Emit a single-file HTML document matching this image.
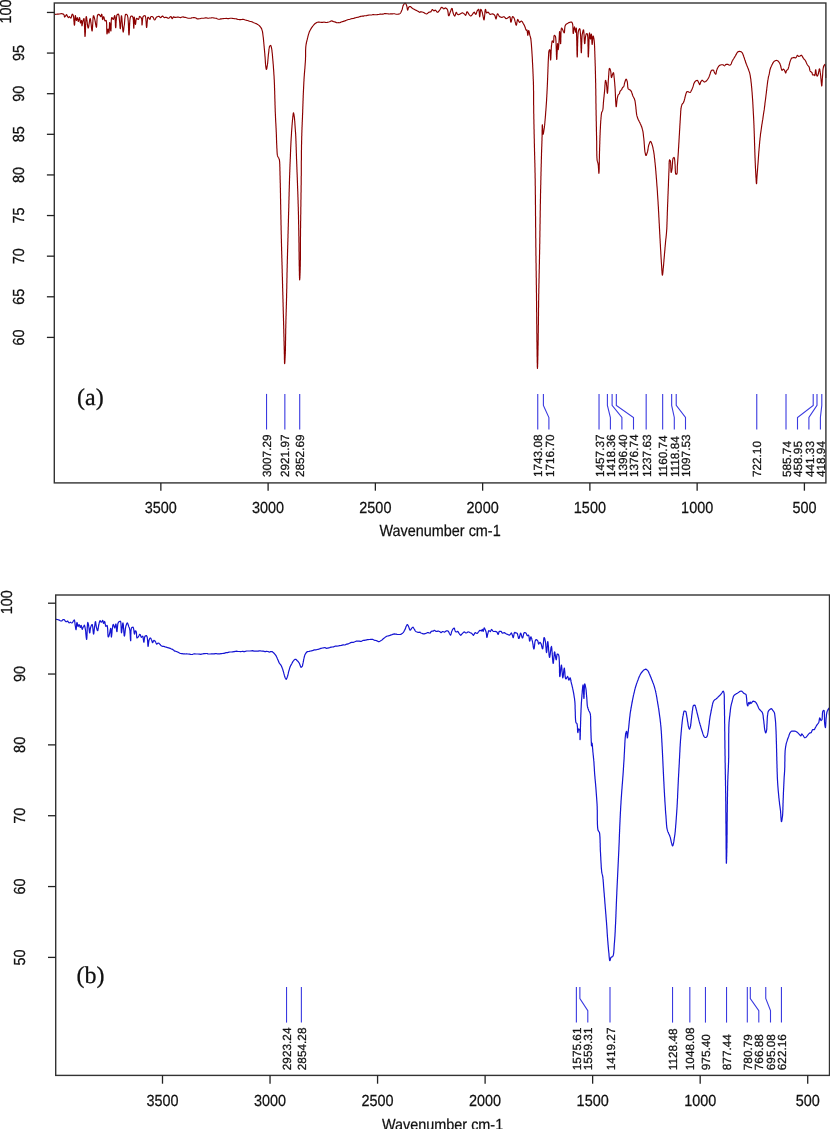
<!DOCTYPE html><html><head><meta charset="utf-8"><style>
html,body{margin:0;padding:0;background:#fff;}
svg{display:block;text-rendering:geometricPrecision;}
text{filter:grayscale(1);stroke:#111;stroke-width:0.25px;}
.ax{font-family:"Liberation Sans", sans-serif;font-size:16px;fill:#111;}
.tt{font-family:"Liberation Sans", sans-serif;font-size:16px;fill:#111;}
.an{font-family:"Liberation Sans", sans-serif;font-size:11.8px;fill:#111;}
.pl{font-family:"Liberation Serif", serif;font-size:24px;fill:#111;}
</style></head><body>
<svg width="830" height="1129" viewBox="0 0 830 1129">
<rect width="830" height="1129" fill="#fff"/>
<path d="M54.0,14.2 54.8,14.3 55.6,14.3 56.4,14.2 57.3,14.1 58.2,14.1 59.0,14.0 59.9,13.9 60.7,13.7 61.4,13.6 62.1,13.7 62.7,13.9 63.2,14.1 63.6,14.3 64.1,15.0 64.3,15.9 64.4,16.7 64.6,17.1 65.0,16.7 65.6,15.9 66.1,15.0 66.5,14.5 66.9,15.0 67.2,15.8 67.5,16.6 68.5,17.6 69.4,16.6 70.1,17.4 70.9,18.2 71.2,17.6 71.5,16.6 71.8,15.5 72.0,14.6 72.3,14.2 72.8,14.6 73.3,15.6 73.4,16.1 73.5,16.8 73.7,17.6 73.8,18.6 73.8,19.6 73.9,20.6 74.0,21.6 74.1,22.5 74.1,23.4 74.2,24.2 74.3,24.7 74.4,25.1 74.4,25.2 74.5,25.1 74.6,24.6 74.7,23.9 74.7,23.1 74.8,22.1 74.9,21.0 74.9,19.9 75.0,18.8 75.1,17.8 75.1,16.9 75.2,16.2 75.3,15.8 75.4,15.6 75.5,15.9 75.6,16.5 75.8,17.5 75.9,18.5 76.1,19.5 76.2,20.1 76.4,20.5 76.6,20.0 76.8,19.0 77.1,18.0 77.3,17.7 77.5,17.9 77.7,18.9 77.9,20.0 78.1,21.0 78.3,21.5 78.5,21.0 78.8,20.0 79.1,18.9 79.3,17.9 79.5,17.6 79.7,17.8 79.8,18.6 80.0,19.6 80.1,20.7 80.2,21.8 80.3,22.5 80.5,22.9 80.8,22.2 81.2,21.0 81.5,20.4 81.6,20.7 81.7,21.5 81.7,22.5 81.8,23.6 81.8,24.7 81.9,25.4 82.0,25.8 82.1,25.5 82.2,24.9 82.4,24.0 82.6,23.1 82.7,22.2 82.9,21.4 83.2,20.5 83.4,19.5 83.7,18.8 83.9,18.5 84.0,18.6 84.0,18.8 84.1,19.2 84.2,19.7 84.2,20.4 84.3,21.1 84.3,21.9 84.4,22.8 84.4,23.8 84.5,24.8 84.5,25.8 84.5,26.9 84.6,28.0 84.6,29.0 84.7,30.1 84.7,31.1 84.7,32.0 84.8,32.9 84.8,33.7 84.8,34.5 84.9,35.1 84.9,35.6 84.9,36.0 85.0,36.2 85.0,36.4 85.1,36.3 85.1,36.0 85.2,35.7 85.2,35.2 85.2,34.7 85.3,34.0 85.3,33.2 85.4,32.4 85.4,31.5 85.4,30.6 85.5,29.6 85.5,28.6 85.5,27.5 85.6,26.5 85.6,25.4 85.7,24.4 85.7,23.3 85.7,22.3 85.8,21.4 85.8,20.5 85.9,19.7 85.9,18.9 86.0,18.2 86.0,17.7 86.1,17.2 86.2,16.9 86.2,16.6 86.3,16.6 86.4,16.7 86.5,17.1 86.6,17.6 86.7,18.4 86.8,19.2 86.9,20.2 87.1,21.3 87.2,22.3 87.3,23.4 87.4,24.5 87.6,25.4 87.7,26.3 87.8,27.1 88.0,27.6 88.1,28.0 88.2,28.0 88.4,28.0 88.5,27.6 88.6,27.0 88.8,26.2 88.9,25.3 89.0,24.3 89.2,23.3 89.3,22.3 89.5,21.3 89.6,20.4 89.7,19.6 89.9,19.0 90.0,18.6 90.1,18.6 90.3,18.6 90.4,18.9 90.5,19.4 90.6,20.1 90.7,20.9 90.8,21.8 90.9,22.7 91.1,23.7 91.2,24.8 91.3,25.8 91.4,26.8 91.5,27.8 91.6,28.7 91.7,29.5 91.8,30.1 91.9,30.6 92.0,30.9 92.1,31.0 92.2,30.9 92.2,30.7 92.3,30.2 92.4,29.7 92.4,29.0 92.5,28.2 92.5,27.3 92.6,26.4 92.6,25.4 92.7,24.4 92.8,23.3 92.8,22.3 92.9,21.3 92.9,20.3 93.0,19.3 93.0,18.4 93.1,17.7 93.2,17.0 93.3,16.4 93.3,16.0 93.4,15.7 93.5,15.7 93.7,15.8 93.9,16.2 94.1,16.9 94.3,17.8 94.6,18.7 94.8,19.6 95.0,20.4 95.1,21.2 95.3,22.1 95.5,23.1 95.6,24.1 95.8,25.0 96.0,25.9 96.1,26.6 96.3,27.0 96.4,27.3 96.5,27.1 96.6,26.8 96.6,26.3 96.7,25.7 96.7,25.0 96.8,24.1 96.8,23.2 96.9,22.3 96.9,21.3 97.0,20.3 97.0,19.3 97.1,18.4 97.2,17.5 97.3,16.6 97.4,15.9 97.5,15.3 97.7,14.9 97.9,14.7 98.6,14.4 99.3,14.6 99.8,15.3 100.3,16.2 100.7,16.6 101.1,15.9 101.4,14.8 101.7,14.2 101.9,14.5 102.0,15.2 102.1,16.3 102.3,17.4 102.4,18.4 102.5,19.2 102.7,19.6 102.9,19.0 103.1,18.0 103.4,17.0 103.6,16.7 103.9,16.9 104.1,17.6 104.3,18.6 104.5,19.7 104.8,20.5 105.1,20.9 106.0,20.3 106.2,20.5 106.3,21.0 106.4,21.5 106.5,22.2 106.6,23.0 106.6,23.8 106.7,24.8 106.7,25.8 106.7,26.8 106.7,27.9 106.7,28.9 106.8,29.9 106.8,30.8 106.8,31.7 106.8,32.4 106.9,33.0 106.9,33.5 106.9,33.8 107.0,33.9 107.1,33.7 107.3,33.0 107.4,32.0 107.5,31.0 107.7,30.1 107.8,29.4 108.0,29.0 108.2,29.5 108.4,30.5 108.6,31.6 108.8,32.6 108.9,33.0 109.0,32.8 109.1,32.4 109.1,31.8 109.2,31.1 109.3,30.2 109.3,29.2 109.3,28.2 109.4,27.1 109.4,26.1 109.5,25.1 109.5,24.2 109.5,23.5 109.6,22.9 109.6,22.5 109.7,22.5 109.8,22.5 109.9,23.0 110.0,23.7 110.1,24.6 110.2,25.6 110.3,26.7 110.4,27.8 110.5,28.8 110.6,29.7 110.7,30.4 110.8,30.9 110.9,31.0 110.9,30.9 111.0,30.6 111.0,30.1 111.0,29.5 111.1,28.7 111.1,27.9 111.1,26.9 111.1,25.9 111.2,24.9 111.2,23.8 111.2,22.8 111.2,21.8 111.3,20.8 111.3,20.0 111.4,19.2 111.5,18.5 111.6,18.0 111.7,17.7 111.8,17.5 112.3,18.0 112.8,19.0 113.3,19.5 113.6,19.0 113.9,18.1 114.2,16.9 114.5,16.0 114.7,15.6 114.8,15.7 114.9,16.1 115.0,16.6 115.1,17.3 115.1,18.2 115.2,19.1 115.2,20.1 115.3,21.1 115.3,22.2 115.4,23.2 115.4,24.2 115.4,25.2 115.5,26.0 115.5,26.7 115.6,27.2 115.6,27.5 115.7,27.7 115.8,27.5 115.8,27.3 115.9,26.8 115.9,26.2 116.0,25.4 116.0,24.6 116.0,23.7 116.1,22.7 116.1,21.7 116.2,20.7 116.3,19.6 116.4,18.6 116.4,17.7 116.6,16.9 116.7,16.1 116.8,15.5 117.0,15.0 117.1,14.6 118.4,14.1 118.6,14.3 118.7,14.7 118.9,15.3 119.0,15.9 119.1,16.7 119.2,17.6 119.3,18.6 119.4,19.6 119.5,20.6 119.6,21.7 119.7,22.7 119.8,23.7 119.8,24.7 119.9,25.6 120.0,26.5 120.0,27.2 120.1,27.8 120.2,28.2 120.2,28.5 120.3,28.7 120.4,28.5 120.5,28.2 120.5,27.6 120.6,27.0 120.7,26.2 120.7,25.2 120.8,24.2 120.9,23.2 120.9,22.1 121.0,21.0 121.0,20.0 121.1,19.0 121.1,18.1 121.2,17.2 121.3,16.6 121.3,16.0 121.4,15.7 121.5,15.7 121.5,15.7 121.6,16.0 121.7,16.4 121.7,16.9 121.8,17.6 121.9,18.4 122.0,19.2 122.0,20.2 122.1,21.2 122.2,22.2 122.3,23.3 122.4,24.3 122.4,25.4 122.5,26.4 122.6,27.4 122.7,28.4 122.7,29.2 122.8,30.0 122.9,30.7 123.0,31.2 123.1,31.6 123.1,31.9 123.2,32.1 123.3,31.9 123.4,31.5 123.5,31.0 123.6,30.4 123.7,29.6 123.8,28.7 123.9,27.8 124.0,26.9 124.1,26.0 124.3,25.1 124.4,24.3 124.5,23.6 124.5,22.7 124.6,21.9 124.7,21.0 124.7,20.0 124.8,19.1 124.9,18.2 125.0,17.3 125.1,16.5 125.2,15.8 125.3,15.2 125.4,14.7 125.6,14.4 125.8,14.3 126.5,14.4 127.3,15.1 127.4,15.4 127.5,15.8 127.6,16.4 127.8,17.0 127.9,17.6 128.0,18.4 128.0,19.2 128.1,20.1 128.2,21.0 128.3,21.9 128.3,22.9 128.4,23.9 128.4,24.9 128.5,25.9 128.5,26.9 128.5,27.8 128.6,28.8 128.6,29.7 128.6,30.6 128.7,31.4 128.7,32.1 128.7,32.8 128.8,33.4 128.8,33.9 128.8,34.3 128.9,34.6 128.9,34.8 129.0,35.0 129.0,34.8 129.1,34.6 129.1,34.2 129.2,33.8 129.2,33.2 129.3,32.6 129.3,31.8 129.3,31.0 129.4,30.2 129.4,29.2 129.5,28.3 129.5,27.3 129.5,26.3 129.6,25.4 129.6,24.4 129.7,23.4 129.7,22.5 129.8,21.7 129.8,20.9 129.9,20.1 130.0,19.5 130.1,18.9 130.1,18.5 130.4,17.4 130.7,16.5 131.1,16.0 131.8,16.1 132.6,16.6 132.7,16.9 132.9,17.5 133.1,18.1 133.2,18.9 133.3,19.8 133.4,20.8 133.4,21.8 133.5,22.9 133.5,23.9 133.6,24.8 133.6,25.7 133.6,26.5 133.7,27.2 133.7,27.7 133.8,28.0 133.8,28.2 133.9,28.0 133.9,27.6 133.9,27.0 133.9,26.2 134.0,25.3 134.0,24.2 134.0,23.1 134.0,22.0 134.0,21.0 134.0,19.9 134.0,19.0 134.1,18.2 134.1,17.6 134.2,17.2 134.2,17.1 134.3,17.2 134.4,17.8 134.5,18.6 134.6,19.6 134.8,20.7 134.9,21.7 135.0,22.7 135.2,23.5 135.3,24.1 135.4,24.4 135.6,24.0 135.7,23.4 135.8,22.5 135.9,21.4 136.0,20.3 136.2,19.3 136.4,18.6 136.6,18.3 137.2,18.6 137.9,19.3 138.4,19.5 138.8,18.9 139.1,17.9 139.3,16.9 139.6,16.4 140.2,16.7 140.9,17.4 141.4,18.3 141.6,18.9 141.8,19.7 141.8,20.6 141.9,21.6 141.9,22.6 141.9,23.5 141.9,24.2 142.0,24.7 142.0,24.9 142.1,24.7 142.2,24.3 142.2,23.7 142.3,23.0 142.3,22.1 142.4,21.1 142.5,20.1 142.6,19.2 142.7,18.3 142.8,17.5 143.0,16.9 143.3,16.4 144.1,15.7 145.1,15.6 145.3,16.1 145.5,16.6 145.6,17.2 145.7,17.9 145.9,18.8 145.9,19.8 146.0,20.8 146.1,21.8 146.2,22.9 146.2,23.9 146.3,24.8 146.3,25.6 146.4,26.3 146.5,26.8 146.5,27.2 146.6,27.5 146.7,27.1 146.8,26.7 146.9,26.1 147.0,25.3 147.0,24.4 147.1,23.3 147.2,22.3 147.3,21.2 147.4,20.1 147.5,19.2 147.6,18.3 147.7,17.7 147.9,17.2 148.1,17.2 148.5,17.4 149.0,18.2 149.5,19.1 149.9,19.4 150.2,19.0 150.4,18.0 150.7,17.0 151.1,16.5 152.0,16.5 152.9,17.0 153.3,17.6 153.7,18.4 154.0,19.2 154.3,19.8 154.7,19.9 155.0,19.8 155.4,19.2 155.7,18.4 156.1,17.6 156.5,17.1 157.3,16.8 158.1,16.5 158.9,16.3 159.6,16.7 160.1,17.4 160.7,17.6 161.3,17.2 161.9,16.4 162.5,16.0 163.1,16.5 163.7,17.2 164.3,17.6 165.2,17.4 166.1,17.3 166.9,17.6 167.7,18.1 168.6,18.3 169.2,18.0 169.8,17.3 170.4,16.8 171.0,16.5 171.4,17.1 171.8,18.2 172.2,18.7 172.5,18.4 172.9,17.6 173.4,16.9 174.1,17.1 174.9,17.4 175.8,17.4 176.6,17.3 177.4,17.1 178.2,17.0 179.0,17.2 179.8,17.5 180.6,17.6 181.4,17.3 182.2,17.0 183.0,16.9 183.7,17.1 184.4,17.3 185.1,17.3 185.9,17.5 186.6,17.8 187.4,18.0 188.1,18.2 188.8,18.2 189.6,18.2 190.2,18.2 191.1,18.1 191.9,17.8 192.7,17.7 193.5,17.6 194.3,17.6 195.1,17.7 195.9,18.1 196.7,18.6 197.5,18.9 198.2,18.9 199.0,18.8 199.9,18.7 200.6,18.5 201.4,18.3 202.2,18.2 203.0,18.2 203.9,18.2 204.7,18.0 205.5,17.8 206.3,17.8 207.1,18.0 207.9,18.3 208.7,18.2 209.5,18.0 210.3,18.0 211.1,17.9 211.9,17.7 212.7,17.7 213.5,17.9 214.3,18.0 215.0,18.2 215.7,18.2 216.4,18.3 217.1,18.7 217.8,19.0 218.5,19.2 219.2,19.3 220.0,19.1 220.7,18.9 221.5,18.9 222.3,18.8 223.1,18.6 224.0,18.5 224.7,18.5 225.4,18.5 226.2,18.3 227.0,18.5 227.8,18.6 228.5,18.6 229.3,18.5 230.0,18.3 230.9,18.2 231.7,18.2 232.6,18.4 233.4,18.5 234.1,18.6 234.8,18.7 235.7,18.7 236.4,18.9 237.2,19.2 237.9,19.4 238.7,19.5 239.4,19.6 240.2,19.6 240.8,19.6 241.7,19.5 242.4,19.4 243.3,19.4 243.9,19.5 244.6,19.7 245.4,20.0 246.1,20.2 246.9,20.4 247.5,20.5 248.2,20.7 248.9,21.0 249.6,21.3 250.3,21.5 251.0,21.5 251.7,21.7 252.5,22.1 253.2,22.5 253.9,22.8 254.6,23.0 255.3,23.3 256.1,23.6 256.9,24.0 257.6,24.4 258.3,24.9 259.0,25.4 259.6,26.0 260.2,26.6 260.7,27.3 261.1,27.9 261.5,28.6 261.8,29.3 262.0,30.1 262.3,30.9 262.5,31.6 262.6,32.3 262.7,33.1 262.8,33.9 262.9,34.7 263.0,35.5 263.1,36.3 263.2,37.0 263.3,37.6 263.4,38.3 263.4,39.0 263.5,39.7 263.6,40.4 263.6,41.1 263.7,41.8 263.8,42.5 263.8,43.3 263.9,44.0 264.0,44.8 264.0,45.4 264.1,46.1 264.2,46.8 264.2,47.6 264.3,48.3 264.4,49.0 264.4,49.7 264.5,50.5 264.6,51.2 264.6,51.9 264.7,52.7 264.8,53.4 264.8,54.1 264.9,54.9 264.9,55.6 265.0,56.3 265.1,57.1 265.1,57.9 265.2,58.7 265.2,59.5 265.3,60.3 265.3,61.1 265.4,61.8 265.4,62.6 265.5,63.3 265.5,64.0 265.6,64.7 265.7,65.3 265.7,65.9 265.8,66.4 265.9,67.5 266.1,68.4 266.2,69.2 266.4,69.4 266.5,69.3 266.7,68.8 266.9,68.0 267.0,67.1 267.2,66.2 267.3,65.2 267.4,64.7 267.5,64.1 267.6,63.4 267.7,62.8 267.7,62.1 267.8,61.3 267.9,60.6 267.9,59.8 268.0,59.0 268.1,58.2 268.1,57.5 268.2,56.7 268.3,55.9 268.3,55.2 268.4,54.5 268.5,53.8 268.6,53.2 268.7,52.4 268.8,51.5 268.9,50.6 268.9,49.8 269.0,48.9 269.2,48.2 269.3,47.5 269.4,46.9 269.6,46.3 269.8,46.0 270.6,45.4 270.9,45.7 271.1,46.4 271.4,47.4 271.6,48.4 271.7,48.9 271.8,49.5 271.9,50.1 272.0,50.8 272.0,51.5 272.1,52.2 272.2,53.0 272.3,53.8 272.4,54.6 272.4,55.3 272.5,56.1 272.6,56.9 272.6,57.7 272.7,58.5 272.8,59.2 272.8,59.9 272.9,60.7 273.0,61.4 273.0,62.1 273.1,62.8 273.1,63.5 273.2,64.2 273.3,65.0 273.3,65.7 273.4,66.4 273.4,67.1 273.5,67.9 273.5,68.6 273.6,69.3 273.6,70.1 273.7,70.7 273.7,71.4 273.8,72.1 273.8,72.7 273.8,73.4 273.9,74.0 273.9,74.7 274.0,75.4 274.0,76.0 274.1,76.7 274.1,77.4 274.1,78.1 274.2,78.9 274.2,79.6 274.3,80.4 274.3,81.3 274.3,82.1 274.4,82.7 274.4,83.2 274.4,83.8 274.4,84.4 274.5,85.0 274.5,85.7 274.5,86.3 274.5,87.0 274.5,87.7 274.6,88.4 274.6,89.1 274.6,89.8 274.6,90.5 274.7,91.2 274.7,92.0 274.7,92.7 274.7,93.5 274.7,94.2 274.8,95.0 274.8,95.7 274.8,96.5 274.8,97.3 274.8,98.1 274.9,98.8 274.9,99.6 274.9,100.4 274.9,101.2 275.0,101.9 275.0,102.7 275.0,103.4 275.0,104.2 275.0,104.9 275.1,105.7 275.1,106.4 275.1,107.2 275.1,107.9 275.2,108.6 275.2,109.3 275.2,110.0 275.2,110.6 275.2,111.3 275.3,111.9 275.3,112.6 275.3,113.2 275.4,114.0 275.4,114.8 275.4,115.5 275.5,116.3 275.5,117.1 275.5,117.8 275.6,118.5 275.6,119.2 275.6,119.9 275.7,120.6 275.7,121.3 275.7,122.0 275.8,122.7 275.8,123.4 275.9,124.1 275.9,124.7 275.9,125.4 276.0,126.1 276.0,126.8 276.0,127.5 276.1,128.1 276.1,128.8 276.1,129.5 276.2,130.2 276.2,130.9 276.2,131.6 276.3,132.4 276.3,133.1 276.3,133.8 276.4,134.6 276.4,135.4 276.4,136.1 276.4,136.9 276.5,137.6 276.5,138.4 276.5,139.2 276.5,139.9 276.6,140.7 276.6,141.4 276.6,142.1 276.6,142.9 276.7,143.6 276.7,144.3 276.7,145.0 276.8,145.6 276.8,146.3 276.8,146.9 276.8,147.5 276.9,148.1 276.9,148.7 277.0,149.5 277.0,150.3 277.0,151.1 277.1,151.9 277.1,152.6 277.2,153.3 277.2,154.0 277.3,154.6 277.4,155.2 277.5,155.7 277.8,156.5 278.2,157.2 278.6,157.8 278.9,158.4 279.1,159.0 279.4,159.8 279.4,160.1 279.5,160.5 279.5,160.9 279.6,161.4 279.6,161.9 279.7,162.5 279.7,163.1 279.7,163.7 279.8,164.4 279.8,165.1 279.8,165.9 279.8,166.6 279.9,167.4 279.9,168.2 279.9,169.1 279.9,169.9 279.9,170.8 280.0,171.6 280.0,172.5 280.0,173.4 280.0,174.2 280.0,175.1 280.1,176.0 280.1,176.8 280.1,177.6 280.1,178.5 280.1,179.3 280.2,179.9 280.2,180.6 280.2,181.2 280.2,181.9 280.2,182.6 280.3,183.2 280.3,183.9 280.3,184.6 280.3,185.3 280.3,186.0 280.3,186.7 280.3,187.4 280.4,188.1 280.4,188.8 280.4,189.5 280.4,190.3 280.4,191.0 280.4,191.7 280.4,192.4 280.5,193.2 280.5,193.9 280.5,194.6 280.5,195.4 280.5,196.1 280.5,196.8 280.5,197.6 280.5,198.3 280.6,199.1 280.6,199.8 280.6,200.5 280.6,201.3 280.6,202.0 280.6,202.7 280.6,203.5 280.6,204.2 280.7,204.9 280.7,205.7 280.7,206.4 280.7,207.1 280.7,207.8 280.7,208.5 280.7,209.3 280.8,210.0 280.8,210.7 280.8,211.4 280.8,212.1 280.8,212.8 280.8,213.5 280.8,214.2 280.9,215.0 280.9,215.7 280.9,216.4 280.9,217.1 280.9,217.8 280.9,218.5 280.9,219.2 281.0,220.0 281.0,220.7 281.0,221.4 281.0,222.1 281.0,222.8 281.0,223.5 281.0,224.2 281.0,225.0 281.1,225.7 281.1,226.4 281.1,227.1 281.1,227.8 281.1,228.5 281.1,229.2 281.1,230.0 281.2,230.7 281.2,231.4 281.2,232.1 281.2,232.8 281.2,233.5 281.2,234.2 281.3,234.9 281.3,235.7 281.3,236.4 281.3,237.1 281.3,237.8 281.3,238.5 281.4,239.2 281.4,239.9 281.4,240.7 281.4,241.4 281.4,242.1 281.4,242.8 281.5,243.5 281.5,244.2 281.5,244.9 281.5,245.7 281.5,246.4 281.6,247.1 281.6,247.8 281.6,248.5 281.6,249.2 281.6,249.9 281.6,250.7 281.7,251.4 281.7,252.1 281.7,252.8 281.7,253.5 281.7,254.2 281.8,254.9 281.8,255.7 281.8,256.4 281.8,257.1 281.8,257.8 281.9,258.5 281.9,259.2 281.9,259.9 281.9,260.6 281.9,261.4 282.0,262.1 282.0,262.8 282.0,263.5 282.0,264.2 282.0,264.9 282.1,265.6 282.1,266.4 282.1,267.1 282.1,267.8 282.1,268.5 282.2,269.2 282.2,269.9 282.2,270.6 282.2,271.4 282.2,272.1 282.2,272.8 282.3,273.5 282.3,274.2 282.3,274.9 282.3,275.6 282.3,276.4 282.4,277.1 282.4,277.8 282.4,278.5 282.4,279.2 282.4,279.9 282.5,280.6 282.5,281.4 282.5,282.1 282.5,282.8 282.5,283.5 282.6,284.2 282.6,284.9 282.6,285.6 282.6,286.3 282.6,287.1 282.6,287.8 282.7,288.5 282.7,289.2 282.7,289.9 282.7,290.6 282.7,291.3 282.8,292.1 282.8,292.8 282.8,293.5 282.8,294.2 282.8,294.9 282.9,295.6 282.9,296.3 282.9,297.1 282.9,297.8 282.9,298.5 283.0,299.2 283.0,299.9 283.0,300.7 283.0,301.4 283.0,302.1 283.1,302.8 283.1,303.6 283.1,304.3 283.1,305.0 283.1,305.7 283.1,306.5 283.2,307.2 283.2,307.9 283.2,308.6 283.2,309.4 283.2,310.1 283.3,310.8 283.3,311.5 283.3,312.3 283.3,313.0 283.3,313.7 283.4,314.4 283.4,315.1 283.4,315.9 283.4,316.6 283.4,317.3 283.5,318.0 283.5,318.7 283.5,319.4 283.5,320.1 283.5,320.8 283.6,321.5 283.6,322.2 283.6,322.9 283.6,323.6 283.6,324.3 283.6,324.9 283.7,325.6 283.7,326.4 283.7,327.1 283.7,327.9 283.7,328.6 283.8,329.4 283.8,330.1 283.8,330.8 283.8,331.6 283.8,332.3 283.8,333.1 283.9,333.8 283.9,334.5 283.9,335.3 283.9,336.0 283.9,336.7 284.0,337.5 284.0,338.2 284.0,338.9 284.0,339.6 284.0,340.3 284.0,341.0 284.1,341.7 284.1,342.4 284.1,343.1 284.1,343.8 284.1,344.5 284.1,345.1 284.2,345.8 284.2,346.5 284.2,347.1 284.2,347.8 284.2,348.4 284.2,349.0 284.3,349.9 284.3,350.8 284.3,351.7 284.3,352.6 284.3,353.6 284.4,354.6 284.4,355.6 284.4,356.5 284.4,357.5 284.4,358.4 284.4,359.3 284.5,360.1 284.5,360.8 284.5,361.5 284.5,362.1 284.5,362.7 284.6,363.1 284.6,363.4 284.6,363.6 284.6,363.6 284.7,363.6 284.7,363.3 284.8,362.8 284.8,362.2 284.9,361.5 284.9,360.7 285.0,359.8 285.0,358.8 285.1,357.8 285.1,356.8 285.2,355.8 285.2,354.9 285.2,354.4 285.3,353.8 285.3,353.3 285.3,352.7 285.3,352.1 285.3,351.5 285.4,350.9 285.4,350.2 285.4,349.6 285.4,348.9 285.4,348.3 285.4,347.6 285.4,346.9 285.5,346.2 285.5,345.4 285.5,344.7 285.5,344.0 285.5,343.2 285.5,342.5 285.5,341.7 285.5,340.9 285.6,340.2 285.6,339.4 285.6,338.6 285.6,337.8 285.6,337.0 285.6,336.3 285.6,335.5 285.6,334.7 285.7,333.9 285.7,333.1 285.7,332.4 285.7,331.6 285.7,330.8 285.7,330.0 285.7,329.3 285.7,328.5 285.8,327.8 285.8,327.1 285.8,326.3 285.8,325.6 285.8,324.9 285.8,324.2 285.9,323.5 285.9,322.8 285.9,322.0 285.9,321.3 285.9,320.6 285.9,319.9 286.0,319.2 286.0,318.5 286.0,317.8 286.0,317.0 286.0,316.3 286.1,315.6 286.1,314.9 286.1,314.2 286.1,313.5 286.1,312.8 286.2,312.0 286.2,311.3 286.2,310.6 286.2,309.9 286.2,309.2 286.3,308.5 286.3,307.8 286.3,307.0 286.3,306.3 286.3,305.6 286.4,304.9 286.4,304.2 286.4,303.5 286.4,302.8 286.4,302.1 286.5,301.3 286.5,300.6 286.5,299.9 286.5,299.2 286.5,298.5 286.6,297.8 286.6,297.1 286.6,296.3 286.6,295.6 286.6,294.9 286.6,294.2 286.6,293.5 286.7,292.8 286.7,292.1 286.7,291.3 286.7,290.6 286.7,289.9 286.7,289.2 286.8,288.5 286.8,287.8 286.8,287.1 286.8,286.3 286.8,285.6 286.8,284.9 286.8,284.2 286.8,283.5 286.9,282.8 286.9,282.1 286.9,281.4 286.9,280.6 286.9,279.9 286.9,279.2 286.9,278.5 287.0,277.8 287.0,277.1 287.0,276.4 287.0,275.6 287.0,274.9 287.0,274.2 287.0,273.5 287.0,272.8 287.1,272.1 287.1,271.4 287.1,270.6 287.1,269.9 287.1,269.2 287.1,268.5 287.2,267.8 287.2,267.1 287.2,266.4 287.2,265.6 287.2,264.9 287.2,264.2 287.3,263.5 287.3,262.8 287.3,262.1 287.3,261.4 287.3,260.6 287.3,259.9 287.4,259.2 287.4,258.5 287.4,257.8 287.4,257.1 287.4,256.4 287.5,255.7 287.5,254.9 287.5,254.2 287.5,253.5 287.5,252.8 287.6,252.1 287.6,251.4 287.6,250.7 287.6,249.9 287.6,249.2 287.7,248.5 287.7,247.8 287.7,247.1 287.7,246.4 287.7,245.7 287.8,244.9 287.8,244.2 287.8,243.5 287.8,242.8 287.8,242.1 287.9,241.4 287.9,240.7 287.9,239.9 287.9,239.2 287.9,238.5 288.0,237.8 288.0,237.1 288.0,236.4 288.0,235.7 288.0,234.9 288.0,234.2 288.1,233.5 288.1,232.8 288.1,232.1 288.1,231.4 288.1,230.7 288.2,230.0 288.2,229.2 288.2,228.5 288.2,227.8 288.2,227.1 288.3,226.4 288.3,225.7 288.3,225.0 288.3,224.2 288.3,223.5 288.4,222.8 288.4,222.1 288.4,221.4 288.4,220.7 288.4,220.0 288.4,219.2 288.5,218.5 288.5,217.8 288.5,217.1 288.5,216.4 288.5,215.7 288.6,215.0 288.6,214.2 288.6,213.5 288.6,212.8 288.6,212.1 288.7,211.4 288.7,210.7 288.7,210.0 288.7,209.3 288.7,208.5 288.8,207.8 288.8,207.1 288.8,206.4 288.8,205.7 288.8,204.9 288.8,204.2 288.9,203.5 288.9,202.7 288.9,202.0 288.9,201.3 288.9,200.5 289.0,199.8 289.0,199.0 289.0,198.3 289.0,197.6 289.0,196.8 289.1,196.1 289.1,195.4 289.1,194.6 289.1,193.9 289.1,193.2 289.1,192.4 289.2,191.7 289.2,191.0 289.2,190.2 289.2,189.5 289.2,188.8 289.3,188.1 289.3,187.4 289.3,186.7 289.3,186.0 289.3,185.3 289.4,184.6 289.4,183.9 289.4,183.2 289.4,182.5 289.4,181.9 289.5,181.2 289.5,180.6 289.5,179.9 289.5,179.3 289.5,178.5 289.6,177.7 289.6,177.0 289.6,176.2 289.6,175.5 289.7,174.7 289.7,174.0 289.7,173.3 289.7,172.6 289.8,171.9 289.8,171.2 289.8,170.5 289.8,169.8 289.9,169.1 289.9,168.4 289.9,167.7 289.9,167.1 290.0,166.4 290.0,165.7 290.0,165.0 290.0,164.3 290.1,163.6 290.1,162.9 290.1,162.2 290.2,161.5 290.2,160.8 290.2,160.1 290.2,159.4 290.3,158.7 290.3,158.0 290.3,157.3 290.4,156.6 290.4,155.9 290.4,155.1 290.4,154.4 290.5,153.7 290.5,153.0 290.5,152.2 290.6,151.5 290.6,150.8 290.6,150.1 290.6,149.3 290.7,148.6 290.7,147.9 290.7,147.2 290.8,146.5 290.8,145.8 290.8,145.1 290.9,144.4 290.9,143.7 290.9,143.0 291.0,142.4 291.0,141.7 291.0,141.1 291.1,140.4 291.1,139.8 291.1,139.0 291.2,138.3 291.2,137.5 291.3,136.8 291.3,136.0 291.4,135.3 291.4,134.6 291.5,133.9 291.5,133.2 291.5,132.5 291.6,131.8 291.6,131.1 291.7,130.4 291.7,129.8 291.8,129.1 291.8,128.4 291.9,127.8 291.9,127.1 292.0,126.5 292.0,125.7 292.1,124.9 292.2,124.0 292.2,123.2 292.3,122.4 292.4,121.6 292.4,120.9 292.5,120.1 292.6,119.4 292.7,118.7 292.7,118.0 292.8,117.3 292.9,116.7 293.0,115.7 293.1,114.6 293.2,113.7 293.4,113.0 293.5,112.8 293.6,112.9 293.7,113.4 293.9,114.0 294.0,114.9 294.1,115.8 294.3,116.7 294.4,117.6 294.5,118.2 294.5,118.9 294.6,119.5 294.6,120.2 294.7,121.0 294.8,121.7 294.8,122.5 294.9,123.3 294.9,124.1 295.0,124.9 295.0,125.6 295.1,126.4 295.1,127.1 295.2,127.8 295.2,128.5 295.3,129.1 295.3,130.0 295.4,130.7 295.4,131.4 295.5,132.1 295.6,132.8 295.6,133.6 295.7,134.4 295.7,135.4 295.7,135.8 295.8,136.4 295.8,136.9 295.8,137.5 295.8,138.1 295.9,138.7 295.9,139.3 295.9,140.0 295.9,140.6 296.0,141.3 296.0,142.0 296.0,142.7 296.0,143.5 296.1,144.2 296.1,145.0 296.1,145.7 296.1,146.5 296.2,147.3 296.2,148.1 296.2,148.8 296.2,149.6 296.3,150.4 296.3,151.2 296.3,152.0 296.3,152.8 296.4,153.5 296.4,154.3 296.4,155.1 296.4,155.8 296.5,156.6 296.5,157.3 296.5,158.0 296.5,158.7 296.6,159.4 296.6,160.1 296.6,160.8 296.7,161.6 296.7,162.3 296.7,163.0 296.7,163.7 296.8,164.4 296.8,165.1 296.8,165.8 296.8,166.5 296.9,167.2 296.9,167.9 296.9,168.6 296.9,169.2 297.0,169.9 297.0,170.6 297.0,171.3 297.0,172.0 297.1,172.7 297.1,173.4 297.1,174.1 297.2,174.8 297.2,175.5 297.2,176.2 297.2,177.0 297.3,177.7 297.3,178.5 297.3,179.3 297.3,179.9 297.4,180.6 297.4,181.2 297.4,181.9 297.4,182.5 297.5,183.2 297.5,183.9 297.5,184.6 297.5,185.3 297.6,186.0 297.6,186.7 297.6,187.4 297.6,188.1 297.7,188.8 297.7,189.5 297.7,190.2 297.7,191.0 297.8,191.7 297.8,192.4 297.8,193.2 297.8,193.9 297.9,194.6 297.9,195.4 297.9,196.1 297.9,196.8 298.0,197.6 298.0,198.3 298.0,199.0 298.0,199.8 298.1,200.5 298.1,201.3 298.1,202.0 298.1,202.7 298.1,203.5 298.2,204.2 298.2,204.9 298.2,205.7 298.2,206.4 298.3,207.1 298.3,207.8 298.3,208.5 298.3,209.3 298.3,210.0 298.3,210.7 298.4,211.4 298.4,212.1 298.4,212.8 298.4,213.5 298.4,214.2 298.5,215.0 298.5,215.7 298.5,216.4 298.5,217.1 298.5,217.8 298.5,218.5 298.5,219.2 298.6,220.0 298.6,220.7 298.6,221.4 298.6,222.1 298.6,222.8 298.6,223.5 298.6,224.2 298.7,225.0 298.7,225.7 298.7,226.4 298.7,227.1 298.7,227.8 298.7,228.5 298.7,229.2 298.7,230.0 298.8,230.7 298.8,231.4 298.8,232.1 298.8,232.8 298.8,233.5 298.8,234.2 298.8,234.9 298.8,235.7 298.9,236.4 298.9,237.1 298.9,237.8 298.9,238.5 298.9,239.2 298.9,240.0 298.9,240.7 298.9,241.5 298.9,242.2 299.0,242.9 299.0,243.7 299.0,244.5 299.0,245.2 299.0,246.0 299.0,246.7 299.0,247.5 299.0,248.3 299.0,249.0 299.0,249.8 299.0,250.5 299.0,251.3 299.1,252.1 299.1,252.8 299.1,253.6 299.1,254.3 299.1,255.1 299.1,255.8 299.1,256.5 299.1,257.3 299.1,258.0 299.1,258.7 299.1,259.4 299.2,260.1 299.2,260.8 299.2,261.5 299.2,262.1 299.2,262.8 299.2,263.4 299.2,264.1 299.2,264.7 299.2,265.3 299.2,265.9 299.3,266.5 299.3,267.1 299.3,267.9 299.3,268.9 299.3,269.8 299.3,270.7 299.4,271.7 299.4,272.6 299.4,273.6 299.4,274.5 299.4,275.3 299.5,276.1 299.5,276.9 299.5,277.6 299.5,278.2 299.6,278.7 299.6,279.2 299.6,279.5 299.6,279.7 299.7,279.8 299.7,279.7 299.7,279.5 299.7,279.2 299.8,278.7 299.8,278.2 299.9,277.6 299.9,276.9 299.9,276.1 300.0,275.3 300.0,274.5 300.0,273.6 300.1,272.6 300.1,271.7 300.1,270.7 300.2,269.8 300.2,268.9 300.2,267.9 300.2,267.1 300.3,266.5 300.3,265.9 300.3,265.3 300.3,264.7 300.3,264.1 300.3,263.4 300.3,262.8 300.3,262.1 300.3,261.5 300.3,260.8 300.4,260.1 300.4,259.4 300.4,258.7 300.4,258.0 300.4,257.3 300.4,256.5 300.4,255.8 300.4,255.1 300.4,254.3 300.4,253.6 300.4,252.8 300.4,252.1 300.4,251.3 300.4,250.5 300.4,249.8 300.4,249.0 300.4,248.3 300.4,247.5 300.4,246.7 300.4,246.0 300.4,245.2 300.4,244.5 300.4,243.7 300.4,242.9 300.4,242.2 300.4,241.5 300.4,240.7 300.4,240.0 300.4,239.2 300.4,238.5 300.4,237.8 300.4,237.1 300.5,236.4 300.5,235.7 300.5,234.9 300.5,234.2 300.5,233.5 300.5,232.8 300.5,232.1 300.5,231.4 300.5,230.7 300.5,230.0 300.5,229.2 300.5,228.5 300.6,227.8 300.6,227.1 300.6,226.4 300.6,225.7 300.6,225.0 300.6,224.2 300.6,223.5 300.6,222.8 300.6,222.1 300.6,221.4 300.7,220.7 300.7,220.0 300.7,219.2 300.7,218.5 300.7,217.8 300.7,217.1 300.7,216.4 300.7,215.7 300.7,215.0 300.8,214.2 300.8,213.5 300.8,212.8 300.8,212.1 300.8,211.4 300.8,210.7 300.8,210.0 300.8,209.3 300.8,208.5 300.8,207.8 300.8,207.1 300.9,206.4 300.9,205.7 300.9,205.0 300.9,204.3 300.9,203.5 300.9,202.8 300.9,202.1 300.9,201.4 300.9,200.7 300.9,200.0 301.0,199.3 301.0,198.6 301.0,197.9 301.0,197.1 301.0,196.4 301.0,195.7 301.0,195.0 301.0,194.3 301.0,193.6 301.0,192.9 301.1,192.2 301.1,191.5 301.1,190.7 301.1,190.0 301.1,189.3 301.1,188.6 301.1,187.9 301.1,187.2 301.1,186.5 301.1,185.7 301.2,185.0 301.2,184.3 301.2,183.6 301.2,182.9 301.2,182.1 301.2,181.4 301.2,180.7 301.2,180.0 301.2,179.3 301.2,178.6 301.2,177.9 301.2,177.1 301.2,176.4 301.3,175.7 301.3,175.0 301.3,174.2 301.3,173.5 301.3,172.8 301.3,172.0 301.3,171.3 301.3,170.5 301.3,169.8 301.3,169.1 301.3,168.3 301.3,167.6 301.3,166.8 301.3,166.1 301.3,165.3 301.3,164.6 301.3,163.9 301.3,163.1 301.3,162.4 301.3,161.6 301.3,160.9 301.4,160.2 301.4,159.5 301.4,158.7 301.4,158.0 301.4,157.3 301.4,156.6 301.4,155.9 301.4,155.2 301.4,154.5 301.4,153.8 301.4,153.2 301.4,152.5 301.4,151.8 301.4,151.2 301.4,150.5 301.5,149.9 301.5,149.3 301.5,148.7 301.5,147.9 301.5,147.1 301.5,146.3 301.5,145.5 301.5,144.8 301.6,144.1 301.6,143.3 301.6,142.6 301.6,141.9 301.6,141.2 301.6,140.5 301.7,139.8 301.7,139.1 301.7,138.5 301.7,137.8 301.7,137.1 301.7,136.4 301.8,135.8 301.8,135.1 301.8,134.4 301.8,133.7 301.8,133.0 301.9,132.3 301.9,131.6 301.9,130.9 301.9,130.2 302.0,129.5 302.0,128.8 302.0,128.1 302.0,127.4 302.1,126.7 302.1,126.0 302.1,125.2 302.2,124.5 302.2,123.8 302.2,123.1 302.2,122.4 302.3,121.7 302.3,121.0 302.3,120.3 302.4,119.6 302.4,118.9 302.4,118.2 302.5,117.4 302.5,116.7 302.5,116.0 302.5,115.3 302.6,114.6 302.6,113.9 302.6,113.2 302.7,112.5 302.7,111.8 302.7,111.1 302.7,110.4 302.7,109.6 302.8,108.9 302.8,108.2 302.8,107.5 302.8,106.8 302.9,106.1 302.9,105.4 302.9,104.7 302.9,104.0 303.0,103.3 303.0,102.6 303.0,101.8 303.0,101.1 303.1,100.4 303.1,99.7 303.1,99.0 303.1,98.3 303.2,97.6 303.2,96.9 303.2,96.2 303.2,95.5 303.3,94.8 303.3,94.0 303.3,93.3 303.4,92.6 303.4,91.9 303.4,91.2 303.5,90.5 303.5,89.8 303.5,89.1 303.6,88.4 303.6,87.7 303.6,86.9 303.7,86.2 303.7,85.5 303.7,84.8 303.8,84.1 303.8,83.4 303.8,82.7 303.9,82.0 303.9,81.3 304.0,80.6 304.0,79.9 304.0,79.1 304.1,78.4 304.1,77.7 304.2,77.0 304.2,76.3 304.3,75.6 304.3,74.9 304.4,74.2 304.4,73.4 304.5,72.7 304.6,72.0 304.6,71.3 304.7,70.5 304.7,69.8 304.8,69.1 304.9,68.4 304.9,67.7 305.0,66.9 305.0,66.2 305.1,65.5 305.1,64.8 305.2,64.1 305.2,63.4 305.3,62.7 305.3,62.0 305.4,61.3 305.4,60.7 305.5,60.0 305.5,59.3 305.5,58.5 305.5,57.8 305.6,57.0 305.6,56.3 305.6,55.6 305.6,54.8 305.6,54.1 305.6,53.4 305.6,52.7 305.6,51.9 305.6,51.2 305.6,50.5 305.6,49.9 305.7,49.2 305.7,48.5 305.7,47.9 305.8,47.2 305.8,46.6 305.9,46.0 306.0,45.2 306.1,44.4 306.3,43.7 306.4,42.9 306.5,42.2 306.7,41.5 306.9,40.8 307.0,40.1 307.2,39.5 307.4,38.8 307.5,38.2 307.7,37.5 307.9,36.7 308.1,35.9 308.3,35.1 308.5,34.4 308.8,33.6 309.0,32.9 309.2,32.2 309.5,31.5 309.9,30.7 310.3,30.0 310.7,29.3 311.1,28.6 311.5,27.9 311.9,27.3 312.4,26.6 312.9,26.0 313.3,25.4 313.8,24.8 314.3,24.3 314.9,23.8 315.5,23.3 316.1,22.9 316.7,22.5 317.5,22.2 318.3,22.1 319.2,22.1 320.0,22.2 320.8,22.3 321.6,22.3 322.4,22.4 323.2,22.2 324.0,22.1 324.8,22.2 325.5,22.4 326.4,22.5 327.1,22.4 327.9,22.2 328.7,22.0 329.4,21.8 330.0,21.6 331.1,21.0 331.7,20.9 332.4,21.1 333.1,21.4 333.9,21.8 334.7,21.9 335.4,22.1 336.1,22.4 336.9,22.8 337.6,22.7 338.3,22.6 339.0,22.8 339.7,22.7 340.5,22.4 341.2,22.0 341.9,21.8 342.6,21.6 343.3,21.4 344.1,21.1 344.8,20.9 345.5,20.6 346.3,20.3 347.0,20.0 347.7,19.7 348.4,19.5 349.2,19.5 349.9,19.3 350.6,19.0 351.3,18.8 352.0,18.6 352.8,18.5 353.5,18.4 354.2,18.2 354.9,17.9 355.7,17.7 356.4,17.5 357.1,17.4 357.8,17.3 358.5,17.1 359.3,16.8 360.0,16.6 360.7,16.4 361.4,16.2 362.2,16.1 362.9,16.1 363.6,16.1 364.3,15.8 365.1,15.7 365.8,15.7 366.5,15.6 367.2,15.4 367.9,15.2 368.7,15.1 369.4,15.0 370.1,15.0 370.8,15.0 371.6,15.0 372.3,14.8 373.0,14.5 373.7,14.6 374.5,14.7 375.2,14.7 375.9,14.7 376.6,14.7 377.3,14.6 378.1,14.5 378.8,14.5 379.5,14.2 380.2,14.0 381.0,14.1 381.7,14.2 382.4,14.1 383.1,14.1 383.9,13.8 384.6,13.5 385.3,13.6 386.0,13.6 386.8,13.7 387.5,13.8 388.2,13.9 388.9,14.0 389.6,14.0 390.4,13.9 391.1,13.9 391.8,13.8 392.5,13.9 393.2,13.7 394.0,13.7 394.7,13.8 395.4,14.0 396.2,14.2 396.9,14.2 397.6,14.2 398.4,14.1 399.1,14.0 399.8,13.7 400.2,13.3 400.6,12.8 401.0,12.2 401.3,11.5 401.6,10.8 401.9,10.1 402.2,9.4 402.4,8.7 402.5,7.9 402.7,7.1 402.9,6.3 403.1,5.6 403.4,5.1 404.0,4.2 404.6,3.4 405.2,3.2 405.7,3.5 406.0,4.1 406.4,5.0 406.7,5.8 406.9,6.5 407.1,7.5 407.2,8.4 407.4,9.3 407.5,9.9 407.7,10.1 407.9,9.8 408.1,8.9 408.4,7.9 408.7,7.2 409.4,6.6 410.2,6.5 410.8,6.8 411.4,7.4 412.0,8.0 412.7,8.4 413.5,8.9 414.2,9.3 414.9,9.7 415.6,10.1 416.4,10.4 417.1,10.8 417.9,11.2 418.8,11.8 419.5,12.2 420.0,12.4 420.1,11.9 420.6,11.9 421.3,11.9 422.2,12.0 423.0,12.2 423.7,12.5 424.5,13.0 425.2,13.5 426.0,13.8 426.6,14.0 427.4,13.6 428.1,12.9 428.8,12.3 429.5,12.1 430.3,11.9 431.0,11.6 431.5,10.8 431.9,9.9 432.4,9.5 433.1,10.1 433.9,10.9 434.6,10.5 435.3,10.1 435.8,10.5 436.4,11.2 436.9,12.0 437.5,12.3 438.0,12.1 438.6,11.5 439.1,10.8 439.6,10.1 440.1,9.5 440.5,8.8 440.9,8.0 441.4,7.5 441.8,7.3 442.5,7.7 443.3,8.5 444.0,8.9 444.7,8.3 445.4,7.9 446.1,8.2 446.7,8.7 447.3,9.4 447.6,10.0 447.8,10.7 447.9,11.7 448.1,12.6 448.2,13.6 448.3,14.5 448.4,15.2 448.6,15.7 448.7,15.7 449.0,15.7 449.3,15.0 449.6,14.1 449.9,13.1 450.2,12.3 450.5,11.6 450.8,10.7 451.1,9.8 451.4,9.1 451.7,8.6 451.9,8.4 452.2,8.6 452.4,9.2 452.5,10.1 452.7,11.1 452.9,12.1 453.1,13.0 453.4,13.7 453.8,14.7 454.3,15.6 454.8,16.1 455.1,15.5 455.4,14.6 455.7,13.6 456.0,12.7 456.3,12.3 456.7,12.8 457.1,13.8 457.7,14.5 458.4,14.7 459.1,14.4 459.9,14.1 460.6,13.7 461.3,13.3 462.0,12.9 462.8,12.9 463.5,13.4 464.2,13.8 465.0,14.7 465.7,15.3 466.0,14.8 466.3,13.9 466.5,12.8 466.8,12.0 467.1,11.8 467.6,12.0 468.0,12.9 468.6,13.7 469.0,14.4 469.6,15.1 470.2,15.7 470.7,16.0 471.3,15.7 471.8,15.1 472.4,14.3 472.9,13.7 473.6,12.7 474.3,12.1 474.8,12.9 475.3,13.9 475.8,14.4 476.1,14.1 476.4,13.4 476.6,12.5 476.9,11.6 477.2,10.8 478.0,9.8 478.7,9.3 478.9,9.7 479.0,10.2 479.1,11.1 479.2,12.0 479.3,13.1 479.4,14.1 479.4,15.1 479.5,15.9 479.6,16.4 479.7,16.8 479.8,16.4 479.9,15.9 480.0,15.1 480.1,14.1 480.2,13.0 480.3,12.0 480.4,11.0 480.5,10.2 480.7,9.6 480.8,9.3 481.2,9.7 481.6,10.6 482.0,11.6 482.2,12.2 482.4,12.9 482.5,13.6 482.7,14.4 482.8,15.2 483.0,15.9 483.2,16.9 483.4,17.9 483.6,18.9 483.8,19.7 484.0,19.9 484.1,19.8 484.2,19.4 484.3,18.8 484.4,18.1 484.5,17.2 484.6,16.2 484.7,15.2 484.8,14.2 484.9,13.1 484.9,12.1 485.0,11.3 485.1,10.5 485.2,9.9 485.4,9.5 485.5,9.4 485.7,9.7 485.9,10.6 486.1,11.6 486.3,12.5 486.6,12.9 487.3,12.5 488.1,12.1 488.6,12.6 489.1,13.3 489.7,14.1 490.2,14.4 490.9,14.2 491.7,14.0 492.4,13.9 493.2,14.1 493.9,14.5 494.6,15.2 495.0,15.9 495.3,16.8 495.5,17.8 495.8,18.5 496.0,19.0 496.2,18.5 496.4,17.8 496.6,16.8 496.8,15.8 497.0,14.8 497.2,14.1 497.5,13.8 497.8,13.9 498.2,14.5 498.7,15.3 499.1,16.1 499.6,16.6 500.3,16.9 501.1,17.2 501.8,17.4 502.5,17.2 503.3,16.8 504.0,16.7 504.5,17.1 505.1,17.7 505.6,18.4 506.1,18.6 506.9,18.5 507.6,18.1 508.3,17.5 509.1,16.9 509.8,16.6 510.0,17.0 510.2,17.7 510.3,18.6 510.5,19.6 510.5,20.7 510.6,21.5 510.8,22.2 510.9,22.2 511.1,22.2 511.3,21.5 511.5,20.6 511.7,19.6 511.9,18.5 512.1,17.6 512.4,16.9 512.6,16.6 513.4,17.0 514.1,18.1 514.3,18.6 514.6,19.4 514.8,20.3 515.0,21.2 515.3,22.2 515.5,23.2 515.7,24.0 515.9,24.7 516.1,25.1 516.3,25.2 516.5,25.1 516.6,24.4 516.8,23.5 516.9,22.4 517.1,21.4 517.3,20.5 517.5,19.8 517.7,19.4 518.1,19.9 518.6,20.9 519.1,21.9 519.6,22.4 520.1,22.1 520.7,21.4 521.3,21.1 521.8,21.3 522.2,21.7 522.7,22.4 523.1,23.2 523.5,23.9 523.9,24.6 524.3,25.3 524.6,26.0 524.9,26.7 525.2,27.5 525.5,28.5 525.8,29.4 526.1,30.1 526.4,30.3 526.9,29.9 527.0,30.2 527.2,31.0 527.3,32.1 527.5,33.2 527.6,34.3 527.7,35.0 527.8,35.3 528.0,34.9 528.1,34.1 528.2,32.9 528.4,31.7 528.5,30.8 528.7,30.5 528.8,30.7 529.0,31.2 529.2,31.9 529.4,32.8 529.5,33.7 529.7,34.6 529.9,35.3 530.1,36.0 530.3,36.6 530.5,37.3 530.7,38.3 530.8,38.6 530.8,39.0 530.9,39.3 530.9,39.7 531.0,40.2 531.0,40.6 531.1,41.1 531.1,41.6 531.2,42.1 531.2,42.6 531.3,43.2 531.3,43.8 531.4,44.4 531.4,45.0 531.5,45.6 531.5,46.3 531.6,47.0 531.6,47.7 531.7,48.4 531.7,49.1 531.8,49.8 531.8,50.6 531.9,51.3 531.9,52.1 532.0,52.9 532.0,53.7 532.1,54.5 532.1,55.3 532.2,56.1 532.2,56.9 532.3,57.7 532.3,58.6 532.4,59.4 532.4,60.2 532.4,61.1 532.5,61.9 532.5,62.8 532.6,63.6 532.6,64.4 532.7,65.3 532.7,66.1 532.7,67.0 532.8,67.8 532.8,68.6 532.9,69.5 532.9,70.3 532.9,71.1 533.0,71.9 533.0,72.7 533.0,73.5 533.1,74.2 533.1,75.0 533.1,75.8 533.2,76.5 533.2,77.2 533.2,77.9 533.2,78.6 533.3,79.3 533.3,80.0 533.3,80.8 533.4,81.5 533.4,82.3 533.4,83.0 533.4,83.7 533.4,84.5 533.5,85.2 533.5,85.9 533.5,86.7 533.5,87.4 533.5,88.1 533.5,88.8 533.5,89.5 533.5,90.2 533.6,91.0 533.6,91.7 533.6,92.4 533.6,93.1 533.6,93.8 533.6,94.5 533.6,95.2 533.6,95.9 533.6,96.6 533.6,97.3 533.6,98.0 533.6,98.7 533.6,99.4 533.6,100.0 533.6,100.7 533.6,101.4 533.6,102.1 533.6,102.8 533.6,103.5 533.6,104.2 533.6,104.9 533.7,105.6 533.7,106.3 533.7,107.0 533.7,107.7 533.7,108.4 533.7,109.1 533.7,109.8 533.7,110.5 533.7,111.2 533.7,111.9 533.7,112.6 533.7,113.3 533.8,114.0 533.8,114.8 533.8,115.5 533.8,116.2 533.8,116.9 533.8,117.6 533.8,118.3 533.8,119.0 533.9,119.7 533.9,120.4 533.9,121.1 533.9,121.8 533.9,122.6 533.9,123.3 533.9,124.0 534.0,124.7 534.0,125.4 534.0,126.1 534.0,126.8 534.0,127.5 534.0,128.2 534.0,128.9 534.1,129.6 534.1,130.4 534.1,131.1 534.1,131.8 534.1,132.5 534.1,133.2 534.1,133.9 534.2,134.6 534.2,135.3 534.2,136.0 534.2,136.7 534.2,137.4 534.2,138.2 534.3,138.9 534.3,139.6 534.3,140.3 534.3,141.0 534.3,141.7 534.3,142.4 534.3,143.1 534.4,143.8 534.4,144.5 534.4,145.2 534.4,145.9 534.4,146.6 534.4,147.3 534.5,148.0 534.5,148.7 534.5,149.3 534.5,150.0 534.5,150.7 534.5,151.3 534.6,152.0 534.6,152.7 534.6,153.3 534.6,154.0 534.6,154.7 534.6,155.3 534.7,156.0 534.7,156.6 534.7,157.3 534.7,158.0 534.7,158.6 534.7,159.3 534.8,160.0 534.8,160.7 534.8,161.4 534.8,162.1 534.8,162.7 534.9,163.4 534.9,164.2 534.9,164.9 534.9,165.6 534.9,166.3 534.9,167.0 535.0,167.8 535.0,168.5 535.0,169.3 535.0,170.1 535.0,170.8 535.0,171.6 535.0,172.4 535.1,173.2 535.1,174.1 535.1,174.9 535.1,175.7 535.1,176.3 535.1,176.9 535.1,177.5 535.1,178.0 535.2,178.6 535.2,179.2 535.2,179.8 535.2,180.4 535.2,181.0 535.2,181.7 535.2,182.3 535.2,182.9 535.2,183.6 535.2,184.2 535.2,184.8 535.2,185.5 535.3,186.1 535.3,186.8 535.3,187.5 535.3,188.1 535.3,188.8 535.3,189.5 535.3,190.2 535.3,190.9 535.3,191.6 535.3,192.3 535.3,193.0 535.3,193.7 535.3,194.4 535.4,195.1 535.4,195.8 535.4,196.5 535.4,197.2 535.4,197.9 535.4,198.7 535.4,199.4 535.4,200.1 535.4,200.9 535.4,201.6 535.4,202.3 535.4,203.1 535.4,203.8 535.4,204.5 535.5,205.3 535.5,206.0 535.5,206.8 535.5,207.5 535.5,208.3 535.5,209.0 535.5,209.8 535.5,210.5 535.5,211.3 535.5,212.0 535.5,212.8 535.5,213.6 535.5,214.3 535.5,215.1 535.5,215.8 535.6,216.6 535.6,217.3 535.6,218.1 535.6,218.8 535.6,219.6 535.6,220.3 535.6,221.1 535.6,221.8 535.6,222.6 535.6,223.3 535.6,224.1 535.6,224.8 535.6,225.6 535.6,226.3 535.6,227.1 535.7,227.8 535.7,228.5 535.7,229.3 535.7,230.0 535.7,230.7 535.7,231.5 535.7,232.2 535.7,232.9 535.7,233.6 535.7,234.4 535.7,235.1 535.7,235.8 535.7,236.5 535.7,237.2 535.7,237.9 535.8,238.6 535.8,239.3 535.8,240.0 535.8,240.6 535.8,241.3 535.8,242.0 535.8,242.7 535.8,243.3 535.8,244.0 535.8,244.7 535.8,245.3 535.8,246.0 535.8,246.6 535.8,247.2 535.9,247.9 535.9,248.6 535.9,249.4 535.9,250.2 535.9,250.9 535.9,251.7 535.9,252.5 535.9,253.2 535.9,253.9 535.9,254.7 535.9,255.4 536.0,256.2 536.0,256.9 536.0,257.6 536.0,258.4 536.0,259.1 536.0,259.8 536.0,260.5 536.0,261.2 536.0,262.0 536.0,262.7 536.1,263.4 536.1,264.1 536.1,264.8 536.1,265.5 536.1,266.2 536.1,266.9 536.1,267.6 536.1,268.3 536.1,269.0 536.1,269.7 536.1,270.4 536.2,271.0 536.2,271.7 536.2,272.4 536.2,273.1 536.2,273.8 536.2,274.5 536.2,275.2 536.2,275.8 536.2,276.5 536.2,277.2 536.3,277.9 536.3,278.6 536.3,279.2 536.3,279.9 536.3,280.6 536.3,281.3 536.3,282.0 536.3,282.6 536.3,283.3 536.3,284.0 536.3,284.7 536.4,285.4 536.4,286.0 536.4,286.7 536.4,287.4 536.4,288.1 536.4,288.8 536.4,289.5 536.4,290.2 536.4,290.9 536.4,291.6 536.4,292.2 536.5,292.9 536.5,293.6 536.5,294.3 536.5,295.0 536.5,295.7 536.5,296.4 536.5,297.2 536.5,297.9 536.5,298.6 536.5,299.3 536.5,300.0 536.5,300.7 536.6,301.5 536.6,302.2 536.6,302.9 536.6,303.7 536.6,304.4 536.6,305.1 536.6,305.9 536.6,306.6 536.6,307.3 536.6,308.1 536.6,308.8 536.6,309.6 536.6,310.3 536.6,311.0 536.6,311.8 536.7,312.5 536.7,313.3 536.7,314.0 536.7,314.7 536.7,315.5 536.7,316.2 536.7,317.0 536.7,317.7 536.7,318.4 536.7,319.2 536.7,319.9 536.7,320.7 536.7,321.4 536.7,322.1 536.7,322.8 536.7,323.6 536.8,324.3 536.8,325.0 536.8,325.7 536.8,326.4 536.8,327.2 536.8,327.9 536.8,328.6 536.8,329.3 536.8,330.0 536.8,330.7 536.8,331.4 536.8,332.1 536.8,332.7 536.8,333.4 536.9,334.1 536.9,334.8 536.9,335.4 536.9,336.1 536.9,336.8 536.9,337.4 536.9,338.1 536.9,338.7 536.9,339.3 536.9,340.0 536.9,340.6 536.9,341.2 536.9,341.8 537.0,342.4 537.0,343.0 537.0,343.6 537.0,344.4 537.0,345.3 537.0,346.2 537.0,347.1 537.0,348.0 537.0,348.9 537.1,349.9 537.1,350.8 537.1,351.8 537.1,352.7 537.1,353.7 537.1,354.6 537.1,355.5 537.1,356.5 537.2,357.4 537.2,358.3 537.2,359.1 537.2,360.0 537.2,360.8 537.2,361.6 537.2,362.4 537.3,363.1 537.3,363.8 537.3,364.5 537.3,365.1 537.3,365.7 537.3,366.2 537.3,366.7 537.4,367.1 537.4,367.5 537.4,367.8 537.4,368.0 537.4,368.2 537.4,368.3 537.4,368.2 537.5,368.3 537.5,368.2 537.5,368.0 537.5,367.8 537.5,367.5 537.5,367.1 537.6,366.7 537.6,366.2 537.6,365.7 537.6,365.1 537.6,364.5 537.7,363.8 537.7,363.1 537.7,362.4 537.7,361.6 537.7,360.8 537.8,360.0 537.8,359.1 537.8,358.3 537.8,357.4 537.8,356.5 537.9,355.5 537.9,354.6 537.9,353.7 537.9,352.7 537.9,351.8 537.9,350.8 538.0,349.9 538.0,348.9 538.0,348.0 538.0,347.1 538.0,346.2 538.1,345.3 538.1,344.4 538.1,343.6 538.1,343.0 538.1,342.4 538.1,341.8 538.1,341.2 538.1,340.6 538.2,340.0 538.2,339.3 538.2,338.7 538.2,338.1 538.2,337.4 538.2,336.8 538.2,336.1 538.2,335.4 538.2,334.8 538.2,334.1 538.2,333.4 538.3,332.7 538.3,332.1 538.3,331.4 538.3,330.7 538.3,330.0 538.3,329.3 538.3,328.6 538.3,327.9 538.3,327.2 538.3,326.4 538.3,325.7 538.4,325.0 538.4,324.3 538.4,323.6 538.4,322.8 538.4,322.1 538.4,321.4 538.4,320.7 538.4,319.9 538.4,319.2 538.4,318.4 538.4,317.7 538.4,317.0 538.5,316.2 538.5,315.5 538.5,314.7 538.5,314.0 538.5,313.3 538.5,312.5 538.5,311.8 538.5,311.0 538.5,310.3 538.5,309.6 538.5,308.8 538.5,308.1 538.6,307.3 538.6,306.6 538.6,305.9 538.6,305.1 538.6,304.4 538.6,303.7 538.6,302.9 538.6,302.2 538.6,301.5 538.6,300.7 538.7,300.0 538.7,299.3 538.7,298.6 538.7,297.9 538.7,297.2 538.7,296.4 538.7,295.7 538.7,295.0 538.7,294.3 538.8,293.6 538.8,292.9 538.8,292.2 538.8,291.5 538.8,290.8 538.8,290.1 538.8,289.4 538.8,288.7 538.9,288.0 538.9,287.3 538.9,286.6 538.9,285.9 538.9,285.2 538.9,284.5 538.9,283.8 539.0,283.1 539.0,282.4 539.0,281.7 539.0,281.0 539.0,280.3 539.0,279.5 539.0,278.8 539.1,278.1 539.1,277.4 539.1,276.7 539.1,276.0 539.1,275.3 539.1,274.6 539.1,273.9 539.2,273.2 539.2,272.5 539.2,271.8 539.2,271.1 539.2,270.4 539.2,269.7 539.3,269.0 539.3,268.3 539.3,267.6 539.3,266.9 539.3,266.2 539.3,265.5 539.3,264.8 539.4,264.1 539.4,263.4 539.4,262.6 539.4,261.9 539.4,261.2 539.4,260.5 539.4,259.8 539.5,259.1 539.5,258.4 539.5,257.7 539.5,257.0 539.5,256.3 539.5,255.6 539.5,254.9 539.6,254.2 539.6,253.5 539.6,252.8 539.6,252.1 539.6,251.4 539.6,250.7 539.6,250.0 539.7,249.3 539.7,248.6 539.7,247.9 539.7,247.2 539.7,246.5 539.7,245.7 539.7,245.0 539.7,244.3 539.8,243.6 539.8,242.9 539.8,242.2 539.8,241.4 539.8,240.7 539.8,240.0 539.8,239.2 539.8,238.5 539.8,237.8 539.9,237.0 539.9,236.3 539.9,235.6 539.9,234.8 539.9,234.1 539.9,233.3 539.9,232.6 539.9,231.8 539.9,231.1 540.0,230.4 540.0,229.6 540.0,228.9 540.0,228.1 540.0,227.4 540.0,226.7 540.0,225.9 540.0,225.2 540.0,224.5 540.1,223.7 540.1,223.0 540.1,222.3 540.1,221.5 540.1,220.8 540.1,220.1 540.1,219.4 540.1,218.6 540.1,217.9 540.2,217.2 540.2,216.5 540.2,215.8 540.2,215.1 540.2,214.4 540.2,213.7 540.2,213.0 540.2,212.3 540.2,211.6 540.2,210.9 540.3,210.2 540.3,209.6 540.3,208.9 540.3,208.2 540.3,207.6 540.3,206.9 540.3,206.3 540.3,205.6 540.3,205.0 540.3,204.4 540.4,203.7 540.4,203.1 540.4,202.5 540.4,201.9 540.4,201.3 540.4,200.7 540.4,200.1 540.4,199.3 540.5,198.5 540.5,197.7 540.5,196.9 540.5,196.1 540.5,195.3 540.5,194.5 540.5,193.8 540.6,193.0 540.6,192.3 540.6,191.6 540.6,190.8 540.6,190.1 540.6,189.4 540.7,188.7 540.7,188.0 540.7,187.3 540.7,186.6 540.7,185.9 540.7,185.3 540.8,184.6 540.8,183.9 540.8,183.2 540.8,182.5 540.8,181.9 540.8,181.2 540.8,180.5 540.9,179.8 540.9,179.2 540.9,178.5 540.9,177.8 540.9,177.1 540.9,176.4 541.0,175.7 541.0,175.0 541.0,174.3 541.0,173.5 541.0,172.8 541.0,172.1 541.1,171.3 541.1,170.6 541.1,169.9 541.1,169.2 541.1,168.4 541.1,167.7 541.2,167.0 541.2,166.3 541.2,165.5 541.2,164.8 541.2,164.1 541.3,163.4 541.3,162.7 541.3,162.0 541.3,161.3 541.3,160.6 541.3,159.9 541.4,159.2 541.4,158.5 541.4,157.8 541.4,157.1 541.4,156.5 541.5,155.8 541.5,155.1 541.5,154.5 541.5,153.7 541.5,152.9 541.6,152.2 541.6,151.4 541.6,150.7 541.6,149.9 541.7,149.2 541.7,148.4 541.7,147.7 541.7,147.0 541.8,146.3 541.8,145.6 541.8,144.8 541.8,144.1 541.9,143.4 541.9,142.7 541.9,142.0 541.9,141.3 542.0,140.6 542.0,139.9 542.0,139.2 542.0,138.5 542.0,137.7 542.1,136.9 542.1,136.0 542.1,135.1 542.1,134.1 542.1,133.1 542.1,132.2 542.1,131.2 542.1,130.3 542.2,129.4 542.2,128.5 542.2,127.7 542.2,127.0 542.2,126.3 542.2,125.8 542.3,125.3 542.3,125.0 542.3,124.8 542.3,124.7 542.4,124.8 542.4,125.3 542.5,126.0 542.5,126.8 542.6,127.8 542.6,128.9 542.7,130.0 542.7,131.1 542.8,132.1 542.9,133.0 542.9,133.6 543.0,134.1 543.1,134.3 543.2,134.1 543.4,133.6 543.5,132.9 543.7,132.0 543.8,131.0 544.0,130.0 544.1,128.9 544.2,128.4 544.3,127.9 544.4,127.3 544.4,126.7 544.5,126.0 544.6,125.4 544.7,124.7 544.7,124.0 544.8,123.2 544.9,122.5 544.9,121.8 545.0,121.0 545.1,120.2 545.1,119.5 545.2,118.7 545.3,117.9 545.3,117.1 545.4,116.4 545.5,115.6 545.5,114.8 545.6,114.1 545.6,113.3 545.7,112.6 545.7,111.9 545.8,111.2 545.9,110.4 545.9,109.7 546.0,109.0 546.0,108.3 546.1,107.5 546.1,106.8 546.2,106.1 546.2,105.4 546.3,104.6 546.3,103.9 546.4,103.2 546.4,102.5 546.5,101.7 546.5,101.0 546.6,100.3 546.6,99.6 546.6,98.9 546.7,98.1 546.7,97.4 546.8,96.7 546.8,96.0 546.8,95.2 546.9,94.5 546.9,93.8 547.0,93.1 547.0,92.4 547.0,91.7 547.1,91.0 547.1,90.3 547.1,89.6 547.2,88.9 547.2,88.2 547.2,87.5 547.3,86.8 547.3,86.0 547.3,85.3 547.4,84.6 547.4,83.9 547.4,83.1 547.5,82.3 547.5,81.6 547.5,80.8 547.6,80.0 547.6,79.4 547.6,78.7 547.6,78.0 547.7,77.3 547.7,76.5 547.7,75.8 547.7,75.0 547.8,74.3 547.8,73.5 547.8,72.7 547.9,71.9 547.9,71.1 547.9,70.3 547.9,69.5 548.0,68.7 548.0,67.9 548.0,67.1 548.1,66.3 548.1,65.5 548.1,64.8 548.1,64.0 548.2,63.3 548.2,62.5 548.2,61.8 548.3,61.1 548.3,60.4 548.3,59.7 548.4,59.1 548.4,58.5 548.4,57.9 548.5,57.3 548.5,56.8 548.5,56.3 548.6,55.8 548.6,54.8 548.7,53.8 548.7,52.9 548.8,52.1 548.9,51.4 549.0,50.8 549.2,50.4 549.8,49.6 549.9,49.9 550.0,50.4 550.1,51.1 550.1,51.9 550.2,52.8 550.3,53.9 550.3,55.0 550.3,56.0 550.4,57.1 550.4,58.0 550.5,58.8 550.5,59.4 550.5,59.9 550.6,60.0 550.6,59.9 550.7,59.7 550.7,59.3 550.8,58.9 550.8,58.3 550.9,57.6 550.9,56.9 550.9,56.0 551.0,55.2 551.0,54.2 551.1,53.3 551.1,52.3 551.1,51.3 551.2,50.4 551.2,49.4 551.3,48.5 551.3,47.7 551.4,46.9 551.4,46.1 551.5,45.5 551.6,44.9 551.7,44.0 551.8,43.0 551.9,42.2 552.1,41.4 552.2,41.0 552.4,40.8 552.9,41.6 553.4,42.5 553.5,42.3 553.6,41.8 553.7,41.0 553.8,40.0 553.8,39.0 553.9,37.9 553.9,37.0 554.0,36.1 554.2,35.6 554.3,35.3 555.2,35.9 555.4,36.4 555.6,37.1 555.7,37.9 555.8,38.9 555.8,39.4 555.9,39.9 555.9,40.5 556.0,41.1 556.0,41.9 556.0,42.7 556.1,43.5 556.1,44.4 556.1,45.3 556.2,46.2 556.2,47.2 556.2,48.1 556.3,49.1 556.3,50.1 556.3,51.1 556.4,52.0 556.4,52.9 556.4,53.8 556.4,54.7 556.5,55.5 556.5,56.2 556.5,56.9 556.6,57.5 556.6,58.1 556.6,58.5 556.7,58.9 556.7,59.2 556.7,59.3 556.7,59.4 556.8,59.3 556.8,59.0 556.9,58.6 556.9,58.0 556.9,57.3 557.0,56.5 557.0,55.7 557.0,54.7 557.1,53.7 557.1,52.6 557.2,51.6 557.2,50.5 557.2,49.5 557.3,48.4 557.3,47.5 557.3,46.6 557.4,45.8 557.4,45.1 557.5,44.5 557.5,44.1 557.5,43.8 557.6,43.7 557.7,44.0 557.7,44.7 557.8,45.6 557.9,46.7 558.0,47.9 558.0,48.8 558.1,49.5 558.2,49.6 558.3,49.5 558.4,49.0 558.5,48.1 558.6,47.1 558.7,46.0 558.8,44.9 558.8,44.3 558.9,43.6 558.9,42.8 559.0,41.9 559.0,41.0 559.1,40.0 559.1,39.0 559.2,38.0 559.2,37.1 559.3,36.1 559.3,35.2 559.4,34.4 559.4,33.6 559.4,33.0 559.5,32.4 559.5,32.0 559.6,31.8 559.6,31.6 559.7,31.8 559.7,32.1 559.8,32.7 559.9,33.4 559.9,34.2 560.0,35.1 560.0,36.1 560.1,37.2 560.1,38.2 560.2,39.3 560.3,40.3 560.3,41.2 560.4,42.0 560.4,42.7 560.5,43.3 560.5,43.6 560.6,43.7 560.6,43.6 560.7,43.4 560.7,43.0 560.7,42.4 560.8,41.7 560.8,40.9 560.8,40.0 560.8,39.1 560.8,38.1 560.9,37.0 560.9,36.0 560.9,34.9 560.9,33.9 561.0,32.9 561.0,31.9 561.1,31.0 561.1,30.2 561.2,29.5 561.3,28.9 561.3,28.5 561.5,28.2 561.6,28.0 561.9,28.3 562.3,28.9 562.7,29.7 563.0,30.5 563.4,31.5 563.9,32.5 564.2,32.9 564.4,32.7 564.5,32.3 564.5,31.6 564.6,30.8 564.6,29.8 564.7,28.9 564.8,27.9 564.9,27.0 565.0,26.2 565.2,25.7 565.6,24.9 566.1,24.3 566.6,23.9 567.4,23.5 568.2,23.1 569.0,22.6 570.0,22.3 570.9,22.1 571.7,22.0 572.1,22.6 572.4,23.4 572.7,24.5 572.8,25.1 572.8,25.8 572.9,26.7 572.9,27.7 573.0,28.7 573.0,29.7 573.0,30.7 573.0,31.6 573.1,32.4 573.1,33.0 573.2,33.4 573.3,33.5 573.4,33.3 573.5,32.7 573.6,31.8 573.7,30.7 573.9,29.6 574.0,28.6 574.2,27.7 574.3,27.1 574.5,26.9 574.6,27.2 574.8,27.9 575.0,29.0 575.2,30.2 575.4,31.2 575.5,32.0 575.7,32.2 575.8,32.0 575.9,31.2 576.0,30.2 576.1,29.2 576.2,28.4 576.3,28.1 576.3,28.1 576.3,28.3 576.4,28.5 576.4,28.9 576.4,29.3 576.4,29.8 576.5,30.3 576.5,31.0 576.5,31.7 576.6,32.4 576.6,33.2 576.6,34.1 576.6,35.0 576.6,35.9 576.7,36.9 576.7,37.9 576.7,38.9 576.7,39.9 576.8,41.0 576.8,42.0 576.8,43.1 576.8,44.1 576.8,45.2 576.9,46.2 576.9,47.2 576.9,48.2 576.9,49.2 576.9,50.1 577.0,51.0 577.0,51.9 577.0,52.7 577.0,53.4 577.0,54.1 577.1,54.7 577.1,55.3 577.1,55.8 577.1,56.2 577.2,56.5 577.2,56.8 577.2,56.9 577.2,56.8 577.3,56.9 577.3,56.8 577.3,56.6 577.3,56.3 577.3,55.9 577.4,55.4 577.4,54.9 577.4,54.3 577.4,53.7 577.4,53.0 577.4,52.2 577.5,51.4 577.5,50.6 577.5,49.7 577.5,48.8 577.5,47.9 577.5,47.0 577.6,46.0 577.6,45.0 577.6,44.1 577.6,43.1 577.7,42.1 577.7,41.2 577.7,40.2 577.7,39.3 577.8,38.3 577.8,37.5 577.9,36.6 577.9,35.8 578.0,35.0 578.0,34.3 578.1,33.6 578.1,33.0 578.2,32.4 578.3,31.9 578.4,31.4 578.4,31.1 578.8,29.9 579.3,29.0 579.6,28.6 579.8,28.9 580.0,29.4 580.1,30.1 580.2,31.0 580.3,32.0 580.4,33.1 580.5,34.1 580.5,34.6 580.6,35.3 580.6,36.0 580.7,36.7 580.7,37.5 580.7,38.4 580.8,39.3 580.8,40.2 580.8,41.2 580.9,42.2 580.9,43.1 580.9,44.1 581.0,45.1 581.0,46.0 581.0,46.9 581.0,47.8 581.1,48.6 581.1,49.4 581.1,50.1 581.1,50.8 581.2,51.4 581.2,51.8 581.2,52.2 581.3,52.5 581.3,52.7 581.3,52.7 581.4,52.7 581.4,52.5 581.4,52.2 581.4,51.8 581.5,51.3 581.5,50.7 581.5,50.1 581.5,49.3 581.6,48.5 581.6,47.7 581.6,46.8 581.6,45.9 581.7,44.9 581.7,44.0 581.7,43.0 581.8,42.0 581.8,41.0 581.8,40.1 581.9,39.1 581.9,38.3 582.0,37.4 582.0,36.6 582.1,35.9 582.1,35.2 582.2,34.6 582.3,34.1 582.5,33.1 582.7,32.1 582.9,31.3 583.1,30.5 583.3,30.0 583.5,29.8 583.6,30.0 583.7,30.3 583.7,30.8 583.8,31.5 583.9,32.3 583.9,33.2 584.0,34.2 584.1,35.2 584.1,36.3 584.2,37.4 584.2,38.4 584.3,39.5 584.3,40.5 584.4,41.4 584.4,42.2 584.5,42.8 584.6,43.3 584.6,43.6 584.7,43.7 584.8,43.6 584.9,43.2 585.0,42.6 585.0,41.8 585.1,40.9 585.2,39.9 585.3,38.9 585.4,37.8 585.5,36.8 585.7,35.9 585.8,35.1 586.0,34.5 586.1,34.1 587.1,33.5 587.2,33.7 587.3,33.8 587.4,34.2 587.5,34.6 587.6,35.2 587.6,35.8 587.7,36.5 587.8,37.2 587.8,38.1 587.9,39.0 587.9,39.9 587.9,40.8 588.0,41.8 588.0,42.9 588.0,43.9 588.0,45.0 588.0,46.0 588.1,47.1 588.1,48.1 588.1,49.1 588.1,50.1 588.1,51.0 588.1,52.0 588.1,52.8 588.1,53.6 588.2,54.3 588.2,55.0 588.2,55.6 588.2,56.1 588.2,56.5 588.2,56.7 588.3,56.9 588.3,56.9 588.3,56.9 588.4,56.7 588.4,56.5 588.4,56.1 588.5,55.6 588.5,55.0 588.5,54.3 588.6,53.6 588.6,52.8 588.6,52.0 588.7,51.1 588.7,50.1 588.7,49.1 588.8,48.1 588.8,47.1 588.8,46.0 588.9,45.0 588.9,43.9 588.9,42.8 589.0,41.8 589.0,40.8 589.0,39.8 589.1,38.8 589.1,37.9 589.1,37.1 589.2,36.3 589.2,35.5 589.2,34.9 589.3,34.3 589.3,33.8 589.4,33.4 589.4,33.1 589.5,33.0 589.5,32.9 589.6,33.1 589.7,33.8 589.9,34.8 590.0,35.9 590.1,37.0 590.2,38.0 590.4,38.7 590.5,39.0 590.6,38.6 590.8,37.7 590.9,36.5 591.1,35.3 591.2,34.4 591.3,34.1 591.4,34.2 591.5,34.7 591.5,35.3 591.6,36.1 591.7,37.1 591.7,38.1 591.8,39.2 591.8,40.3 591.9,41.4 591.9,42.3 592.0,43.1 592.0,43.8 592.1,44.2 592.2,44.4 592.2,44.2 592.3,43.7 592.4,43.0 592.5,42.2 592.5,41.2 592.6,40.1 592.7,39.1 592.8,38.1 592.9,37.2 592.9,36.5 593.0,36.1 593.1,36.0 593.3,36.1 593.5,36.6 593.6,37.3 593.8,38.2 594.0,39.2 594.1,40.1 594.2,40.6 594.2,41.1 594.3,41.7 594.3,42.2 594.4,42.8 594.4,43.5 594.5,44.1 594.5,44.8 594.5,45.5 594.6,46.2 594.6,46.9 594.6,47.6 594.7,48.4 594.7,49.1 594.7,49.9 594.7,50.7 594.8,51.5 594.8,52.3 594.8,53.1 594.8,53.8 594.9,54.6 594.9,55.4 594.9,56.2 594.9,57.0 595.0,57.6 595.0,58.3 595.0,58.9 595.0,59.6 595.1,60.3 595.1,60.9 595.1,61.6 595.1,62.3 595.1,63.0 595.2,63.7 595.2,64.4 595.2,65.1 595.2,65.8 595.3,66.5 595.3,67.2 595.3,67.9 595.3,68.6 595.3,69.4 595.3,70.1 595.4,70.8 595.4,71.5 595.4,72.3 595.4,73.0 595.4,73.7 595.5,74.5 595.5,75.2 595.5,75.9 595.5,76.7 595.5,77.4 595.5,78.2 595.6,78.9 595.6,79.6 595.6,80.4 595.6,81.1 595.6,81.8 595.6,82.6 595.7,83.2 595.7,83.9 595.7,84.6 595.7,85.3 595.7,86.0 595.7,86.7 595.7,87.4 595.7,88.1 595.8,88.8 595.8,89.5 595.8,90.2 595.8,91.0 595.8,91.7 595.8,92.4 595.8,93.1 595.8,93.8 595.8,94.5 595.8,95.2 595.9,95.9 595.9,96.6 595.9,97.4 595.9,98.1 595.9,98.8 595.9,99.5 595.9,100.2 595.9,100.9 595.9,101.6 595.9,102.4 595.9,103.1 596.0,103.8 596.0,104.5 596.0,105.2 596.0,105.9 596.0,106.7 596.0,107.4 596.0,108.1 596.0,108.8 596.0,109.5 596.1,110.2 596.1,110.9 596.1,111.6 596.1,112.3 596.1,113.1 596.1,113.8 596.1,114.5 596.1,115.2 596.2,115.9 596.2,116.7 596.2,117.4 596.2,118.1 596.2,118.8 596.2,119.6 596.2,120.3 596.2,121.0 596.3,121.7 596.3,122.5 596.3,123.2 596.3,123.9 596.3,124.6 596.3,125.4 596.3,126.1 596.4,126.8 596.4,127.5 596.4,128.2 596.4,129.0 596.4,129.7 596.4,130.4 596.4,131.1 596.5,131.8 596.5,132.5 596.5,133.2 596.5,133.9 596.5,134.6 596.5,135.3 596.6,135.9 596.6,136.6 596.6,137.3 596.6,138.0 596.6,138.6 596.6,139.3 596.6,140.1 596.7,140.8 596.7,141.6 596.7,142.4 596.7,143.2 596.7,144.1 596.7,144.9 596.7,145.7 596.7,146.5 596.7,147.3 596.7,148.2 596.7,149.0 596.7,149.8 596.7,150.6 596.8,151.4 596.8,152.1 596.8,152.9 596.8,153.6 596.8,154.4 596.8,155.1 596.8,155.7 596.9,156.4 596.9,157.0 596.9,157.6 597.0,158.2 597.0,158.8 597.0,159.3 597.1,159.7 597.1,160.2 597.2,160.6 597.4,161.4 597.6,162.0 597.8,162.6 598.0,163.4 598.1,164.0 598.2,164.7 598.3,165.5 598.4,166.4 598.4,167.3 598.5,168.3 598.6,169.2 598.6,170.1 598.7,171.0 598.7,171.8 598.8,172.4 598.8,172.9 598.9,173.2 598.9,173.3 598.9,173.3 599.0,173.1 599.0,172.9 599.0,172.6 599.0,172.2 599.1,171.7 599.1,171.2 599.1,170.6 599.1,169.9 599.2,169.2 599.2,168.4 599.2,167.6 599.2,166.8 599.2,165.9 599.2,165.0 599.3,164.1 599.3,163.2 599.3,162.2 599.3,161.3 599.3,160.4 599.3,159.4 599.4,158.5 599.4,157.6 599.4,156.7 599.4,155.8 599.4,155.0 599.4,154.2 599.5,153.5 599.5,152.8 599.5,152.1 599.5,151.4 599.6,150.6 599.6,149.9 599.6,149.2 599.6,148.4 599.6,147.7 599.7,147.0 599.7,146.2 599.7,145.5 599.7,144.8 599.8,144.0 599.8,143.3 599.8,142.5 599.8,141.8 599.8,141.1 599.9,140.4 599.9,139.6 599.9,138.9 599.9,138.2 600.0,137.5 600.0,136.8 600.0,136.1 600.0,135.4 600.1,134.8 600.1,134.1 600.1,133.5 600.1,132.8 600.2,132.2 600.2,131.4 600.2,130.6 600.3,129.8 600.3,129.1 600.4,128.3 600.4,127.6 600.4,126.8 600.5,126.1 600.5,125.4 600.5,124.7 600.6,124.0 600.6,123.3 600.7,122.6 600.7,122.0 600.7,121.3 600.8,120.7 600.8,120.0 600.9,119.4 601.0,118.6 601.0,117.8 601.1,117.0 601.2,116.2 601.2,115.5 601.3,114.8 601.4,114.1 601.5,113.5 601.6,112.9 601.7,112.3 602.1,111.6 602.4,111.0 602.7,110.2 602.8,109.7 602.9,109.1 603.0,108.5 603.1,107.8 603.1,107.1 603.2,106.3 603.2,105.6 603.3,104.8 603.3,104.0 603.4,103.2 603.4,102.4 603.5,101.8 603.6,101.1 603.6,100.4 603.7,99.7 603.8,99.0 603.8,98.3 603.9,97.6 604.0,96.8 604.1,96.1 604.1,95.4 604.2,94.7 604.3,93.9 604.4,93.2 604.4,92.5 604.5,91.8 604.6,91.1 604.6,90.3 604.7,89.5 604.8,88.6 604.8,87.7 604.9,86.7 604.9,85.8 605.0,84.9 605.1,84.0 605.1,83.2 605.2,82.4 605.3,81.8 605.3,81.2 605.4,80.8 605.5,80.5 605.6,80.4 605.8,80.7 606.0,81.6 606.3,82.6 606.4,83.1 606.5,83.7 606.5,84.5 606.6,85.4 606.7,86.3 606.8,87.2 606.9,88.2 606.9,89.2 607.0,90.1 607.1,90.9 607.1,91.7 607.2,92.3 607.3,92.8 607.3,93.1 607.4,93.3 607.5,93.1 607.5,92.9 607.6,92.6 607.6,92.1 607.7,91.5 607.7,90.9 607.8,90.2 607.8,89.4 607.9,88.5 607.9,87.6 608.0,86.7 608.0,85.7 608.1,84.8 608.1,83.9 608.2,82.9 608.2,82.1 608.3,81.2 608.3,80.4 608.4,79.7 608.5,78.9 608.5,78.1 608.6,77.2 608.6,76.3 608.7,75.4 608.8,74.4 608.8,73.5 608.9,72.6 608.9,71.8 609.0,71.0 609.1,70.3 609.1,69.6 609.2,69.1 609.3,68.7 609.4,68.4 609.5,68.4 609.9,68.7 610.2,69.5 610.5,70.5 610.7,71.1 610.8,71.9 610.9,72.7 611.0,73.7 611.1,74.6 611.1,75.6 611.2,76.4 611.3,77.0 611.4,77.4 611.5,77.6 611.7,77.2 612.0,76.4 612.2,75.5 612.5,74.6 612.8,73.7 613.1,72.9 613.4,72.7 613.5,72.8 613.7,73.4 613.8,74.1 613.9,75.0 614.0,76.0 614.1,76.9 614.1,77.4 614.2,78.0 614.3,78.6 614.3,79.3 614.4,79.9 614.5,80.6 614.5,81.3 614.6,82.0 614.7,82.8 614.7,83.5 614.8,84.3 614.8,85.1 614.9,85.9 615.0,86.6 615.0,87.4 615.1,88.2 615.1,88.9 615.2,89.6 615.2,90.4 615.2,91.2 615.3,92.0 615.3,92.9 615.4,93.8 615.4,94.8 615.4,95.7 615.5,96.7 615.5,97.6 615.6,98.5 615.6,99.5 615.6,100.4 615.7,101.2 615.7,102.0 615.8,102.8 615.8,103.6 615.9,104.2 615.9,104.8 616.0,105.4 616.0,105.8 616.0,106.2 616.1,106.4 616.2,106.6 616.2,106.7 616.3,106.5 616.4,106.2 616.5,105.7 616.5,105.0 616.6,104.1 616.7,103.2 616.8,102.3 616.9,101.3 617.0,100.4 617.1,99.6 617.2,98.8 617.3,98.2 617.5,97.3 617.7,96.5 617.9,95.7 618.1,95.1 618.3,94.6 619.3,93.9 619.6,93.3 619.7,92.5 619.9,91.7 620.2,91.1 620.9,90.3 621.6,89.6 622.0,88.9 622.2,88.2 622.6,87.5 623.6,86.8 623.8,86.3 624.0,85.7 624.2,84.9 624.3,84.1 624.5,83.3 624.7,82.6 625.0,81.7 625.3,80.8 625.6,79.9 625.9,79.3 626.1,79.2 626.4,79.3 626.7,80.0 627.0,80.9 627.3,81.8 627.4,82.5 627.5,83.2 627.5,84.0 627.6,84.8 627.7,85.7 627.7,86.5 627.8,87.3 627.9,88.0 628.1,88.5 628.3,88.9 628.9,89.4 629.7,89.7 630.4,90.2 631.1,91.1 631.4,91.6 631.7,92.3 631.9,93.0 632.2,93.8 632.4,94.6 632.7,95.3 632.9,96.0 633.3,96.8 633.7,97.4 634.0,98.1 634.4,98.8 634.6,99.6 634.8,100.2 635.0,100.8 635.1,101.5 635.2,102.2 635.3,102.9 635.4,103.7 635.5,104.4 635.6,105.2 635.7,105.9 635.8,106.7 635.9,107.4 635.9,108.1 636.0,108.8 636.1,109.6 636.2,110.3 636.2,111.1 636.3,111.8 636.4,112.5 636.5,113.2 636.5,113.9 636.7,114.6 636.8,115.2 637.0,116.0 637.2,116.7 637.4,117.4 637.6,118.1 637.9,118.7 638.2,119.4 638.5,120.1 638.9,120.8 639.2,121.5 639.6,122.2 640.0,122.9 640.3,123.7 640.6,124.3 640.9,125.0 641.2,125.7 641.5,126.4 641.7,127.1 642.0,127.8 642.2,128.6 642.4,129.4 642.6,130.0 642.7,130.6 642.9,131.3 643.0,131.9 643.1,132.6 643.2,133.3 643.3,134.1 643.4,134.8 643.4,135.5 643.5,136.3 643.6,137.0 643.7,137.8 643.8,138.5 643.9,139.3 643.9,140.0 644.0,140.7 644.1,141.4 644.1,142.2 644.2,142.9 644.2,143.7 644.3,144.5 644.4,145.3 644.4,146.1 644.5,146.8 644.5,147.6 644.6,148.3 644.6,149.0 644.7,149.7 644.8,150.4 644.8,151.0 644.9,151.5 645.0,152.1 645.2,153.0 645.4,154.0 645.6,154.8 645.8,155.4 646.0,155.5 646.3,155.4 646.5,154.8 646.8,153.9 647.1,153.0 647.4,152.1 647.6,151.4 647.7,150.8 647.9,150.0 648.0,149.3 648.1,148.5 648.2,147.7 648.3,147.0 648.5,146.3 648.6,145.6 648.8,145.0 649.1,144.1 649.5,143.1 649.8,142.3 650.2,141.6 650.5,141.3 651.0,141.8 651.4,142.7 651.8,143.8 652.0,144.4 652.2,145.0 652.4,145.7 652.6,146.4 652.8,147.2 653.0,148.0 653.1,148.8 653.3,149.7 653.5,150.5 653.6,151.1 653.7,151.7 653.8,152.4 653.9,153.0 654.0,153.7 654.1,154.3 654.2,155.0 654.3,155.7 654.3,156.4 654.4,157.2 654.5,157.9 654.6,158.6 654.7,159.4 654.8,160.1 654.8,160.9 654.9,161.7 655.0,162.4 655.1,163.2 655.2,164.0 655.2,164.7 655.3,165.3 655.4,166.0 655.4,166.7 655.5,167.4 655.6,168.1 655.6,168.8 655.7,169.5 655.7,170.2 655.8,170.9 655.9,171.6 655.9,172.4 656.0,173.1 656.0,173.8 656.1,174.6 656.2,175.3 656.2,176.1 656.3,176.8 656.3,177.6 656.4,178.3 656.5,179.1 656.5,179.8 656.6,180.5 656.6,181.3 656.7,182.0 656.7,182.8 656.8,183.5 656.8,184.2 656.9,184.9 656.9,185.7 657.0,186.4 657.1,187.1 657.1,187.8 657.2,188.5 657.2,189.2 657.3,190.0 657.3,190.7 657.4,191.4 657.4,192.1 657.5,192.8 657.5,193.5 657.5,194.3 657.6,195.0 657.6,195.7 657.7,196.4 657.7,197.1 657.8,197.9 657.8,198.6 657.9,199.3 657.9,200.0 658.0,200.8 658.0,201.5 658.1,202.2 658.1,203.0 658.1,203.7 658.2,204.4 658.2,205.1 658.3,205.8 658.3,206.5 658.4,207.2 658.4,207.9 658.4,208.6 658.5,209.3 658.5,210.0 658.5,210.7 658.6,211.4 658.6,212.1 658.7,212.8 658.7,213.5 658.7,214.2 658.8,215.0 658.8,215.7 658.8,216.4 658.9,217.1 658.9,217.8 659.0,218.5 659.0,219.2 659.0,219.9 659.1,220.6 659.1,221.4 659.1,222.1 659.2,222.8 659.2,223.5 659.3,224.2 659.3,224.9 659.3,225.6 659.4,226.3 659.4,227.0 659.4,227.7 659.5,228.4 659.5,229.2 659.6,229.9 659.6,230.6 659.6,231.3 659.7,232.0 659.7,232.8 659.7,233.5 659.8,234.2 659.8,234.9 659.9,235.6 659.9,236.4 659.9,237.1 660.0,237.8 660.0,238.5 660.1,239.2 660.1,239.9 660.1,240.7 660.2,241.4 660.2,242.1 660.2,242.8 660.3,243.5 660.3,244.2 660.4,244.8 660.4,245.5 660.4,246.2 660.5,246.9 660.5,247.5 660.5,248.2 660.6,249.0 660.6,249.7 660.7,250.5 660.7,251.2 660.8,251.9 660.8,252.7 660.8,253.4 660.9,254.1 660.9,254.9 661.0,255.6 661.0,256.3 661.0,257.0 661.1,257.7 661.1,258.5 661.2,259.1 661.2,259.8 661.3,260.5 661.3,261.2 661.3,261.9 661.4,262.5 661.4,263.2 661.5,263.8 661.5,264.4 661.6,265.1 661.6,265.9 661.7,266.8 661.7,267.8 661.8,268.7 661.8,269.7 661.9,270.6 662.0,271.5 662.0,272.4 662.1,273.1 662.1,273.8 662.2,274.4 662.3,274.8 662.3,275.1 662.4,275.2 662.5,275.0 662.6,274.6 662.7,274.0 662.8,273.2 662.9,272.3 663.0,271.3 663.1,270.3 663.1,269.3 663.2,268.4 663.3,267.8 663.4,267.2 663.4,266.6 663.5,265.9 663.6,265.2 663.6,264.5 663.7,263.8 663.7,263.1 663.8,262.3 663.9,261.6 663.9,260.9 664.0,260.1 664.0,259.4 664.1,258.6 664.2,257.9 664.2,257.1 664.3,256.4 664.4,255.7 664.4,254.9 664.5,254.2 664.5,253.5 664.6,252.8 664.7,252.1 664.7,251.4 664.8,250.6 664.9,249.9 664.9,249.2 665.0,248.5 665.0,247.7 665.1,247.0 665.2,246.3 665.2,245.6 665.3,244.9 665.4,244.2 665.4,243.5 665.5,242.8 665.5,242.1 665.6,241.5 665.7,240.7 665.7,240.0 665.8,239.3 665.9,238.6 666.0,237.9 666.1,237.2 666.1,236.6 666.2,235.9 666.3,235.2 666.3,234.5 666.4,233.8 666.5,233.0 666.5,232.2 666.6,231.4 666.6,230.8 666.7,230.2 666.7,229.6 666.8,229.0 666.8,228.3 666.8,227.7 666.9,227.0 666.9,226.3 666.9,225.6 666.9,224.9 667.0,224.2 667.0,223.5 667.0,222.8 667.0,222.1 667.1,221.3 667.1,220.6 667.1,219.8 667.1,219.1 667.2,218.3 667.2,217.6 667.2,216.8 667.2,216.1 667.3,215.3 667.3,214.6 667.3,213.8 667.3,213.1 667.3,212.4 667.4,211.6 667.4,210.9 667.4,210.2 667.5,209.5 667.5,208.8 667.5,208.1 667.5,207.3 667.6,206.6 667.6,205.9 667.6,205.2 667.6,204.5 667.7,203.8 667.7,203.0 667.7,202.3 667.8,201.6 667.8,200.9 667.8,200.1 667.8,199.4 667.9,198.7 667.9,198.0 667.9,197.3 667.9,196.6 668.0,195.8 668.0,195.1 668.0,194.4 668.1,193.7 668.1,193.0 668.1,192.3 668.1,191.6 668.2,190.9 668.2,190.3 668.2,189.6 668.2,188.9 668.3,188.2 668.3,187.6 668.3,186.8 668.4,186.1 668.4,185.3 668.4,184.6 668.4,183.9 668.5,183.1 668.5,182.4 668.5,181.7 668.5,180.9 668.6,180.2 668.6,179.5 668.6,178.8 668.7,178.1 668.7,177.4 668.7,176.7 668.7,176.0 668.8,175.3 668.8,174.6 668.8,174.0 668.8,173.3 668.9,172.7 668.9,172.0 668.9,171.4 669.0,170.7 669.0,169.9 669.0,169.0 669.1,168.1 669.1,167.1 669.1,166.1 669.1,165.2 669.1,164.3 669.2,163.4 669.2,162.6 669.2,161.8 669.3,161.2 669.4,160.6 669.4,160.2 669.5,160.0 669.6,159.8 670.3,160.6 670.4,161.0 670.5,161.6 670.6,162.3 670.7,163.2 670.7,164.1 670.7,165.1 670.8,166.1 670.8,167.1 670.8,168.1 670.9,169.1 670.9,170.0 670.9,170.8 671.0,171.5 671.0,172.0 671.1,172.3 671.2,172.4 671.4,172.1 671.6,171.3 671.8,170.2 672.0,169.1 672.1,168.5 672.2,167.8 672.2,167.1 672.3,166.3 672.3,165.4 672.4,164.5 672.5,163.6 672.5,162.7 672.6,161.9 672.6,161.1 672.7,160.3 672.8,159.6 672.9,159.0 673.0,158.5 673.2,158.1 674.0,157.3 674.2,157.5 674.3,157.9 674.5,158.5 674.6,159.3 674.7,160.2 674.8,161.2 674.9,162.2 674.9,163.1 675.0,164.0 675.1,164.7 675.1,165.5 675.2,166.3 675.2,167.2 675.2,168.1 675.3,169.0 675.3,169.9 675.3,170.8 675.4,171.6 675.4,172.3 675.5,172.9 675.6,173.5 675.7,173.9 675.9,174.2 676.7,174.2 676.9,173.9 677.0,173.5 677.1,173.0 677.2,172.3 677.2,171.6 677.2,170.8 677.3,170.0 677.3,169.1 677.3,168.3 677.3,167.4 677.3,166.5 677.4,165.7 677.4,165.1 677.5,164.4 677.5,163.8 677.6,163.1 677.6,162.4 677.7,161.7 677.7,161.0 677.8,160.3 677.8,159.5 677.9,158.8 677.9,158.1 678.0,157.3 678.0,156.6 678.1,155.8 678.1,155.0 678.2,154.3 678.2,153.5 678.3,152.8 678.3,152.0 678.4,151.3 678.4,150.5 678.4,149.8 678.5,149.2 678.5,148.5 678.6,147.8 678.6,147.1 678.7,146.4 678.7,145.7 678.7,145.0 678.8,144.3 678.8,143.6 678.9,142.9 678.9,142.2 679.0,141.5 679.0,140.7 679.0,140.0 679.1,139.3 679.1,138.6 679.2,137.9 679.2,137.2 679.2,136.5 679.3,135.8 679.3,135.1 679.4,134.4 679.4,133.7 679.5,133.0 679.5,132.3 679.5,131.5 679.6,130.8 679.6,130.1 679.7,129.3 679.7,128.6 679.8,127.8 679.8,127.1 679.8,126.4 679.9,125.6 679.9,124.9 680.0,124.2 680.0,123.4 680.1,122.7 680.1,122.0 680.1,121.3 680.2,120.6 680.2,120.0 680.3,119.3 680.3,118.7 680.3,118.0 680.4,117.4 680.4,116.8 680.5,116.0 680.5,115.1 680.6,114.3 680.6,113.5 680.7,112.8 680.7,112.0 680.7,111.3 680.8,110.6 680.9,110.0 680.9,109.3 681.0,108.7 681.1,107.9 681.3,107.1 681.4,106.3 681.6,105.7 681.8,105.0 682.0,104.5 682.4,103.8 683.0,103.3 683.4,102.7 683.7,102.0 684.0,101.3 684.2,100.6 684.4,99.8 684.6,99.0 684.8,98.4 685.0,97.7 685.1,96.9 685.3,96.2 685.5,95.5 685.7,94.8 685.8,94.2 686.1,93.4 686.4,92.6 686.7,91.9 687.0,91.6 688.3,91.7 689.2,92.3 690.1,92.5 690.5,92.1 690.9,91.5 691.2,90.8 691.6,90.1 691.9,89.4 692.2,88.7 692.5,87.9 692.8,87.2 693.1,86.4 693.3,85.7 693.5,84.9 693.7,84.1 694.0,83.4 694.3,82.8 694.7,82.1 695.2,81.4 695.7,81.0 696.5,80.5 697.3,80.3 697.7,80.7 698.1,81.4 698.5,82.2 698.9,83.1 699.3,84.1 699.7,84.7 700.0,84.2 700.3,83.3 700.6,82.3 700.9,81.6 701.5,80.8 702.1,80.2 703.3,81.1 703.9,81.7 704.5,82.1 705.1,81.8 705.7,81.5 706.3,81.0 706.8,80.4 707.3,79.8 707.7,79.2 708.1,78.6 708.6,77.8 709.0,77.0 709.3,76.1 709.6,75.5 709.8,74.7 710.1,74.0 710.3,73.2 710.5,72.5 710.9,71.6 711.3,70.7 711.7,70.2 712.5,70.0 713.3,70.1 713.8,70.7 714.1,71.7 714.5,72.5 714.9,73.3 715.4,74.0 715.7,74.2 715.9,74.0 716.1,73.4 716.2,72.5 716.4,71.5 716.6,70.7 716.8,69.9 717.1,69.2 717.4,68.4 717.8,67.7 718.2,67.0 718.6,66.4 719.1,65.8 719.6,65.4 720.5,65.0 721.4,64.8 722.2,64.7 723.0,64.8 723.7,65.4 724.4,65.9 725.0,65.3 725.6,64.6 726.3,64.4 727.2,64.2 728.0,64.4 729.0,65.0 729.8,65.2 730.5,64.8 731.0,64.1 731.4,63.5 731.6,62.7 731.9,61.9 732.2,61.1 732.6,60.5 732.9,59.9 733.3,59.3 733.7,58.7 734.0,58.1 734.4,57.5 734.8,56.9 735.1,56.3 735.5,55.7 735.8,55.1 736.2,54.4 736.5,53.7 736.9,53.1 737.2,52.5 737.7,52.0 738.5,51.6 739.5,51.4 740.4,51.5 741.3,51.9 741.9,52.4 742.5,53.3 742.8,53.9 743.1,54.7 743.4,55.5 743.7,56.3 743.9,57.0 744.2,57.7 744.4,58.4 744.6,59.2 744.9,59.9 745.1,60.6 745.4,61.3 745.6,62.1 745.8,62.8 746.1,63.5 746.4,64.3 746.7,65.0 747.0,65.8 747.3,66.5 747.6,67.3 747.9,68.0 748.2,68.7 748.5,69.5 748.7,70.2 749.0,70.9 749.2,71.6 749.5,72.4 749.7,73.1 749.9,73.8 750.0,74.6 750.2,75.3 750.3,76.1 750.4,76.9 750.5,77.7 750.7,78.6 750.8,79.2 750.9,79.9 750.9,80.6 751.0,81.4 751.1,82.1 751.2,82.8 751.3,83.6 751.4,84.3 751.4,85.1 751.5,85.8 751.6,86.5 751.6,87.2 751.7,87.9 751.8,88.6 751.8,89.4 751.9,90.1 751.9,90.8 752.0,91.5 752.1,92.3 752.1,93.0 752.2,93.7 752.2,94.4 752.3,95.0 752.3,95.7 752.4,96.4 752.4,97.1 752.5,97.8 752.5,98.5 752.6,99.2 752.6,100.0 752.7,100.7 752.7,101.4 752.8,102.1 752.8,102.8 752.8,103.5 752.9,104.2 752.9,104.9 753.0,105.7 753.0,106.4 753.0,107.1 753.1,107.8 753.1,108.6 753.2,109.3 753.2,110.1 753.2,110.8 753.3,111.5 753.3,112.3 753.3,113.0 753.4,113.6 753.4,114.3 753.5,114.9 753.5,115.6 753.5,116.2 753.6,116.9 753.6,117.5 753.6,118.2 753.7,118.9 753.7,119.6 753.7,120.3 753.8,121.0 753.8,121.8 753.8,122.6 753.9,123.5 753.9,124.3 753.9,124.9 754.0,125.4 754.0,126.0 754.0,126.5 754.0,127.1 754.0,127.7 754.1,128.4 754.1,129.0 754.1,129.7 754.1,130.3 754.2,131.0 754.2,131.7 754.2,132.4 754.2,133.2 754.3,133.9 754.3,134.6 754.3,135.4 754.3,136.2 754.4,136.9 754.4,137.7 754.4,138.5 754.4,139.3 754.5,140.1 754.5,140.9 754.5,141.6 754.5,142.4 754.6,143.2 754.6,144.0 754.6,144.8 754.6,145.6 754.7,146.4 754.7,147.2 754.7,148.0 754.7,148.8 754.8,149.6 754.8,150.4 754.8,151.1 754.8,151.9 754.9,152.7 754.9,153.4 754.9,154.1 754.9,154.9 755.0,155.6 755.0,156.3 755.0,157.0 755.0,157.7 755.1,158.3 755.1,159.0 755.1,159.6 755.1,160.2 755.2,160.8 755.2,161.4 755.2,162.0 755.2,162.5 755.3,163.4 755.3,164.2 755.3,165.1 755.4,165.9 755.4,166.7 755.4,167.4 755.5,168.2 755.5,168.9 755.6,169.6 755.6,170.3 755.6,171.0 755.7,171.7 755.7,172.4 755.7,173.0 755.8,173.6 755.8,174.3 755.8,174.9 755.9,175.5 755.9,176.1 755.9,176.7 756.0,177.6 756.1,178.5 756.1,179.4 756.2,180.4 756.2,181.3 756.3,182.1 756.3,182.8 756.4,183.3 756.5,183.6 756.5,183.7 756.6,183.6 756.6,183.3 756.7,182.8 756.7,182.1 756.7,181.3 756.8,180.4 756.8,179.4 756.9,178.5 756.9,177.6 757.0,176.7 757.0,176.1 757.1,175.5 757.1,174.8 757.2,174.2 757.2,173.5 757.3,172.8 757.3,172.1 757.4,171.4 757.5,170.6 757.5,169.9 757.6,169.2 757.6,168.4 757.7,167.7 757.7,166.9 757.8,166.2 757.8,165.4 757.9,164.7 758.0,163.9 758.0,163.2 758.1,162.5 758.1,161.8 758.2,161.1 758.2,160.4 758.3,159.7 758.3,159.0 758.4,158.3 758.4,157.6 758.5,156.8 758.5,156.1 758.6,155.4 758.6,154.7 758.7,154.0 758.7,153.3 758.8,152.6 758.8,151.9 758.9,151.2 759.0,150.5 759.0,149.8 759.1,149.0 759.1,148.3 759.2,147.6 759.3,146.9 759.3,146.3 759.4,145.6 759.4,144.9 759.5,144.2 759.6,143.5 759.6,142.9 759.7,142.2 759.7,141.5 759.8,140.8 759.9,140.1 760.0,139.4 760.0,138.7 760.1,138.0 760.2,137.2 760.3,136.5 760.4,135.7 760.4,135.0 760.5,134.2 760.6,133.6 760.7,132.9 760.8,132.3 760.9,131.6 761.0,130.9 761.1,130.3 761.2,129.5 761.3,128.8 761.4,128.1 761.5,127.4 761.6,126.6 761.7,125.9 761.8,125.1 761.9,124.4 762.1,123.6 762.2,122.9 762.3,122.1 762.4,121.4 762.5,120.6 762.7,119.9 762.8,119.1 762.9,118.4 763.0,117.6 763.1,116.9 763.2,116.2 763.3,115.5 763.4,114.8 763.5,114.1 763.6,113.5 763.7,112.8 763.8,112.2 763.9,111.6 764.0,111.0 764.1,110.4 764.2,109.9 764.3,109.0 764.4,108.2 764.5,107.4 764.6,106.6 764.7,105.9 764.8,105.1 764.9,104.4 764.9,103.7 765.0,103.1 765.1,102.4 765.2,101.7 765.3,101.0 765.4,100.2 765.5,99.5 765.6,98.7 765.7,97.9 765.8,97.0 765.9,96.2 766.0,95.3 766.1,94.5 766.2,93.7 766.3,93.0 766.4,92.3 766.4,91.6 766.5,91.1 766.6,90.6 766.7,89.7 766.7,88.9 766.8,88.4 766.9,87.7 767.0,87.0 767.1,86.2 767.2,85.3 767.3,84.5 767.4,83.7 767.5,82.9 767.6,82.2 767.7,81.4 767.8,80.6 767.9,79.9 768.1,79.2 768.2,78.5 768.3,77.8 768.4,77.1 768.6,76.2 768.9,75.4 769.1,74.6 769.3,73.7 769.4,73.1 769.5,72.3 769.7,71.6 769.8,70.9 769.9,70.2 770.1,69.5 770.3,68.8 770.6,68.1 770.8,67.4 771.1,66.8 771.4,66.1 771.7,65.5 772.0,64.8 772.3,64.2 772.7,63.6 773.0,62.8 773.5,62.1 773.9,61.5 775.2,60.8 776.0,60.5 776.9,60.4 777.5,60.7 778.1,61.1 778.6,61.6 779.0,62.2 779.4,62.8 779.9,63.6 780.2,64.5 780.5,65.2 780.7,66.1 780.9,67.0 781.1,67.8 781.4,68.9 781.7,69.9 782.1,70.4 782.6,69.8 783.2,69.1 784.0,69.5 784.5,70.3 784.9,71.2 785.3,72.3 785.7,73.1 786.0,72.4 786.2,71.3 786.6,70.4 787.2,69.9 787.8,69.5 788.2,68.8 788.4,67.9 788.7,67.0 788.9,66.2 789.1,65.3 789.3,64.5 789.5,63.6 789.7,62.9 789.9,62.2 790.1,61.5 790.3,60.9 790.5,60.2 790.9,59.4 791.2,58.7 791.6,58.1 792.9,57.7 794.2,57.4 794.8,57.8 795.4,58.0 796.3,57.3 796.7,56.5 797.1,55.6 797.5,55.3 798.1,55.9 798.8,56.5 800.1,56.0 800.7,55.5 801.3,55.2 801.8,55.5 802.2,56.2 802.6,56.9 803.0,57.6 803.4,58.3 803.9,59.0 804.5,59.6 805.1,60.2 805.5,60.8 805.8,61.4 806.1,62.1 806.4,62.8 806.7,63.4 807.0,64.1 807.3,64.7 807.7,65.3 808.3,65.9 808.9,66.6 809.2,67.2 809.4,68.0 809.6,68.9 809.7,69.7 809.9,70.4 810.2,71.1 810.6,71.6 811.2,72.0 811.9,72.5 812.2,73.3 812.4,74.4 812.7,75.0 814.0,74.7 814.8,75.6 815.0,75.2 815.1,74.4 815.2,73.5 815.3,72.4 815.4,71.3 815.5,70.4 815.6,69.8 815.7,69.7 815.8,69.7 815.9,70.3 816.0,71.2 816.1,72.1 816.2,73.0 816.3,73.7 816.6,74.8 816.9,75.8 817.2,76.1 817.5,75.9 817.9,75.1 818.2,74.2 818.4,73.5 818.5,72.7 818.7,71.8 818.9,70.9 819.0,70.0 819.2,69.3 819.3,68.9 819.5,68.8 819.6,68.9 819.8,69.4 819.9,70.2 820.0,71.1 820.2,72.0 820.3,72.9 820.4,73.6 820.5,74.3 820.6,75.0 820.7,75.8 820.8,76.6 820.8,77.4 820.9,78.2 821.0,79.0 821.1,79.8 821.1,80.5 821.2,81.4 821.3,82.4 821.4,83.5 821.5,84.4 821.6,85.2 821.7,85.8 821.7,86.0 821.8,85.8 821.9,85.5 821.9,85.0 822.0,84.3 822.0,83.5 822.1,82.6 822.2,81.6 822.2,80.6 822.3,79.7 822.3,78.8 822.4,78.0 822.5,77.2 822.5,76.5 822.6,75.7 822.6,74.9 822.7,74.1 822.7,73.3 822.8,72.5 822.8,71.8 822.9,71.0 822.9,70.3 823.0,69.6 823.1,68.9 823.2,68.3 823.3,67.8 823.5,66.8 823.8,66.0 824.1,65.3 824.9,64.4 825.1,64.6 825.3,65.2 825.4,65.9 825.4,66.8 825.5,67.7 825.6,68.6 825.6,69.5 825.7,70.1 825.7,70.8 825.7,71.5 825.7,72.2 825.7,72.9 825.7,73.6 825.8,74.3 825.8,75.1 825.8,75.8 825.8,76.5 825.8,77.2 825.8,78.0" fill="none" stroke="#8b0000" stroke-width="1.15" stroke-linejoin="round"/>
<rect x="54.3" y="3.0" width="771.60" height="479.90" fill="none" stroke="#333" stroke-width="1.4"/>
<line x1="46.90" y1="12.45" x2="54.3" y2="12.45" stroke="#222" stroke-width="1.3"/>
<text transform="translate(11.20,11.45) rotate(-90) scale(0.9,1)" text-anchor="middle" class="ax">100</text>
<line x1="46.90" y1="53.07" x2="54.3" y2="53.07" stroke="#222" stroke-width="1.3"/>
<text transform="translate(24.20,53.07) rotate(-90) scale(0.9,1)" text-anchor="middle" class="ax">95</text>
<line x1="46.90" y1="93.69" x2="54.3" y2="93.69" stroke="#222" stroke-width="1.3"/>
<text transform="translate(24.20,93.69) rotate(-90) scale(0.9,1)" text-anchor="middle" class="ax">90</text>
<line x1="46.90" y1="134.31" x2="54.3" y2="134.31" stroke="#222" stroke-width="1.3"/>
<text transform="translate(24.20,134.31) rotate(-90) scale(0.9,1)" text-anchor="middle" class="ax">85</text>
<line x1="46.90" y1="174.93" x2="54.3" y2="174.93" stroke="#222" stroke-width="1.3"/>
<text transform="translate(24.20,174.93) rotate(-90) scale(0.9,1)" text-anchor="middle" class="ax">80</text>
<line x1="46.90" y1="215.55" x2="54.3" y2="215.55" stroke="#222" stroke-width="1.3"/>
<text transform="translate(24.20,215.55) rotate(-90) scale(0.9,1)" text-anchor="middle" class="ax">75</text>
<line x1="46.90" y1="256.17" x2="54.3" y2="256.17" stroke="#222" stroke-width="1.3"/>
<text transform="translate(24.20,256.17) rotate(-90) scale(0.9,1)" text-anchor="middle" class="ax">70</text>
<line x1="46.90" y1="296.79" x2="54.3" y2="296.79" stroke="#222" stroke-width="1.3"/>
<text transform="translate(24.20,296.79) rotate(-90) scale(0.9,1)" text-anchor="middle" class="ax">65</text>
<line x1="46.90" y1="337.41" x2="54.3" y2="337.41" stroke="#222" stroke-width="1.3"/>
<text transform="translate(24.20,337.41) rotate(-90) scale(0.9,1)" text-anchor="middle" class="ax">60</text>
<line x1="160.85" y1="482.9" x2="160.85" y2="490.70" stroke="#222" stroke-width="1.3"/>
<text transform="translate(160.85,512.80) scale(0.9,1)" text-anchor="middle" class="ax">3500</text>
<line x1="268.11" y1="482.9" x2="268.11" y2="490.70" stroke="#222" stroke-width="1.3"/>
<text transform="translate(268.11,512.80) scale(0.9,1)" text-anchor="middle" class="ax">3000</text>
<line x1="375.37" y1="482.9" x2="375.37" y2="490.70" stroke="#222" stroke-width="1.3"/>
<text transform="translate(375.37,512.80) scale(0.9,1)" text-anchor="middle" class="ax">2500</text>
<line x1="482.63" y1="482.9" x2="482.63" y2="490.70" stroke="#222" stroke-width="1.3"/>
<text transform="translate(482.63,512.80) scale(0.9,1)" text-anchor="middle" class="ax">2000</text>
<line x1="589.88" y1="482.9" x2="589.88" y2="490.70" stroke="#222" stroke-width="1.3"/>
<text transform="translate(589.88,512.80) scale(0.9,1)" text-anchor="middle" class="ax">1500</text>
<line x1="697.14" y1="482.9" x2="697.14" y2="490.70" stroke="#222" stroke-width="1.3"/>
<text transform="translate(697.14,512.80) scale(0.9,1)" text-anchor="middle" class="ax">1000</text>
<line x1="804.40" y1="482.9" x2="804.40" y2="490.70" stroke="#222" stroke-width="1.3"/>
<text transform="translate(804.40,512.80) scale(0.9,1)" text-anchor="middle" class="ax">500</text>
<text transform="translate(440.10,536.40) scale(0.9,1)" text-anchor="middle" class="tt">Wavenumber cm-1</text>
<text x="77.0" y="404.5" class="pl">(a)</text>
<line x1="266.54" y1="393.90" x2="266.54" y2="429.50" stroke="#3a3ae0" stroke-width="1.1"/>
<text transform="translate(271.14,477.10) rotate(-90)" class="an">3007.29</text>
<line x1="284.85" y1="393.90" x2="284.85" y2="429.50" stroke="#3a3ae0" stroke-width="1.1"/>
<text transform="translate(289.45,477.10) rotate(-90)" class="an">2921.97</text>
<line x1="299.71" y1="393.90" x2="299.71" y2="429.50" stroke="#3a3ae0" stroke-width="1.1"/>
<text transform="translate(304.31,477.10) rotate(-90)" class="an">2852.69</text>
<line x1="537.74" y1="393.90" x2="537.74" y2="429.50" stroke="#3a3ae0" stroke-width="1.1"/>
<text transform="translate(542.34,477.10) rotate(-90)" class="an">1743.08</text>
<polyline points="543.40,393.90 543.40,405.40 548.90,417.50 548.90,429.50" fill="none" stroke="#3a3ae0" stroke-width="1.1"/>
<text transform="translate(553.50,477.10) rotate(-90)" class="an">1716.70</text>
<line x1="599.03" y1="393.90" x2="599.03" y2="429.50" stroke="#3a3ae0" stroke-width="1.1"/>
<text transform="translate(603.63,477.10) rotate(-90)" class="an">1457.37</text>
<polyline points="607.40,393.90 607.40,405.40 610.40,417.50 610.40,429.50" fill="none" stroke="#3a3ae0" stroke-width="1.1"/>
<text transform="translate(615.00,477.10) rotate(-90)" class="an">1418.36</text>
<polyline points="612.11,393.90 612.11,405.40 621.90,417.50 621.90,429.50" fill="none" stroke="#3a3ae0" stroke-width="1.1"/>
<text transform="translate(626.50,477.10) rotate(-90)" class="an">1396.40</text>
<polyline points="616.33,393.90 616.33,405.40 633.50,417.50 633.50,429.50" fill="none" stroke="#3a3ae0" stroke-width="1.1"/>
<text transform="translate(638.10,477.10) rotate(-90)" class="an">1376.74</text>
<line x1="646.17" y1="393.90" x2="646.17" y2="429.50" stroke="#3a3ae0" stroke-width="1.1"/>
<text transform="translate(650.77,477.10) rotate(-90)" class="an">1237.63</text>
<line x1="662.66" y1="393.90" x2="662.66" y2="429.50" stroke="#3a3ae0" stroke-width="1.1"/>
<text transform="translate(667.26,477.10) rotate(-90)" class="an">1160.74</text>
<polyline points="671.65,393.90 671.65,405.40 674.30,417.50 674.30,429.50" fill="none" stroke="#3a3ae0" stroke-width="1.1"/>
<text transform="translate(678.90,477.10) rotate(-90)" class="an">1118.84</text>
<polyline points="676.22,393.90 676.22,405.40 685.50,417.50 685.50,429.50" fill="none" stroke="#3a3ae0" stroke-width="1.1"/>
<text transform="translate(690.10,477.10) rotate(-90)" class="an">1097.53</text>
<line x1="756.76" y1="393.90" x2="756.76" y2="429.50" stroke="#3a3ae0" stroke-width="1.1"/>
<text transform="translate(761.36,477.10) rotate(-90)" class="an">722.10</text>
<line x1="786.01" y1="393.90" x2="786.01" y2="429.50" stroke="#3a3ae0" stroke-width="1.1"/>
<text transform="translate(790.61,477.10) rotate(-90)" class="an">585.74</text>
<polyline points="813.21,393.90 813.21,405.40 797.50,417.50 797.50,429.50" fill="none" stroke="#3a3ae0" stroke-width="1.1"/>
<text transform="translate(802.10,477.10) rotate(-90)" class="an">458.95</text>
<polyline points="816.99,393.90 816.99,405.40 808.90,417.50 808.90,429.50" fill="none" stroke="#3a3ae0" stroke-width="1.1"/>
<text transform="translate(813.50,477.10) rotate(-90)" class="an">441.33</text>
<polyline points="821.79,393.90 821.79,405.40 820.40,417.50 820.40,429.50" fill="none" stroke="#3a3ae0" stroke-width="1.1"/>
<text transform="translate(825.00,477.10) rotate(-90)" class="an">418.94</text>
<path d="M55.0,619.5 55.7,619.4 56.5,619.3 57.2,619.5 57.9,619.7 58.6,619.8 59.2,620.1 59.8,620.5 60.8,621.0 61.7,621.0 62.5,620.2 63.2,619.5 63.9,619.6 64.6,620.1 65.1,620.8 65.6,621.5 66.1,621.8 66.8,621.4 67.5,621.0 68.0,621.5 68.5,622.4 69.0,622.8 69.7,622.6 70.4,622.2 71.2,622.7 71.9,623.0 72.4,622.6 72.9,621.8 73.3,621.1 74.3,620.0 74.5,620.3 74.6,621.0 74.8,621.7 74.9,622.7 75.0,623.7 75.1,624.6 75.2,625.4 75.4,626.3 75.5,627.2 75.6,628.2 75.8,629.0 75.9,629.5 76.0,629.6 76.1,629.6 76.2,629.0 76.3,628.2 76.4,627.2 76.5,626.2 76.5,625.1 76.6,624.1 76.7,623.3 76.9,622.7 77.0,622.5 77.2,622.9 77.4,623.9 77.6,625.0 77.9,626.0 78.1,626.6 78.4,625.9 78.8,625.0 79.1,624.7 79.4,624.9 79.7,625.9 80.0,626.9 80.3,627.4 80.6,626.8 80.9,625.9 81.2,625.4 81.4,625.8 81.6,626.8 81.8,627.9 82.0,628.9 82.2,629.4 82.5,628.9 82.8,628.1 83.1,627.3 83.6,626.5 84.0,625.8 84.4,625.2 84.6,625.7 84.8,626.4 85.0,627.3 85.2,628.3 85.4,629.3 85.5,629.9 85.6,630.6 85.7,631.5 85.8,632.4 85.8,633.4 85.9,634.3 86.0,635.3 86.1,636.2 86.2,637.1 86.3,637.8 86.4,638.5 86.5,639.0 86.5,639.3 86.6,639.4 86.7,639.3 86.7,639.1 86.8,638.7 86.8,638.1 86.9,637.5 86.9,636.8 87.0,635.9 87.0,635.0 87.0,634.1 87.1,633.1 87.1,632.0 87.2,631.0 87.2,629.9 87.2,628.9 87.3,627.9 87.3,626.9 87.4,626.0 87.4,625.2 87.5,624.4 87.5,623.8 87.6,623.3 87.6,622.9 87.7,622.6 87.8,622.5 88.0,622.8 88.1,623.5 88.4,624.4 88.6,625.4 88.7,626.4 88.9,627.1 89.0,628.0 89.1,629.0 89.2,630.0 89.3,631.0 89.4,631.8 89.5,632.5 89.6,633.0 89.7,632.9 89.8,632.9 89.9,632.5 90.0,631.7 90.1,630.8 90.2,629.9 90.3,628.9 90.5,628.0 90.7,627.3 91.0,626.4 91.4,625.4 91.8,624.7 92.1,624.5 92.3,624.6 92.4,625.1 92.5,625.8 92.7,626.7 92.8,627.7 92.9,628.8 93.0,629.9 93.1,630.9 93.2,631.9 93.3,632.8 93.4,633.5 93.5,633.9 93.6,634.1 93.7,633.9 93.8,633.5 93.9,632.8 94.0,632.0 94.1,631.1 94.2,630.1 94.3,629.1 94.4,628.1 94.5,627.3 94.6,626.5 94.8,625.6 94.9,624.6 95.0,623.7 95.1,622.9 95.2,622.2 95.4,621.7 95.5,621.6 95.6,621.7 95.7,622.2 95.8,623.0 95.9,623.8 96.0,624.8 96.2,625.7 96.3,626.6 96.4,627.3 96.7,628.2 96.9,629.1 97.1,629.9 97.4,630.5 97.6,630.7 97.8,630.6 97.9,630.1 98.0,629.5 98.2,628.7 98.3,627.8 98.4,626.9 98.6,626.0 98.7,625.2 98.9,624.5 99.1,623.5 99.3,622.5 99.6,621.6 99.8,620.9 100.1,620.6 100.5,621.1 100.9,622.0 101.3,622.2 101.7,622.0 102.3,621.0 102.7,620.3 103.0,621.1 103.2,622.1 103.4,623.0 103.7,623.3 104.0,623.0 104.3,622.1 104.6,621.5 104.8,621.8 105.0,622.5 105.1,623.4 105.3,624.4 105.5,625.4 105.7,626.1 105.9,626.4 106.5,625.9 107.0,625.4 107.2,625.6 107.3,626.0 107.4,626.6 107.5,627.4 107.6,628.2 107.7,629.2 107.7,630.2 107.8,631.3 107.8,632.4 107.9,633.4 107.9,634.3 108.0,635.2 108.0,635.9 108.1,636.5 108.2,636.8 108.3,636.9 108.6,636.7 108.9,636.0 109.2,635.0 109.5,634.1 109.6,633.4 109.8,632.5 110.0,631.6 110.1,630.6 110.3,629.7 110.5,629.0 110.6,628.5 110.7,628.3 110.8,628.5 110.9,629.0 110.9,629.7 111.0,630.6 111.0,631.6 111.1,632.7 111.1,633.7 111.2,634.7 111.2,635.6 111.3,636.3 111.3,636.8 111.4,637.0 111.5,636.9 111.5,636.5 111.6,635.9 111.7,635.1 111.8,634.2 111.9,633.3 112.0,632.3 112.0,631.3 112.1,630.3 112.2,629.5 112.3,628.8 112.5,627.9 112.6,626.9 112.8,626.0 112.9,625.2 113.1,624.7 113.3,624.5 113.6,624.8 113.9,625.6 114.2,626.6 114.5,627.5 114.8,628.0 115.0,627.4 115.3,626.5 115.5,625.3 115.7,624.4 115.9,624.0 116.0,624.2 116.1,624.7 116.2,625.4 116.3,626.3 116.4,627.3 116.5,628.4 116.5,629.4 116.6,630.3 116.7,631.0 116.8,631.5 116.9,631.6 117.0,631.5 117.1,631.2 117.1,630.6 117.2,629.8 117.3,628.9 117.4,628.0 117.5,627.0 117.6,626.0 117.7,625.1 117.8,624.2 118.0,623.5 118.1,623.0 118.6,622.1 119.1,621.6 120.3,621.2 120.5,621.4 120.7,621.8 120.8,622.4 120.9,623.2 121.0,624.0 121.0,625.0 121.1,626.0 121.1,627.1 121.2,628.1 121.2,629.2 121.2,630.1 121.3,630.9 121.3,631.6 121.4,632.2 121.4,632.5 121.5,632.8 121.6,632.5 121.7,632.0 121.8,631.4 121.9,630.5 122.0,629.5 122.2,628.4 122.3,627.3 122.4,626.2 122.5,625.2 122.6,624.3 122.7,623.6 122.8,623.2 123.0,623.0 123.0,623.1 123.1,623.5 123.2,624.0 123.3,624.7 123.4,625.5 123.4,626.4 123.5,627.4 123.6,628.4 123.7,629.5 123.8,630.6 123.8,631.6 123.9,632.6 124.0,633.6 124.1,634.4 124.1,635.1 124.2,635.6 124.3,635.9 124.4,636.1 124.5,635.9 124.6,635.6 124.7,635.0 124.8,634.3 124.9,633.5 125.0,632.6 125.1,631.6 125.2,630.6 125.3,629.6 125.4,628.7 125.6,627.8 125.7,627.0 125.8,626.4 126.1,625.5 126.4,624.6 126.7,623.8 127.0,623.2 127.3,622.9 127.6,623.3 127.9,623.9 128.2,624.7 128.5,625.6 128.7,626.4 129.0,627.1 129.3,627.7 129.5,628.4 129.7,629.3 129.8,629.8 129.9,630.5 130.0,631.3 130.0,632.2 130.1,633.1 130.2,634.1 130.2,635.0 130.3,636.0 130.3,637.0 130.4,637.9 130.4,638.7 130.5,639.4 130.5,640.0 130.6,640.5 130.6,640.7 130.7,640.6 130.7,640.7 130.7,640.4 130.8,640.0 130.8,639.4 130.8,638.6 130.8,637.8 130.8,636.9 130.8,635.9 130.8,634.9 130.9,633.9 130.9,632.8 130.9,631.9 131.0,630.9 131.1,630.1 131.2,629.3 131.3,628.7 131.5,628.2 131.6,627.8 132.3,627.3 133.1,627.2 133.3,627.7 133.5,628.4 133.7,629.3 133.9,630.4 134.0,631.4 134.1,632.5 134.3,633.3 134.4,633.9 134.5,634.1 134.7,633.7 134.9,632.9 135.0,631.9 135.2,631.0 135.4,630.8 135.9,631.0 136.3,631.9 136.4,632.5 136.5,633.3 136.5,634.2 136.6,635.2 136.6,636.2 136.7,637.0 136.8,637.6 137.0,638.0 137.7,637.6 138.4,636.7 138.8,636.0 139.2,635.2 139.5,634.6 139.9,634.3 140.3,634.7 140.7,635.8 141.0,636.8 141.4,637.3 142.1,636.8 142.7,636.2 142.9,636.4 143.1,637.1 143.2,638.1 143.3,639.2 143.5,640.3 143.6,641.2 143.7,641.9 143.9,642.2 144.0,641.9 144.1,641.3 144.2,640.4 144.3,639.4 144.5,638.4 144.6,637.4 144.8,636.6 145.1,636.1 146.3,635.5 146.7,635.9 147.1,636.7 147.2,637.2 147.3,637.8 147.4,638.7 147.5,639.6 147.6,640.6 147.7,641.6 147.7,642.6 147.8,643.6 147.8,644.5 147.9,645.2 147.9,645.8 148.0,646.2 148.1,646.4 148.2,646.1 148.3,645.6 148.4,644.8 148.5,643.9 148.6,642.9 148.7,641.9 148.9,641.0 149.0,640.3 149.4,639.2 149.8,638.3 150.2,637.9 150.6,638.2 151.1,638.9 151.4,639.7 151.8,640.5 152.1,641.5 152.3,642.4 152.7,642.6 153.0,642.1 153.4,641.0 153.9,640.3 154.6,640.7 155.3,641.5 155.7,642.1 156.0,642.9 156.4,643.7 156.7,644.2 157.5,643.6 158.3,643.0 158.9,643.2 159.5,643.9 160.1,644.5 160.7,645.2 161.3,645.7 162.1,646.1 162.9,646.4 163.7,646.4 164.5,646.6 165.3,647.0 166.1,647.2 166.9,647.4 167.7,647.7 168.6,647.9 169.4,648.1 170.2,648.4 171.0,648.8 171.8,649.1 172.6,649.4 173.4,649.9 174.0,650.5 174.6,651.1 175.5,651.2 176.4,651.5 177.3,651.9 178.2,652.2 179.1,652.8 180.0,653.3 180.7,653.5 181.5,653.6 182.3,653.7 183.0,653.8 183.8,653.8 184.6,653.9 185.4,654.0 186.1,653.9 186.8,653.8 187.6,654.0 188.3,654.0 189.0,654.1 189.8,654.2 190.5,654.4 191.2,654.5 191.9,654.5 192.7,654.3 193.4,654.0 194.2,653.9 195.0,653.9 195.8,654.0 196.7,654.0 197.5,654.0 198.3,654.0 199.1,654.2 199.9,654.2 200.7,654.3 201.5,654.1 202.3,654.0 203.0,653.8 203.8,653.7 204.5,653.7 205.2,653.6 205.9,653.5 206.6,653.5 207.3,653.6 208.0,653.8 208.8,654.0 209.5,654.0 210.3,654.0 211.1,653.9 211.9,653.8 212.7,653.9 213.5,653.9 214.3,653.9 215.1,653.7 215.9,653.5 216.7,653.7 217.6,653.9 218.4,653.8 219.2,653.8 220.0,653.8 220.8,653.7 221.6,653.7 222.4,653.5 223.2,653.3 224.0,653.3 224.7,653.1 225.4,652.9 226.1,652.7 226.8,652.7 227.6,652.6 228.3,652.3 229.1,652.1 229.9,652.0 230.7,652.0 231.5,652.0 232.2,651.9 233.0,651.8 233.7,651.7 234.4,651.6 235.1,651.4 235.8,651.3 236.6,651.2 237.3,651.3 238.0,651.5 238.7,651.5 239.5,651.5 240.2,651.6 240.9,651.6 241.6,651.5 242.3,651.4 243.1,651.4 243.8,651.7 244.5,651.6 245.2,651.4 246.0,651.2 246.7,651.0 247.4,651.0 248.1,651.0 248.9,651.0 249.6,651.0 250.3,651.0 251.0,650.9 251.7,650.8 252.5,650.7 253.2,650.9 253.9,651.1 254.6,651.2 255.4,651.2 256.1,651.1 256.8,651.0 257.5,651.1 258.3,651.1 259.0,650.9 259.7,650.9 260.4,650.9 261.1,651.0 261.9,651.1 262.6,651.2 263.3,651.2 264.0,651.3 264.8,651.6 265.5,651.6 266.2,651.4 266.9,651.4 267.7,651.5 268.4,651.7 269.1,652.1 269.9,651.9 270.6,651.7 271.4,651.6 272.0,651.6 272.7,652.1 273.2,652.5 273.8,653.0 274.4,653.6 275.0,654.3 275.6,655.1 276.0,655.7 276.4,656.4 276.7,657.1 277.1,657.9 277.4,658.7 277.7,659.4 278.0,660.1 278.3,660.8 278.6,661.6 278.9,662.3 279.2,662.9 279.7,663.5 280.1,664.1 280.6,664.7 281.0,665.3 281.4,666.0 281.7,666.7 282.0,667.4 282.3,668.2 282.6,668.9 282.8,669.6 283.0,670.3 283.2,671.0 283.4,671.7 283.6,672.4 283.8,673.1 284.0,673.9 284.2,674.6 284.4,675.4 284.6,676.1 284.8,676.8 285.0,677.3 285.4,678.2 285.8,678.9 286.2,679.3 286.6,678.7 287.0,677.8 287.4,676.7 287.6,676.2 287.8,675.5 287.9,674.8 288.1,674.1 288.3,673.4 288.4,672.6 288.6,671.9 288.8,671.2 289.0,670.5 289.2,669.8 289.4,669.1 289.6,668.4 289.8,667.8 290.1,667.1 290.4,666.3 290.7,665.6 291.1,664.9 291.5,664.2 291.9,663.5 292.2,662.8 292.6,662.2 292.9,661.6 293.3,661.0 293.7,660.5 294.3,659.9 294.9,659.4 295.5,659.3 296.0,659.4 296.5,659.9 297.0,660.5 297.6,661.0 298.2,661.6 298.7,662.3 299.2,663.0 299.6,663.9 299.9,664.7 300.2,665.5 300.5,666.4 300.8,667.1 301.1,667.4 302.1,666.5 302.4,666.0 302.6,665.3 302.7,664.5 302.9,663.7 303.1,662.9 303.2,662.2 303.4,661.5 303.5,660.8 303.6,660.1 303.7,659.4 303.9,658.7 304.0,658.1 304.2,657.3 304.4,656.5 304.6,655.8 304.8,655.1 305.1,654.5 305.5,653.8 305.9,653.1 306.4,652.5 306.9,651.9 307.7,651.6 308.5,651.5 309.3,651.3 310.0,651.1 310.7,651.0 311.5,650.8 312.2,650.7 313.0,650.4 313.7,650.1 314.4,649.9 315.1,649.9 315.8,649.8 316.6,649.7 317.3,649.5 318.0,649.3 318.8,649.1 319.5,648.8 320.2,648.6 321.0,648.3 321.8,648.2 322.6,648.0 323.4,647.8 324.3,647.7 325.0,647.6 326.0,648.2 326.6,648.3 327.3,648.2 328.0,648.1 328.8,647.8 329.6,647.6 330.3,647.4 331.0,647.2 331.7,647.1 332.4,647.0 333.1,646.9 333.8,646.8 334.5,646.4 335.1,646.2 335.8,646.2 336.5,646.2 337.2,646.1 337.9,646.0 338.6,645.9 339.3,645.7 340.0,645.6 340.8,645.5 341.5,645.3 342.3,645.1 343.1,644.9 343.8,644.9 344.6,645.0 345.3,644.8 346.0,644.4 346.7,644.2 347.4,644.1 348.0,643.8 348.7,643.6 349.4,643.3 350.1,642.9 350.8,642.6 351.6,642.4 352.3,642.3 353.1,642.3 353.9,642.1 354.7,641.8 355.4,641.5 356.1,641.2 357.0,641.1 357.8,641.1 358.6,641.0 359.4,641.2 360.2,641.4 361.0,641.3 361.7,641.1 362.3,640.8 363.0,640.4 363.7,640.4 364.4,640.4 365.1,640.2 365.8,640.2 366.6,639.9 367.4,639.7 368.2,639.6 369.0,639.5 369.8,639.5 370.6,639.4 371.4,639.3 372.1,639.3 372.9,639.4 373.6,639.8 374.2,640.1 375.1,640.3 375.8,640.5 376.6,640.7 377.4,641.1 378.2,641.6 379.0,641.6 379.9,641.2 380.7,640.8 381.4,640.3 382.1,639.9 382.7,639.3 383.3,638.8 383.9,638.3 384.4,637.8 385.0,637.4 385.6,636.9 386.3,636.5 386.9,636.2 387.6,636.0 388.4,635.8 389.1,635.6 389.9,635.4 390.6,635.1 391.4,634.8 392.1,634.6 392.8,634.3 393.5,634.1 394.4,633.9 395.3,634.1 396.2,634.2 397.1,634.4 397.8,634.5 398.5,634.5 399.3,634.5 400.0,634.5 400.7,634.4 401.4,634.0 402.0,633.6 402.6,633.2 403.1,632.7 403.6,632.1 403.9,631.5 404.3,630.9 404.6,630.3 404.9,629.6 405.3,628.9 405.6,628.1 405.8,627.3 406.1,626.6 406.5,625.8 406.9,624.9 407.3,624.6 407.8,624.9 408.2,625.7 408.6,626.6 408.9,627.4 409.2,628.3 409.5,629.2 409.8,629.9 410.1,630.1 410.6,629.9 411.1,629.1 411.6,628.4 412.3,627.6 413.0,627.2 413.6,628.0 414.2,629.0 414.6,629.6 414.9,630.3 415.3,630.9 415.8,631.4 416.5,631.8 417.4,632.1 418.2,632.3 419.2,632.3 420.0,632.1 420.4,632.7 421.0,633.0 421.8,633.3 422.6,633.7 423.4,633.9 424.3,633.8 425.0,633.6 425.8,633.4 426.7,633.0 427.5,632.5 428.3,632.6 429.2,633.0 430.1,633.1 430.5,632.7 430.8,632.0 431.3,631.4 432.2,631.2 433.1,631.2 433.7,630.7 434.3,630.3 434.8,630.5 435.5,631.1 436.1,631.5 437.0,631.3 437.9,631.1 438.8,631.2 439.7,631.5 440.3,632.1 440.9,632.7 441.5,632.4 442.1,631.8 442.7,631.5 443.6,631.8 444.5,632.1 445.1,631.8 445.7,631.3 446.3,630.9 447.3,630.8 448.1,631.1 448.6,631.7 449.0,632.5 449.3,633.3 449.7,634.0 450.2,634.8 450.5,635.2 450.8,634.8 451.0,634.1 451.3,633.2 451.5,632.2 451.7,631.4 452.1,630.6 452.5,629.7 453.0,629.0 453.6,628.3 454.2,628.1 454.4,628.2 454.6,629.0 454.8,629.9 455.1,630.8 455.4,631.6 456.6,632.0 457.8,631.4 458.2,631.9 458.6,632.6 459.0,633.3 459.5,634.0 460.2,634.8 460.8,635.3 461.4,634.7 462.0,633.9 462.6,633.3 463.2,632.7 463.8,632.1 464.4,631.9 465.0,632.3 465.6,632.9 466.2,633.0 466.8,632.8 467.4,632.3 468.0,631.9 468.9,632.0 469.8,632.5 470.7,632.9 471.6,633.3 472.3,634.0 472.9,634.8 473.4,635.3 473.9,634.7 474.3,633.9 474.8,633.1 475.2,632.5 476.1,633.0 477.0,633.4 477.7,632.9 478.3,632.1 478.9,631.4 479.5,630.6 480.1,630.3 481.3,631.0 481.8,630.1 482.2,629.3 482.5,629.7 482.8,630.8 483.1,631.4 483.3,631.1 483.5,630.2 483.8,629.1 484.0,628.2 484.3,627.9 484.7,628.5 485.1,629.6 485.5,630.4 485.8,631.2 486.1,632.0 486.2,632.8 486.4,633.7 486.5,634.8 486.6,635.8 486.7,636.6 486.8,637.2 486.9,637.4 487.1,637.2 487.2,636.7 487.4,635.8 487.5,634.9 487.7,634.0 487.9,633.3 488.2,632.3 488.4,631.4 488.7,630.6 489.1,630.6 489.7,631.1 490.3,631.7 490.7,631.0 491.1,630.1 491.5,629.5 492.1,629.9 492.7,630.8 493.3,631.4 494.2,631.5 495.1,631.4 496.1,631.6 496.9,632.0 497.4,632.9 497.8,634.0 498.1,634.3 498.4,634.0 498.7,633.1 498.9,632.1 499.3,631.4 500.2,631.4 501.1,631.4 501.6,632.0 501.9,632.7 502.3,633.2 503.2,633.0 504.2,632.6 504.8,632.9 505.4,633.3 506.0,633.7 506.9,634.1 507.8,634.4 508.7,635.0 509.6,635.1 510.2,634.5 510.8,633.6 511.4,633.0 511.7,633.6 512.1,634.4 512.4,635.4 512.7,636.4 512.9,637.2 513.2,637.7 513.4,637.2 513.6,636.6 513.7,635.8 513.9,634.9 514.0,634.0 514.2,633.2 514.4,632.7 515.0,632.3 515.2,632.9 516.1,632.9 517.0,633.2 517.4,633.7 517.6,634.5 517.8,635.4 518.1,636.3 518.3,637.2 518.4,638.0 518.6,638.5 518.9,638.5 519.1,638.4 519.3,637.8 519.5,637.0 519.8,636.0 520.0,635.0 520.2,634.1 520.4,633.5 520.7,633.2 520.9,633.5 521.2,634.2 521.4,635.1 521.7,636.2 522.0,637.1 522.2,637.8 522.5,638.0 522.7,637.9 522.9,637.3 523.1,636.5 523.3,635.5 523.5,634.6 523.7,633.7 524.0,633.0 524.3,632.5 525.2,632.6 526.1,633.3 526.5,634.1 526.9,635.1 527.3,635.8 528.5,635.1 528.7,635.4 528.9,636.1 529.1,637.1 529.2,638.2 529.3,639.3 529.4,640.2 529.5,640.8 529.7,641.0 529.9,640.8 530.1,640.0 530.3,639.0 530.5,638.0 530.7,637.2 530.9,636.8 531.1,637.0 531.3,637.5 531.6,638.2 531.8,639.0 532.0,639.9 532.3,640.9 532.5,641.7 532.6,642.4 532.8,643.3 532.9,644.2 533.1,645.2 533.2,646.1 533.3,647.0 533.5,647.8 533.6,648.4 533.8,648.8 533.9,649.0 534.0,648.8 534.2,648.4 534.3,647.8 534.4,647.0 534.5,646.1 534.6,645.1 534.7,644.1 534.8,643.1 534.9,642.2 535.1,641.4 535.3,640.7 535.5,640.2 535.7,639.9 536.6,639.7 537.5,640.5 537.9,641.1 538.1,642.0 538.3,643.0 538.5,643.8 538.7,644.0 539.1,643.6 539.5,642.8 539.9,642.3 540.3,642.6 540.8,643.3 541.1,644.1 541.4,644.7 541.6,645.6 541.8,646.5 542.0,647.4 542.2,648.2 542.4,648.7 542.6,648.8 542.7,648.8 542.8,648.4 542.9,647.8 543.0,647.1 543.1,646.2 543.2,645.3 543.3,644.3 543.4,643.2 543.5,642.1 543.6,641.1 543.7,640.1 543.7,639.3 543.8,638.5 543.9,638.0 544.0,637.6 544.2,637.6 544.4,637.7 544.6,638.2 544.8,638.9 545.0,639.8 545.2,640.8 545.4,641.7 545.5,642.3 545.6,643.0 545.7,643.9 545.7,644.8 545.8,645.7 545.9,646.7 546.0,647.7 546.1,648.6 546.1,649.5 546.2,650.3 546.3,651.1 546.3,651.7 546.4,652.1 546.5,652.4 546.6,652.6 546.6,652.4 546.7,652.0 546.8,651.4 546.9,650.6 547.0,649.7 547.0,648.7 547.1,647.7 547.2,646.6 547.3,645.5 547.3,644.5 547.4,643.6 547.5,642.8 547.6,642.2 547.7,641.8 547.8,641.5 547.8,641.8 547.9,642.1 548.0,642.5 548.1,643.1 548.1,643.7 548.2,644.5 548.3,645.4 548.4,646.4 548.5,647.4 548.5,648.4 548.6,649.5 548.7,650.6 548.8,651.6 548.9,652.6 549.0,653.6 549.0,654.5 549.1,655.3 549.2,656.0 549.3,656.5 549.4,657.0 549.5,657.3 549.6,657.4 549.7,657.2 549.8,656.8 549.9,656.2 550.0,655.5 550.2,654.5 550.3,653.5 550.4,652.5 550.5,651.4 550.7,650.3 550.8,649.3 550.9,648.4 551.0,647.6 551.2,647.0 551.3,646.6 551.4,646.5 551.5,646.6 551.6,646.8 551.6,647.2 551.7,647.8 551.8,648.4 551.9,649.1 551.9,650.0 552.0,650.9 552.1,651.9 552.2,652.9 552.2,653.9 552.3,654.9 552.4,656.0 552.5,657.0 552.5,658.0 552.6,659.0 552.7,659.9 552.8,660.7 552.8,661.5 552.9,662.1 553.0,662.6 553.0,663.0 553.1,663.3 553.2,663.4 553.3,663.2 553.4,662.9 553.5,662.3 553.5,661.6 553.6,660.7 553.7,659.8 553.8,658.7 553.9,657.7 554.0,656.6 554.1,655.6 554.2,654.6 554.2,653.7 554.3,653.0 554.4,652.4 554.5,652.1 554.6,651.9 554.8,652.1 554.9,652.6 555.0,653.4 555.2,654.3 555.3,655.3 555.5,656.4 555.6,657.4 555.8,658.3 555.9,659.1 556.1,659.6 556.2,659.8 556.4,659.5 556.5,658.8 556.6,657.9 556.7,656.8 556.9,655.7 557.0,654.8 557.2,654.0 557.4,654.0 558.0,654.1 558.6,654.9 558.7,655.3 558.8,655.7 558.9,656.1 559.0,656.7 559.1,657.4 559.1,658.1 559.2,658.9 559.2,659.7 559.3,660.5 559.3,661.4 559.4,662.4 559.4,663.3 559.4,664.3 559.4,665.3 559.4,666.3 559.5,667.3 559.5,668.2 559.5,669.2 559.5,670.1 559.5,671.0 559.5,671.9 559.5,672.7 559.6,673.4 559.6,674.1 559.6,674.7 559.6,675.3 559.6,675.7 559.7,676.1 559.7,676.4 559.8,676.6 559.8,676.6 559.9,676.5 560.0,676.1 560.1,675.6 560.2,674.8 560.3,674.0 560.4,673.0 560.5,672.0 560.6,670.9 560.7,669.8 560.8,668.8 560.9,667.8 561.0,667.0 561.1,666.2 561.2,665.7 561.3,665.3 561.4,665.1 561.5,665.3 561.6,665.6 561.6,666.1 561.7,666.8 561.8,667.6 561.9,668.5 562.0,669.4 562.0,670.5 562.1,671.5 562.2,672.6 562.3,673.6 562.3,674.5 562.4,675.4 562.5,676.2 562.6,676.9 562.7,677.4 562.7,677.7 562.8,677.8 562.9,677.7 563.0,677.2 563.2,676.5 563.3,675.7 563.4,674.7 563.5,673.6 563.6,672.5 563.7,671.4 563.8,670.4 563.9,669.5 564.1,668.8 564.2,668.4 564.3,668.0 564.4,668.3 564.5,668.7 564.5,669.3 564.6,670.1 564.7,671.0 564.8,671.9 564.9,673.0 564.9,674.1 565.0,675.1 565.1,676.1 565.2,677.0 565.4,677.8 565.5,678.4 565.7,678.9 565.8,678.9 566.3,678.7 566.7,677.8 567.2,677.0 567.7,676.3 567.9,677.0 568.2,677.9 568.4,679.0 568.6,679.9 568.9,680.1 569.3,679.6 569.7,678.4 570.1,677.8 570.3,678.0 570.4,678.5 570.6,679.2 570.8,680.1 570.9,681.0 571.1,681.9 571.3,682.7 571.4,683.3 571.6,684.0 571.8,684.7 572.0,685.4 572.1,686.1 572.3,686.8 572.5,687.5 572.6,688.2 572.8,688.9 572.9,689.6 573.1,690.4 573.2,691.1 573.4,691.9 573.5,692.7 573.7,693.5 573.8,694.1 573.9,694.8 574.0,695.5 574.1,696.2 574.2,696.9 574.3,697.6 574.5,698.3 574.6,699.1 574.6,699.8 574.7,700.5 574.8,701.2 574.9,701.9 574.9,702.6 575.0,703.3 575.0,704.0 575.0,704.7 575.1,705.4 575.1,706.1 575.1,706.7 575.1,707.4 575.1,708.2 575.1,708.9 575.2,709.6 575.2,710.4 575.2,711.1 575.3,711.8 575.3,712.6 575.3,713.5 575.3,714.3 575.3,715.2 575.4,716.1 575.4,716.9 575.4,717.8 575.5,718.6 575.5,719.4 575.6,720.1 575.7,720.8 575.7,721.4 575.8,722.0 576.0,722.4 576.1,722.8 577.0,723.7 577.1,724.1 577.2,724.8 577.3,725.6 577.4,726.6 577.5,727.6 577.5,728.6 577.5,729.6 577.6,730.5 577.6,731.3 577.7,732.0 577.8,732.4 577.9,732.5 578.0,732.2 578.1,731.3 578.3,730.3 578.5,729.4 578.7,728.9 579.6,729.9 579.8,730.3 579.9,731.0 579.9,731.8 580.0,732.7 580.0,733.7 580.0,734.8 580.0,735.8 580.0,736.8 580.0,737.7 580.0,738.5 580.0,739.1 580.0,739.5 580.1,739.6 580.1,739.6 580.1,739.4 580.1,739.0 580.2,738.6 580.2,738.1 580.2,737.4 580.2,736.7 580.3,736.0 580.3,735.2 580.3,734.3 580.3,733.4 580.3,732.5 580.4,731.5 580.4,730.6 580.4,729.6 580.4,728.7 580.4,727.8 580.5,727.0 580.5,726.2 580.5,725.5 580.5,724.7 580.6,724.0 580.6,723.3 580.6,722.6 580.6,721.9 580.6,721.2 580.7,720.5 580.7,719.8 580.7,719.1 580.7,718.4 580.7,717.7 580.8,717.0 580.8,716.3 580.8,715.6 580.8,714.9 580.9,714.3 580.9,713.6 580.9,712.9 581.0,712.2 581.0,711.5 581.0,710.8 581.0,710.1 581.1,709.4 581.1,708.7 581.1,708.0 581.2,707.3 581.2,706.6 581.2,705.9 581.3,705.2 581.3,704.5 581.3,703.8 581.4,703.1 581.4,702.4 581.5,701.7 581.5,701.0 581.6,700.3 581.6,699.6 581.7,698.9 581.7,698.1 581.8,697.3 581.9,696.4 581.9,695.5 582.0,694.5 582.1,693.6 582.2,692.6 582.2,691.6 582.3,690.7 582.4,689.8 582.5,688.9 582.6,688.1 582.6,687.4 582.7,686.7 582.8,686.2 582.9,685.7 582.9,685.3 583.0,685.1 583.1,685.0 583.1,685.2 583.2,685.5 583.2,686.0 583.3,686.7 583.3,687.6 583.4,688.5 583.4,689.5 583.5,690.6 583.5,691.7 583.6,692.8 583.6,693.9 583.7,694.9 583.7,695.8 583.7,696.6 583.8,697.3 583.8,697.9 583.9,698.2 583.9,698.4 584.0,698.2 584.0,697.9 584.0,697.4 584.1,696.8 584.1,696.1 584.1,695.2 584.2,694.3 584.2,693.2 584.2,692.2 584.3,691.1 584.3,690.0 584.3,689.0 584.4,688.0 584.4,687.0 584.5,686.1 584.5,685.4 584.6,684.8 584.6,684.3 584.7,684.0 584.8,683.9 584.9,684.1 585.1,684.7 585.3,685.5 585.5,686.5 585.7,687.5 585.8,688.1 585.9,688.7 586.0,689.4 586.1,690.1 586.2,690.8 586.2,691.6 586.3,692.4 586.4,693.2 586.4,694.0 586.5,694.8 586.6,695.6 586.6,696.4 586.7,697.1 586.8,697.9 586.8,698.6 586.9,699.4 586.9,700.2 587.0,701.0 587.0,701.8 587.1,702.6 587.1,703.4 587.2,704.1 587.2,704.8 587.3,705.5 587.4,706.2 587.5,706.7 587.7,707.6 588.0,708.3 588.2,709.0 588.5,709.7 588.7,710.4 589.0,711.0 589.4,711.7 589.7,712.3 590.0,713.1 590.3,713.9 590.4,714.5 590.4,715.0 590.5,715.7 590.6,716.3 590.6,717.0 590.6,717.7 590.6,718.5 590.7,719.2 590.7,720.0 590.7,720.8 590.7,721.6 590.7,722.4 590.7,723.2 590.7,723.9 590.7,724.7 590.7,725.5 590.7,726.2 590.8,726.9 590.8,727.6 590.8,728.4 590.8,729.2 590.9,729.9 590.9,730.7 590.9,731.4 590.9,732.2 591.0,732.9 591.0,733.7 591.0,734.4 591.0,735.1 591.1,735.8 591.1,736.5 591.1,737.2 591.1,737.9 591.2,738.7 591.2,739.6 591.2,740.6 591.3,741.6 591.3,742.5 591.4,743.4 591.4,744.2 591.4,744.9 591.5,745.4 591.5,745.7 591.6,745.8 591.7,745.1 591.9,743.9 592.0,743.2 592.1,743.3 592.2,743.6 592.2,744.2 592.3,744.8 592.4,745.6 592.5,746.5 592.5,747.5 592.6,748.4 592.7,749.4 592.8,750.4 592.8,751.2 592.9,752.0 593.0,752.8 593.1,753.5 593.1,754.2 593.2,754.9 593.3,755.6 593.4,756.4 593.4,757.1 593.5,757.8 593.6,758.6 593.7,759.3 593.7,760.1 593.8,760.9 593.9,761.5 593.9,762.2 594.0,762.8 594.0,763.5 594.0,764.2 594.1,764.9 594.1,765.6 594.2,766.3 594.2,767.0 594.3,767.7 594.3,768.4 594.4,769.2 594.4,769.9 594.4,770.6 594.5,771.3 594.5,772.0 594.6,772.8 594.6,773.5 594.7,774.2 594.7,774.9 594.8,775.6 594.9,776.3 594.9,777.0 595.0,777.7 595.0,778.4 595.1,779.1 595.2,779.8 595.2,780.5 595.3,781.2 595.4,781.9 595.4,782.6 595.5,783.3 595.6,784.0 595.6,784.8 595.7,785.5 595.7,786.2 595.8,786.9 595.9,787.7 595.9,788.4 596.0,789.1 596.0,789.7 596.1,790.4 596.1,791.1 596.2,791.8 596.2,792.4 596.3,793.1 596.3,793.8 596.4,794.5 596.4,795.1 596.5,795.8 596.5,796.5 596.6,797.2 596.6,797.9 596.7,798.6 596.7,799.3 596.8,800.0 596.8,800.7 596.9,801.5 596.9,802.2 597.0,802.9 597.0,803.7 597.1,804.4 597.1,805.2 597.1,805.9 597.2,806.5 597.2,807.2 597.2,808.0 597.2,808.7 597.2,809.5 597.3,810.2 597.3,811.0 597.3,811.9 597.3,812.7 597.3,813.5 597.3,814.3 597.3,815.2 597.3,816.0 597.3,816.9 597.3,817.7 597.3,818.5 597.3,819.4 597.3,820.2 597.4,821.0 597.4,821.8 597.4,822.6 597.4,823.3 597.4,824.1 597.5,824.8 597.5,825.5 597.5,826.1 597.6,826.7 597.6,827.3 597.7,827.9 597.7,828.4 597.8,828.9 597.9,829.4 597.9,829.8 598.0,830.1 598.1,830.4 598.7,831.3 599.3,832.1 599.4,832.4 599.5,832.8 599.6,833.3 599.7,833.8 599.7,834.3 599.8,834.9 599.8,835.6 599.9,836.2 599.9,836.9 600.0,837.6 600.0,838.4 600.0,839.2 600.1,840.0 600.1,840.8 600.1,841.6 600.1,842.4 600.2,843.3 600.2,844.1 600.2,845.0 600.2,845.8 600.2,846.7 600.3,847.5 600.3,848.4 600.3,849.2 600.3,850.0 600.4,850.8 600.4,851.5 600.5,852.3 600.5,853.0 600.6,853.8 600.6,854.5 600.6,855.3 600.7,856.1 600.7,856.9 600.8,857.7 600.8,858.5 600.8,859.3 600.9,860.2 600.9,861.0 601.0,861.8 601.0,862.6 601.1,863.4 601.1,864.2 601.2,865.0 601.2,865.7 601.2,866.5 601.3,867.2 601.3,867.9 601.4,868.6 601.5,869.2 601.5,869.9 601.6,870.5 601.6,871.0 601.7,871.5 601.7,872.0 601.8,872.4 602.0,873.4 602.2,874.2 602.4,874.9 602.6,875.8 602.7,876.3 602.8,876.8 602.9,877.4 602.9,878.0 603.0,878.7 603.1,879.3 603.1,880.0 603.2,880.7 603.2,881.5 603.3,882.2 603.4,883.0 603.4,883.8 603.5,884.6 603.5,885.4 603.6,886.2 603.6,886.9 603.7,887.7 603.8,888.5 603.8,889.2 603.9,889.9 603.9,890.6 604.0,891.3 604.0,891.9 604.1,892.6 604.2,893.3 604.2,894.0 604.3,894.7 604.3,895.4 604.4,896.1 604.4,896.8 604.5,897.5 604.6,898.2 604.6,899.0 604.7,899.7 604.7,900.4 604.8,901.1 604.8,901.8 604.9,902.5 604.9,903.2 605.0,903.9 605.1,904.6 605.1,905.3 605.2,906.1 605.2,906.8 605.3,907.5 605.3,908.2 605.4,908.9 605.5,909.6 605.5,910.3 605.6,911.0 605.6,911.7 605.7,912.4 605.7,913.1 605.8,913.8 605.9,914.5 605.9,915.2 606.0,915.9 606.0,916.6 606.1,917.3 606.1,918.0 606.2,918.7 606.2,919.4 606.3,920.1 606.4,920.8 606.4,921.5 606.5,922.2 606.5,922.9 606.6,923.6 606.6,924.3 606.7,925.0 606.7,925.7 606.8,926.4 606.8,927.1 606.9,927.8 606.9,928.5 607.0,929.2 607.0,930.0 607.1,930.7 607.1,931.4 607.1,932.1 607.2,932.8 607.2,933.5 607.3,934.2 607.3,934.9 607.4,935.6 607.4,936.3 607.5,937.0 607.5,937.7 607.6,938.3 607.6,939.0 607.7,939.7 607.7,940.4 607.8,941.2 607.9,941.9 607.9,942.7 608.0,943.4 608.0,944.2 608.1,944.9 608.2,945.6 608.2,946.4 608.3,947.1 608.4,947.8 608.4,948.5 608.5,949.2 608.5,949.9 608.6,950.6 608.7,951.2 608.7,951.9 608.8,952.5 608.9,953.1 609.0,954.0 609.0,955.0 609.1,956.0 609.2,957.0 609.3,958.0 609.4,958.8 609.5,959.6 609.6,960.1 609.7,960.5 609.9,960.6 610.1,960.4 610.3,959.7 610.5,958.8 610.7,957.9 611.1,957.3 611.9,956.9 612.7,956.4 612.9,956.2 613.1,955.8 613.2,955.3 613.4,954.8 613.5,954.2 613.6,953.5 613.7,952.8 613.8,952.1 613.8,951.3 613.9,950.5 614.0,949.7 614.0,948.9 614.1,948.0 614.1,947.2 614.2,946.3 614.2,945.5 614.3,944.6 614.3,943.8 614.4,943.0 614.5,942.4 614.5,941.7 614.6,941.1 614.6,940.4 614.7,939.7 614.7,939.0 614.8,938.3 614.8,937.6 614.9,936.9 614.9,936.2 615.0,935.5 615.0,934.8 615.0,934.1 615.1,933.3 615.1,932.6 615.2,931.9 615.2,931.1 615.2,930.4 615.3,929.7 615.3,928.9 615.3,928.2 615.4,927.4 615.4,926.6 615.4,925.9 615.5,925.1 615.5,924.4 615.6,923.6 615.6,922.9 615.6,922.2 615.7,921.5 615.7,920.9 615.7,920.2 615.7,919.5 615.8,918.8 615.8,918.1 615.8,917.4 615.9,916.8 615.9,916.1 615.9,915.4 615.9,914.7 616.0,914.0 616.0,913.3 616.0,912.6 616.0,911.8 616.1,911.1 616.1,910.4 616.1,909.7 616.2,909.0 616.2,908.3 616.2,907.6 616.2,906.9 616.3,906.2 616.3,905.4 616.3,904.7 616.3,904.0 616.4,903.3 616.4,902.6 616.4,901.9 616.5,901.2 616.5,900.5 616.5,899.8 616.5,899.1 616.6,898.3 616.6,897.6 616.6,896.9 616.7,896.2 616.7,895.5 616.7,894.8 616.8,894.1 616.8,893.4 616.8,892.7 616.8,892.0 616.9,891.3 616.9,890.6 616.9,889.9 617.0,889.2 617.0,888.5 617.0,887.8 617.1,887.1 617.1,886.4 617.1,885.7 617.2,885.0 617.2,884.3 617.2,883.6 617.3,882.9 617.3,882.2 617.3,881.5 617.4,880.8 617.4,880.1 617.4,879.4 617.5,878.7 617.5,878.0 617.5,877.3 617.6,876.6 617.6,875.9 617.6,875.2 617.7,874.5 617.7,873.8 617.7,873.1 617.8,872.4 617.8,871.7 617.8,871.0 617.9,870.3 617.9,869.6 617.9,868.9 618.0,868.2 618.0,867.5 618.0,866.8 618.1,866.1 618.1,865.4 618.1,864.7 618.2,864.0 618.2,863.3 618.2,862.6 618.3,861.9 618.3,861.2 618.3,860.5 618.4,859.8 618.4,859.1 618.4,858.4 618.5,857.7 618.5,857.0 618.5,856.3 618.6,855.6 618.6,854.9 618.6,854.2 618.7,853.5 618.7,852.8 618.7,852.1 618.8,851.4 618.8,850.7 618.8,850.0 618.9,849.3 618.9,848.6 618.9,847.9 618.9,847.2 619.0,846.5 619.0,845.8 619.0,845.1 619.1,844.4 619.1,843.7 619.1,843.0 619.2,842.3 619.2,841.6 619.2,840.9 619.2,840.2 619.3,839.5 619.3,838.8 619.3,838.0 619.3,837.3 619.4,836.6 619.4,835.9 619.4,835.2 619.4,834.5 619.5,833.8 619.5,833.1 619.5,832.4 619.6,831.7 619.6,831.0 619.6,830.3 619.6,829.6 619.7,828.9 619.7,828.2 619.7,827.5 619.7,826.8 619.8,826.1 619.8,825.4 619.8,824.7 619.9,824.1 619.9,823.4 619.9,822.7 620.0,822.0 620.0,821.3 620.0,820.6 620.1,819.8 620.1,819.1 620.1,818.4 620.2,817.7 620.2,817.0 620.2,816.3 620.3,815.6 620.3,814.9 620.3,814.2 620.4,813.5 620.4,812.8 620.4,812.1 620.5,811.5 620.5,810.8 620.6,810.1 620.6,809.4 620.6,808.7 620.7,808.0 620.7,807.3 620.7,806.6 620.8,805.9 620.8,805.2 620.9,804.5 620.9,803.8 621.0,803.1 621.0,802.3 621.0,801.6 621.1,800.9 621.1,800.2 621.2,799.5 621.2,798.8 621.3,798.1 621.3,797.4 621.4,796.7 621.4,796.0 621.5,795.3 621.5,794.5 621.6,793.8 621.6,793.1 621.7,792.3 621.7,791.6 621.8,790.9 621.8,790.1 621.9,789.4 622.0,788.6 622.0,787.9 622.1,787.2 622.1,786.4 622.2,785.7 622.2,784.9 622.3,784.2 622.4,783.5 622.4,782.8 622.5,782.1 622.5,781.4 622.6,780.7 622.6,780.0 622.7,779.3 622.7,778.6 622.8,777.9 622.8,777.3 622.9,776.6 622.9,776.0 623.0,775.4 623.0,774.8 623.1,774.2 623.1,773.4 623.2,772.6 623.2,771.9 623.3,771.2 623.3,770.5 623.4,769.8 623.4,769.2 623.4,768.5 623.5,767.9 623.5,767.3 623.6,766.6 623.6,766.0 623.6,765.3 623.7,764.6 623.7,763.9 623.8,763.2 623.8,762.5 623.9,761.7 623.9,760.9 624.0,760.3 624.0,759.7 624.1,759.0 624.1,758.3 624.1,757.6 624.2,756.9 624.2,756.1 624.2,755.3 624.3,754.5 624.3,753.7 624.4,752.9 624.4,752.1 624.5,751.2 624.5,750.4 624.5,749.5 624.6,748.7 624.6,747.8 624.7,747.0 624.7,746.1 624.8,745.3 624.8,744.4 624.8,743.6 624.9,742.8 624.9,742.0 625.0,741.2 625.0,740.4 625.1,739.7 625.1,739.0 625.2,738.3 625.2,737.6 625.3,737.0 625.4,736.4 625.4,735.8 625.5,735.3 625.5,734.8 625.6,734.3 625.7,733.9 625.7,733.6 625.8,733.3 626.2,731.9 626.6,731.3 626.7,731.6 626.8,732.2 626.9,733.1 627.0,734.2 627.0,735.3 627.1,736.3 627.2,737.2 627.3,737.8 627.3,737.9 627.4,737.8 627.6,737.2 627.7,736.3 627.8,735.3 627.9,734.2 628.0,733.3 628.1,732.6 628.2,731.9 628.3,731.2 628.4,730.4 628.4,729.7 628.5,729.0 628.6,728.2 628.7,727.5 628.8,726.8 628.8,726.1 628.9,725.4 629.0,724.7 629.0,724.0 629.1,723.3 629.2,722.6 629.2,721.9 629.3,721.2 629.4,720.5 629.5,719.8 629.5,719.1 629.6,718.3 629.7,717.6 629.8,716.9 629.9,716.2 630.0,715.5 630.0,714.8 630.1,714.1 630.2,713.4 630.3,712.7 630.4,712.0 630.5,711.3 630.7,710.5 630.8,709.8 630.9,709.0 631.0,708.3 631.2,707.5 631.3,706.8 631.4,706.0 631.6,705.3 631.7,704.5 631.8,703.8 632.0,703.0 632.1,702.3 632.3,701.5 632.4,700.8 632.5,700.0 632.7,699.3 632.8,698.6 633.0,697.8 633.1,697.1 633.3,696.3 633.4,695.6 633.6,694.9 633.8,694.2 633.9,693.5 634.1,692.8 634.3,692.0 634.5,691.2 634.6,690.5 634.8,689.7 635.0,689.0 635.2,688.2 635.4,687.5 635.6,686.8 635.9,686.1 636.1,685.4 636.3,684.7 636.5,684.0 636.7,683.3 637.0,682.7 637.2,681.9 637.5,681.2 637.8,680.4 638.1,679.7 638.3,679.0 638.6,678.3 638.9,677.5 639.2,676.7 639.6,675.9 639.9,675.2 640.3,674.5 640.7,673.8 641.1,673.2 641.5,672.6 642.0,672.0 642.6,671.3 643.2,670.6 643.9,670.1 644.9,669.5 645.8,669.1 646.7,669.7 647.6,670.4 648.0,671.0 648.5,671.8 648.8,672.6 649.2,673.5 649.6,674.2 649.9,675.0 650.2,675.8 650.5,676.6 650.9,677.3 651.1,678.1 651.4,678.8 651.7,679.5 652.0,680.2 652.3,680.9 652.6,681.7 652.8,682.4 653.1,683.0 653.4,683.7 653.6,684.4 653.9,685.1 654.1,685.8 654.3,686.5 654.5,687.2 654.7,687.9 654.9,688.6 655.1,689.4 655.3,690.1 655.5,690.8 655.6,691.5 655.8,692.2 655.9,692.9 656.1,693.7 656.2,694.4 656.4,695.2 656.5,695.9 656.6,696.6 656.8,697.3 656.9,698.1 657.0,698.8 657.1,699.5 657.2,700.2 657.4,701.0 657.5,701.7 657.6,702.4 657.7,703.1 657.8,703.8 658.0,704.6 658.1,705.3 658.2,706.0 658.3,706.7 658.4,707.4 658.6,708.2 658.7,708.9 658.8,709.6 658.9,710.4 659.0,711.1 659.1,711.9 659.2,712.6 659.3,713.4 659.4,714.2 659.5,714.9 659.6,715.6 659.7,716.3 659.8,717.0 659.9,717.7 660.0,718.4 660.1,719.1 660.2,719.8 660.2,720.5 660.3,721.2 660.4,721.9 660.5,722.7 660.6,723.3 660.6,724.0 660.7,724.7 660.8,725.3 660.8,726.0 660.9,726.7 661.0,727.4 661.0,728.1 661.1,728.8 661.1,729.6 661.2,730.4 661.3,731.3 661.3,731.9 661.3,732.4 661.4,733.0 661.4,733.6 661.5,734.2 661.5,734.8 661.5,735.5 661.6,736.1 661.6,736.8 661.6,737.5 661.7,738.2 661.7,738.9 661.8,739.6 661.8,740.3 661.8,741.1 661.9,741.8 661.9,742.6 662.0,743.3 662.0,744.1 662.0,744.8 662.1,745.6 662.1,746.4 662.2,747.1 662.2,747.9 662.2,748.7 662.3,749.4 662.3,750.2 662.4,750.9 662.4,751.7 662.4,752.4 662.5,753.1 662.5,753.8 662.5,754.6 662.6,755.2 662.6,755.9 662.6,756.6 662.7,757.3 662.7,758.1 662.7,758.8 662.8,759.6 662.8,760.3 662.8,761.0 662.9,761.7 662.9,762.5 662.9,763.2 663.0,763.9 663.0,764.6 663.0,765.3 663.1,766.0 663.1,766.7 663.1,767.4 663.2,768.1 663.2,768.8 663.2,769.5 663.3,770.2 663.3,770.9 663.3,771.6 663.4,772.3 663.4,773.0 663.4,773.7 663.5,774.4 663.5,775.1 663.5,775.8 663.6,776.5 663.6,777.3 663.6,778.0 663.7,778.7 663.7,779.4 663.7,780.1 663.8,780.8 663.8,781.5 663.9,782.2 663.9,783.0 663.9,783.7 664.0,784.4 664.0,785.1 664.0,785.8 664.1,786.5 664.1,787.2 664.1,787.9 664.2,788.7 664.2,789.4 664.3,790.1 664.3,790.8 664.3,791.5 664.4,792.2 664.4,792.9 664.5,793.6 664.5,794.4 664.5,795.1 664.6,795.8 664.6,796.5 664.7,797.2 664.7,797.9 664.8,798.6 664.8,799.4 664.8,800.1 664.9,800.8 664.9,801.6 665.0,802.3 665.0,803.0 665.1,803.8 665.1,804.5 665.2,805.3 665.2,806.0 665.3,806.7 665.3,807.4 665.4,808.2 665.4,808.9 665.4,809.6 665.5,810.3 665.5,811.0 665.6,811.7 665.6,812.4 665.7,813.1 665.7,813.8 665.8,814.5 665.9,815.1 665.9,815.8 666.0,816.4 666.0,817.2 666.1,818.0 666.1,818.7 666.2,819.5 666.2,820.3 666.3,821.0 666.3,821.7 666.4,822.5 666.4,823.2 666.5,823.9 666.5,824.6 666.6,825.3 666.7,826.0 666.7,826.7 666.8,827.3 666.9,827.9 667.0,828.6 667.2,829.2 667.3,829.7 667.5,830.5 667.7,831.2 668.0,831.9 668.3,832.5 668.5,833.1 668.8,833.8 669.1,834.4 669.4,835.0 669.7,835.7 669.9,836.4 670.2,837.1 670.4,837.9 670.6,838.8 670.8,839.7 671.0,840.7 671.2,841.6 671.4,842.6 671.7,843.4 671.9,844.2 672.0,844.8 672.2,845.3 672.4,845.6 672.6,845.9 672.8,845.6 673.0,845.3 673.1,844.8 673.3,844.2 673.5,843.5 673.6,842.7 673.8,841.9 673.9,840.9 674.1,840.0 674.2,839.0 674.3,838.1 674.5,837.2 674.6,836.4 674.7,835.7 674.8,835.1 674.9,834.4 675.0,833.8 675.0,833.1 675.1,832.5 675.2,831.8 675.3,831.1 675.3,830.4 675.4,829.7 675.4,829.0 675.5,828.3 675.6,827.6 675.6,826.8 675.7,826.1 675.7,825.4 675.8,824.6 675.9,823.9 675.9,823.1 676.0,822.4 676.0,821.8 676.1,821.1 676.1,820.4 676.2,819.8 676.2,819.1 676.3,818.4 676.3,817.7 676.4,817.0 676.4,816.3 676.5,815.5 676.5,814.8 676.6,814.1 676.6,813.4 676.7,812.6 676.7,811.9 676.8,811.2 676.8,810.4 676.9,809.7 676.9,809.0 677.0,808.2 677.0,807.5 677.1,806.8 677.1,806.0 677.1,805.3 677.2,804.6 677.2,803.9 677.3,803.1 677.3,802.4 677.3,801.7 677.4,801.0 677.4,800.3 677.4,799.6 677.5,798.9 677.5,798.2 677.6,797.4 677.6,796.7 677.6,796.0 677.6,795.3 677.7,794.6 677.7,793.9 677.7,793.2 677.8,792.5 677.8,791.7 677.8,791.0 677.9,790.3 677.9,789.6 677.9,788.9 678.0,788.2 678.0,787.5 678.0,786.8 678.1,786.0 678.1,785.3 678.1,784.6 678.2,783.9 678.2,783.2 678.2,782.5 678.3,781.8 678.3,781.1 678.3,780.3 678.4,779.6 678.4,778.9 678.4,778.2 678.5,777.5 678.5,776.8 678.6,776.1 678.6,775.4 678.6,774.6 678.7,773.9 678.7,773.2 678.8,772.5 678.8,771.8 678.8,771.1 678.9,770.4 678.9,769.7 678.9,768.9 679.0,768.2 679.0,767.5 679.1,766.8 679.1,766.1 679.1,765.4 679.2,764.7 679.2,764.0 679.3,763.2 679.3,762.5 679.3,761.8 679.4,761.1 679.4,760.3 679.4,759.6 679.5,758.9 679.5,758.1 679.6,757.4 679.6,756.7 679.6,755.9 679.7,755.2 679.7,754.4 679.7,753.7 679.8,752.9 679.8,752.2 679.9,751.5 679.9,750.8 679.9,750.0 680.0,749.3 680.0,748.6 680.0,747.9 680.1,747.2 680.1,746.5 680.2,745.9 680.2,745.2 680.2,744.6 680.3,743.9 680.3,743.3 680.4,742.5 680.4,741.7 680.5,740.9 680.5,740.1 680.6,739.3 680.7,738.6 680.7,737.8 680.8,737.1 680.8,736.4 680.9,735.7 681.0,735.0 681.0,734.2 681.1,733.5 681.1,732.8 681.2,732.1 681.3,731.4 681.3,730.7 681.4,729.9 681.5,729.1 681.5,728.3 681.6,727.6 681.7,726.8 681.8,726.1 681.8,725.3 681.9,724.6 682.0,723.9 682.1,723.2 682.1,722.5 682.2,721.8 682.3,721.0 682.4,720.2 682.5,719.4 682.6,718.6 682.7,717.9 682.8,717.1 682.9,716.4 683.1,715.7 683.2,715.1 683.4,714.2 683.5,713.3 683.7,712.4 683.9,711.6 684.2,711.1 684.4,711.0 685.6,711.3 685.9,711.7 686.1,712.4 686.3,713.3 686.4,714.2 686.6,715.1 686.7,715.7 686.8,716.4 686.9,717.1 687.1,717.9 687.2,718.6 687.3,719.4 687.4,720.1 687.5,720.8 687.6,721.6 687.8,722.3 687.9,723.1 688.0,723.9 688.1,724.6 688.2,725.4 688.3,726.0 688.5,726.6 688.8,727.7 689.1,728.6 689.5,729.2 689.8,728.6 690.1,727.7 690.4,726.6 690.5,726.1 690.7,725.5 690.7,724.8 690.8,724.2 690.9,723.4 691.0,722.7 691.1,721.9 691.1,721.1 691.2,720.4 691.3,719.6 691.4,718.9 691.5,718.2 691.6,717.5 691.6,716.8 691.7,716.1 691.8,715.3 691.9,714.6 692.0,713.9 692.1,713.2 692.2,712.5 692.2,711.9 692.3,711.2 692.5,710.4 692.6,709.5 692.7,708.7 692.8,707.9 692.9,707.1 693.1,706.4 693.3,705.8 693.5,705.4 694.8,705.1 695.2,705.5 695.4,706.4 695.7,707.3 695.9,708.0 696.1,708.8 696.3,709.6 696.5,710.4 696.7,711.2 696.9,711.9 697.0,712.6 697.2,713.3 697.4,714.0 697.6,714.8 697.8,715.5 697.9,716.3 698.1,717.0 698.3,717.7 698.5,718.4 698.7,719.2 698.8,719.9 699.0,720.6 699.2,721.4 699.4,722.1 699.6,722.8 699.8,723.5 700.0,724.2 700.2,724.9 700.4,725.5 700.6,726.2 700.8,726.9 701.0,727.6 701.2,728.3 701.4,729.0 701.6,729.7 701.8,730.4 702.0,731.1 702.3,731.8 702.5,732.4 702.7,733.2 703.0,734.1 703.3,734.9 703.6,735.6 703.9,736.3 704.6,737.2 705.4,737.5 706.1,737.3 706.8,736.7 707.1,736.2 707.3,735.6 707.5,734.9 707.7,734.1 707.8,733.2 708.0,732.4 708.1,731.7 708.2,731.0 708.3,730.3 708.4,729.5 708.5,728.8 708.6,728.0 708.7,727.2 708.8,726.4 708.9,725.7 709.0,725.0 709.1,724.3 709.2,723.6 709.3,722.9 709.3,722.2 709.4,721.4 709.5,720.7 709.6,720.0 709.7,719.3 709.8,718.6 709.9,718.0 710.0,717.2 710.1,716.4 710.3,715.6 710.4,714.9 710.6,714.1 710.7,713.4 710.9,712.6 711.0,711.9 711.1,711.2 711.3,710.5 711.4,709.8 711.5,709.1 711.7,708.4 711.8,707.7 712.0,707.1 712.1,706.4 712.3,705.7 712.4,704.9 712.6,704.2 712.7,703.5 712.9,702.8 713.1,702.1 713.4,701.6 713.8,700.8 714.4,700.2 715.0,699.6 715.6,699.2 716.3,698.7 716.9,698.2 717.6,697.6 718.2,696.9 718.9,696.3 719.5,695.6 720.2,695.0 720.8,694.3 721.3,693.7 721.8,693.0 722.2,692.4 722.7,691.5 723.2,691.1 723.6,691.6 724.0,692.9 724.0,693.3 724.1,693.8 724.2,694.3 724.2,694.9 724.2,695.5 724.3,696.1 724.3,696.8 724.3,697.5 724.3,698.3 724.3,699.1 724.3,699.9 724.3,700.7 724.3,701.6 724.3,702.5 724.3,703.5 724.3,704.5 724.4,704.9 724.4,705.4 724.4,705.8 724.4,706.3 724.4,706.9 724.4,707.4 724.4,707.9 724.4,708.5 724.4,709.0 724.5,709.6 724.5,710.2 724.5,710.8 724.5,711.4 724.5,712.0 724.5,712.6 724.5,713.3 724.5,713.9 724.5,714.6 724.5,715.3 724.6,716.0 724.6,716.6 724.6,717.3 724.6,718.1 724.6,718.8 724.6,719.5 724.6,720.2 724.6,721.0 724.6,721.7 724.6,722.4 724.6,723.2 724.7,724.0 724.7,724.7 724.7,725.5 724.7,726.3 724.7,727.1 724.7,727.8 724.7,728.6 724.7,729.4 724.7,730.2 724.7,731.0 724.8,731.8 724.8,732.6 724.8,733.4 724.8,734.2 724.8,735.0 724.8,735.8 724.8,736.6 724.8,737.4 724.8,738.2 724.8,739.0 724.8,739.8 724.9,740.6 724.9,741.3 724.9,742.1 724.9,742.9 724.9,743.7 724.9,744.5 724.9,745.3 724.9,746.0 724.9,746.8 724.9,747.6 724.9,748.3 725.0,749.1 725.0,749.8 725.0,750.5 725.0,751.3 725.0,752.0 725.0,752.7 725.0,753.4 725.0,754.1 725.0,754.8 725.0,755.5 725.1,756.2 725.1,756.8 725.1,757.5 725.1,758.1 725.1,758.8 725.1,759.4 725.1,760.0 725.1,760.8 725.1,761.6 725.1,762.4 725.2,763.2 725.2,763.9 725.2,764.7 725.2,765.5 725.2,766.2 725.2,766.9 725.2,767.7 725.2,768.4 725.3,769.1 725.3,769.9 725.3,770.6 725.3,771.3 725.3,772.0 725.3,772.7 725.3,773.4 725.3,774.1 725.4,774.8 725.4,775.5 725.4,776.2 725.4,776.8 725.4,777.5 725.4,778.2 725.4,778.9 725.4,779.6 725.5,780.2 725.5,780.9 725.5,781.6 725.5,782.3 725.5,783.0 725.5,783.6 725.5,784.3 725.5,785.0 725.5,785.7 725.6,786.4 725.6,787.0 725.6,787.7 725.6,788.4 725.6,789.1 725.6,789.8 725.6,790.5 725.6,791.2 725.6,791.9 725.6,792.6 725.7,793.3 725.7,794.0 725.7,794.7 725.7,795.4 725.7,796.1 725.7,796.8 725.7,797.5 725.7,798.2 725.7,798.9 725.7,799.6 725.7,800.3 725.7,801.0 725.8,801.7 725.8,802.4 725.8,803.1 725.8,803.8 725.8,804.5 725.8,805.2 725.8,805.9 725.8,806.6 725.8,807.3 725.8,808.0 725.8,808.7 725.8,809.4 725.8,810.1 725.8,810.8 725.8,811.5 725.8,812.2 725.9,812.9 725.9,813.7 725.9,814.4 725.9,815.1 725.9,815.8 725.9,816.5 725.9,817.2 725.9,818.0 725.9,818.7 725.9,819.4 725.9,820.1 725.9,820.9 725.9,821.6 725.9,822.3 725.9,823.1 726.0,823.8 726.0,824.5 726.0,825.2 726.0,825.9 726.0,826.7 726.0,827.5 726.0,828.3 726.0,829.1 726.0,829.9 726.0,830.8 726.0,831.6 726.0,832.5 726.0,833.4 726.0,834.3 726.0,835.2 726.1,836.1 726.1,837.1 726.1,838.0 726.1,838.9 726.1,839.9 726.1,840.8 726.1,841.7 726.1,842.7 726.1,843.6 726.1,844.5 726.1,845.5 726.1,846.4 726.1,847.3 726.1,848.2 726.1,849.1 726.2,849.9 726.2,850.8 726.2,851.6 726.2,852.4 726.2,853.2 726.2,854.0 726.2,854.8 726.2,855.5 726.2,856.2 726.2,856.9 726.2,857.6 726.2,858.2 726.2,858.8 726.3,859.4 726.3,859.9 726.3,860.4 726.3,860.9 726.3,861.3 726.3,861.7 726.3,862.0 726.3,862.3 726.3,862.6 726.3,862.8 726.3,863.0 726.4,863.1 726.4,863.2 726.4,863.2 726.4,863.1 726.4,863.0 726.4,862.7 726.5,862.4 726.5,862.0 726.5,861.5 726.5,860.9 726.5,860.3 726.6,859.6 726.6,858.8 726.6,858.0 726.6,857.2 726.7,856.3 726.7,855.4 726.7,854.4 726.7,853.5 726.8,852.5 726.8,851.6 726.8,850.6 726.8,849.6 726.8,848.7 726.9,847.7 726.9,846.8 726.9,846.0 726.9,845.1 726.9,844.5 726.9,843.9 726.9,843.2 727.0,842.6 727.0,842.0 727.0,841.3 727.0,840.6 727.0,840.0 727.0,839.3 727.0,838.6 727.0,837.9 727.0,837.2 727.0,836.5 727.0,835.8 727.0,835.1 727.1,834.4 727.1,833.7 727.1,833.0 727.1,832.3 727.1,831.5 727.1,830.8 727.1,830.1 727.1,829.3 727.1,828.6 727.1,827.9 727.1,827.1 727.1,826.4 727.1,825.6 727.1,824.9 727.1,824.2 727.1,823.4 727.1,822.7 727.1,821.9 727.2,821.2 727.2,820.5 727.2,819.7 727.2,819.0 727.2,818.2 727.2,817.5 727.2,816.8 727.2,816.1 727.2,815.3 727.2,814.6 727.2,813.9 727.2,813.2 727.2,812.5 727.3,811.8 727.3,811.1 727.3,810.3 727.3,809.6 727.3,808.9 727.3,808.2 727.3,807.4 727.3,806.7 727.3,806.0 727.3,805.2 727.3,804.5 727.4,803.8 727.4,803.0 727.4,802.3 727.4,801.6 727.4,800.8 727.4,800.1 727.4,799.4 727.4,798.7 727.4,797.9 727.4,797.2 727.5,796.5 727.5,795.7 727.5,795.0 727.5,794.3 727.5,793.6 727.5,792.9 727.5,792.1 727.5,791.4 727.6,790.7 727.6,790.0 727.6,789.3 727.6,788.6 727.6,787.9 727.6,787.2 727.6,786.6 727.6,785.9 727.7,785.2 727.7,784.5 727.7,783.9 727.7,783.2 727.7,782.6 727.7,781.9 727.8,781.3 727.8,780.5 727.8,779.7 727.8,779.0 727.9,778.3 727.9,777.5 727.9,776.8 727.9,776.1 728.0,775.4 728.0,774.8 728.0,774.1 728.1,773.4 728.1,772.7 728.1,772.1 728.2,771.4 728.2,770.7 728.2,770.1 728.3,769.4 728.3,768.7 728.3,768.0 728.4,767.4 728.4,766.7 728.4,766.0 728.4,765.3 728.5,764.5 728.5,763.8 728.5,763.1 728.6,762.3 728.6,761.6 728.6,760.8 728.6,760.0 728.6,759.4 728.6,758.7 728.7,758.1 728.7,757.4 728.7,756.7 728.7,756.0 728.7,755.3 728.7,754.6 728.7,753.9 728.7,753.1 728.7,752.4 728.7,751.6 728.7,750.9 728.7,750.1 728.7,749.3 728.7,748.5 728.7,747.8 728.7,747.0 728.7,746.2 728.7,745.4 728.7,744.6 728.7,743.8 728.7,743.0 728.7,742.2 728.7,741.4 728.7,740.6 728.7,739.8 728.7,739.0 728.7,738.3 728.7,737.5 728.7,736.7 728.7,736.0 728.7,735.2 728.7,734.5 728.7,733.7 728.8,733.0 728.8,732.3 728.8,731.6 728.8,730.9 728.8,730.2 728.8,729.5 728.8,728.9 728.8,728.2 728.8,727.6 728.8,727.0 728.9,726.4 728.9,725.8 728.9,725.3 728.9,724.7 729.0,724.2 729.0,723.7 729.0,722.8 729.1,721.9 729.2,721.1 729.2,720.3 729.3,719.5 729.4,718.8 729.5,718.1 729.5,717.4 729.6,716.8 729.7,716.1 729.8,715.5 729.9,714.8 729.9,714.1 730.0,713.4 730.1,712.6 730.2,711.9 730.3,711.2 730.3,710.5 730.4,709.8 730.5,709.1 730.6,708.4 730.7,707.7 730.8,707.0 730.9,706.4 731.1,705.6 731.2,704.9 731.4,704.1 731.6,703.4 731.8,702.7 732.0,702.0 732.2,701.3 732.3,700.6 732.5,699.9 732.7,699.1 732.9,698.3 733.1,697.6 733.3,696.9 733.5,696.3 733.8,695.8 734.5,694.9 735.2,694.4 735.9,694.0 736.5,693.6 737.2,693.3 737.8,692.9 738.4,692.4 739.1,692.0 739.7,691.6 740.4,691.2 741.0,691.0 741.8,691.3 742.5,691.9 743.2,692.6 743.9,693.4 744.6,693.7 745.3,694.0 745.8,694.3 746.2,695.0 746.3,695.8 746.4,696.7 746.5,697.7 746.6,698.4 746.7,699.2 746.7,700.1 746.8,701.0 746.8,701.8 746.9,702.6 747.0,703.4 747.1,704.0 747.4,705.3 747.8,705.9 748.0,705.6 748.1,704.7 748.3,703.7 748.5,702.9 748.7,702.6 749.2,703.3 749.7,704.0 749.9,703.0 750.1,702.0 750.6,702.6 751.1,703.3 751.6,703.0 752.1,702.2 752.7,701.4 753.7,701.2 754.7,701.6 755.3,701.9 755.8,702.4 756.3,703.1 756.7,703.8 757.1,704.5 757.4,705.3 757.8,706.1 758.2,706.9 758.5,707.7 758.9,708.5 759.3,709.2 759.8,709.8 760.4,710.3 760.9,710.8 761.4,711.3 761.9,711.9 762.3,712.5 762.6,713.3 762.8,713.9 762.9,714.6 763.1,715.3 763.2,716.0 763.2,716.8 763.3,717.6 763.4,718.4 763.5,719.1 763.6,719.8 763.7,720.5 763.8,721.3 763.9,722.0 763.9,722.8 764.0,723.5 764.1,724.2 764.2,724.9 764.3,725.6 764.3,726.4 764.4,727.2 764.5,728.0 764.6,728.7 764.7,729.5 764.8,730.1 765.0,730.7 765.2,731.6 765.4,732.4 765.7,732.9 766.0,732.4 766.3,731.7 766.5,730.7 766.6,730.2 766.7,729.6 766.8,728.9 766.8,728.2 766.8,727.4 766.9,726.7 766.9,725.9 766.9,725.1 767.0,724.3 767.0,723.6 767.1,722.8 767.1,722.1 767.1,721.3 767.2,720.5 767.2,719.7 767.2,718.9 767.3,718.2 767.3,717.4 767.4,716.7 767.5,716.0 767.5,715.4 767.7,714.4 767.8,713.5 767.9,712.7 768.1,711.9 768.3,711.3 768.9,710.4 769.6,709.7 770.2,709.2 770.8,708.8 771.4,708.7 772.1,709.3 772.6,710.2 773.2,710.8 773.7,711.5 774.2,712.3 774.4,712.9 774.6,713.5 774.7,714.3 774.8,715.0 774.9,715.9 775.0,716.7 775.1,717.6 775.2,718.4 775.3,719.1 775.3,719.7 775.4,720.3 775.5,720.9 775.5,721.6 775.6,722.2 775.6,722.9 775.7,723.6 775.7,724.3 775.7,725.1 775.8,725.9 775.8,726.8 775.9,727.7 775.9,728.7 775.9,729.1 776.0,729.6 776.0,730.1 776.0,730.6 776.0,731.1 776.1,731.6 776.1,732.2 776.1,732.8 776.1,733.4 776.1,734.0 776.2,734.6 776.2,735.3 776.2,735.9 776.2,736.6 776.2,737.3 776.3,738.0 776.3,738.7 776.3,739.4 776.3,740.1 776.3,740.9 776.4,741.6 776.4,742.4 776.4,743.2 776.4,744.0 776.5,744.7 776.5,745.5 776.5,746.3 776.5,747.2 776.5,748.0 776.6,748.8 776.6,749.6 776.6,750.4 776.6,751.3 776.6,752.1 776.7,752.9 776.7,753.8 776.7,754.6 776.7,755.4 776.7,756.3 776.8,757.1 776.8,757.9 776.8,758.8 776.8,759.6 776.8,760.4 776.9,761.2 776.9,762.1 776.9,762.9 776.9,763.7 777.0,764.5 777.0,765.3 777.0,766.0 777.0,766.8 777.0,767.6 777.1,768.3 777.1,769.1 777.1,769.8 777.1,770.6 777.1,771.3 777.2,772.0 777.2,772.7 777.2,773.3 777.2,774.0 777.3,774.6 777.3,775.3 777.3,775.9 777.3,776.5 777.3,777.1 777.4,777.6 777.4,778.2 777.4,778.7 777.4,779.2 777.5,779.7 777.5,780.2 777.5,780.6 777.6,781.6 777.6,782.5 777.7,783.3 777.7,784.1 777.8,784.8 777.8,785.5 777.9,786.1 777.9,786.8 778.0,787.4 778.0,788.0 778.1,788.7 778.1,789.3 778.2,789.9 778.2,790.6 778.3,791.3 778.4,792.0 778.4,792.7 778.5,793.4 778.6,794.2 778.6,794.9 778.7,795.6 778.8,796.3 778.8,797.1 778.9,797.8 779.0,798.5 779.1,799.2 779.1,799.9 779.2,800.6 779.3,801.3 779.4,801.9 779.5,802.7 779.5,803.4 779.6,804.1 779.7,804.8 779.8,805.5 779.9,806.2 780.0,806.9 780.1,807.6 780.2,808.4 780.3,809.1 780.4,809.9 780.5,810.6 780.6,811.4 780.6,812.3 780.7,813.2 780.8,814.2 780.8,815.1 780.9,816.1 780.9,817.1 781.0,818.0 781.1,818.8 781.1,819.6 781.2,820.3 781.3,820.8 781.3,821.2 781.4,821.5 781.5,821.6 781.6,821.5 781.7,821.1 781.8,820.5 782.0,819.8 782.1,818.9 782.2,818.0 782.4,817.0 782.5,816.1 782.6,815.2 782.6,814.6 782.7,814.0 782.7,813.4 782.7,812.7 782.8,812.1 782.8,811.4 782.8,810.7 782.9,810.0 782.9,809.2 782.9,808.5 782.9,807.8 782.9,807.0 783.0,806.3 783.0,805.5 783.0,804.8 783.0,804.1 783.0,803.3 783.1,802.6 783.1,801.9 783.1,801.2 783.1,800.5 783.2,799.8 783.2,799.1 783.2,798.4 783.3,797.7 783.3,797.0 783.3,796.2 783.3,795.5 783.4,794.8 783.4,794.1 783.4,793.4 783.4,792.7 783.5,792.0 783.5,791.3 783.5,790.6 783.6,790.0 783.6,789.3 783.6,788.6 783.7,787.9 783.7,787.1 783.7,786.4 783.8,785.7 783.8,784.9 783.8,784.2 783.9,783.5 783.9,782.8 783.9,782.1 784.0,781.4 784.0,780.7 784.0,780.0 784.1,779.3 784.1,778.6 784.1,778.0 784.2,777.2 784.2,776.5 784.3,775.8 784.3,775.1 784.4,774.5 784.4,773.8 784.5,773.1 784.5,772.4 784.6,771.6 784.6,770.8 784.7,770.0 784.7,769.4 784.7,768.8 784.7,768.1 784.8,767.4 784.8,766.7 784.8,766.0 784.8,765.2 784.8,764.5 784.8,763.7 784.8,762.9 784.8,762.1 784.9,761.3 784.9,760.5 784.9,759.6 784.9,758.8 784.9,758.0 784.9,757.3 784.9,756.5 784.9,755.7 785.0,755.0 785.0,754.3 785.0,753.6 785.0,753.0 785.1,752.3 785.1,751.7 785.1,751.2 785.2,750.3 785.3,749.4 785.4,748.6 785.5,747.9 785.6,747.1 785.7,746.4 785.8,745.8 786.0,745.1 786.1,744.2 786.3,743.4 786.5,742.7 786.7,741.9 787.0,741.2 787.2,740.5 787.4,739.7 787.7,739.0 788.0,738.3 788.2,737.6 788.5,736.9 788.8,736.2 789.0,735.4 789.2,734.7 789.5,734.0 789.8,733.3 790.1,732.8 790.5,732.1 791.0,731.6 791.6,731.1 792.6,731.2 793.6,731.1 794.4,731.0 795.2,731.2 796.0,731.5 796.7,731.9 797.2,732.2 797.7,732.7 798.3,733.3 798.8,733.8 799.3,734.3 799.8,734.8 800.3,735.6 800.8,735.9 801.2,735.3 801.5,734.3 801.8,733.9 802.3,734.2 802.8,735.0 803.4,735.8 803.9,736.7 804.4,737.5 804.9,737.8 805.7,737.5 806.4,736.9 807.0,736.2 807.5,735.5 808.0,734.8 808.5,734.2 809.0,733.7 809.5,733.1 810.3,732.9 811.1,732.7 811.5,732.1 811.8,731.2 812.2,730.3 812.6,729.7 813.4,729.7 814.1,729.7 814.6,729.3 814.9,728.6 815.3,727.8 815.7,727.1 816.0,726.5 816.4,725.8 816.8,725.2 817.2,724.6 817.7,723.9 818.3,723.3 818.7,722.5 819.0,721.8 819.1,720.8 819.3,719.8 819.4,718.9 819.6,718.2 819.8,717.9 820.0,718.3 820.3,719.1 820.7,720.0 821.0,720.6 821.8,719.9 822.0,719.6 822.1,719.0 822.2,718.3 822.2,717.5 822.3,716.7 822.3,715.7 822.4,714.8 822.4,713.9 822.5,713.1 822.6,712.3 822.7,711.7 822.8,711.3 823.3,710.5 823.9,710.3 824.0,710.4 824.1,710.6 824.2,711.0 824.2,711.6 824.3,712.2 824.3,712.9 824.4,713.7 824.4,714.5 824.4,715.4 824.4,716.3 824.5,717.2 824.5,718.2 824.5,719.1 824.5,720.0 824.5,720.8 824.5,721.6 824.6,722.4 824.6,723.0 824.7,723.6 824.8,724.7 825.0,725.8 825.1,726.7 825.3,727.4 825.4,727.6 825.5,727.5 825.5,727.2 825.6,726.7 825.6,726.1 825.7,725.4 825.7,724.5 825.8,723.6 825.8,722.7 825.9,721.7 825.9,720.8 826.0,719.9 826.0,719.1 826.1,718.4 826.2,717.6 826.3,716.7 826.4,715.9 826.4,715.1 826.5,714.3 826.7,713.6 826.8,712.9 826.9,712.3 827.2,711.3 827.6,710.5 827.9,709.7 828.5,708.7 829.0,708.2 829.1,708.4 829.2,708.8 829.3,709.3 829.3,710.1 829.4,710.9 829.4,711.8 829.4,712.8 829.4,713.7 829.4,714.6 829.5,715.4" fill="none" stroke="#1414d2" stroke-width="1.2" stroke-linejoin="round"/>
<rect x="55.7" y="595.0" width="773.80" height="480.40" fill="none" stroke="#333" stroke-width="1.4"/>
<line x1="48.00" y1="603.20" x2="55.7" y2="603.20" stroke="#222" stroke-width="1.3"/>
<text transform="translate(12.10,602.20) rotate(-90) scale(0.9,1)" text-anchor="middle" class="ax">100</text>
<line x1="48.00" y1="674.04" x2="55.7" y2="674.04" stroke="#222" stroke-width="1.3"/>
<text transform="translate(25.10,674.04) rotate(-90) scale(0.9,1)" text-anchor="middle" class="ax">90</text>
<line x1="48.00" y1="744.88" x2="55.7" y2="744.88" stroke="#222" stroke-width="1.3"/>
<text transform="translate(25.10,744.88) rotate(-90) scale(0.9,1)" text-anchor="middle" class="ax">80</text>
<line x1="48.00" y1="815.72" x2="55.7" y2="815.72" stroke="#222" stroke-width="1.3"/>
<text transform="translate(25.10,815.72) rotate(-90) scale(0.9,1)" text-anchor="middle" class="ax">70</text>
<line x1="48.00" y1="886.56" x2="55.7" y2="886.56" stroke="#222" stroke-width="1.3"/>
<text transform="translate(25.10,886.56) rotate(-90) scale(0.9,1)" text-anchor="middle" class="ax">60</text>
<line x1="48.00" y1="957.40" x2="55.7" y2="957.40" stroke="#222" stroke-width="1.3"/>
<text transform="translate(25.10,957.40) rotate(-90) scale(0.9,1)" text-anchor="middle" class="ax">50</text>
<line x1="162.50" y1="1075.4" x2="162.50" y2="1083.70" stroke="#222" stroke-width="1.3"/>
<text transform="translate(162.50,1106.00) scale(0.9,1)" text-anchor="middle" class="ax">3500</text>
<line x1="270.04" y1="1075.4" x2="270.04" y2="1083.70" stroke="#222" stroke-width="1.3"/>
<text transform="translate(270.04,1106.00) scale(0.9,1)" text-anchor="middle" class="ax">3000</text>
<line x1="377.57" y1="1075.4" x2="377.57" y2="1083.70" stroke="#222" stroke-width="1.3"/>
<text transform="translate(377.57,1106.00) scale(0.9,1)" text-anchor="middle" class="ax">2500</text>
<line x1="485.11" y1="1075.4" x2="485.11" y2="1083.70" stroke="#222" stroke-width="1.3"/>
<text transform="translate(485.11,1106.00) scale(0.9,1)" text-anchor="middle" class="ax">2000</text>
<line x1="592.64" y1="1075.4" x2="592.64" y2="1083.70" stroke="#222" stroke-width="1.3"/>
<text transform="translate(592.64,1106.00) scale(0.9,1)" text-anchor="middle" class="ax">1500</text>
<line x1="700.18" y1="1075.4" x2="700.18" y2="1083.70" stroke="#222" stroke-width="1.3"/>
<text transform="translate(700.18,1106.00) scale(0.9,1)" text-anchor="middle" class="ax">1000</text>
<line x1="807.71" y1="1075.4" x2="807.71" y2="1083.70" stroke="#222" stroke-width="1.3"/>
<text transform="translate(807.71,1106.00) scale(0.9,1)" text-anchor="middle" class="ax">500</text>
<text transform="translate(442.60,1129.60) scale(0.9,1)" text-anchor="middle" class="tt">Wavenumber cm-1</text>
<text x="76.5" y="983.0" class="pl">(b)</text>
<line x1="286.54" y1="987.00" x2="286.54" y2="1022.60" stroke="#3a3ae0" stroke-width="1.1"/>
<text transform="translate(291.14,1070.20) rotate(-90)" class="an">2923.24</text>
<line x1="301.38" y1="987.00" x2="301.38" y2="1022.60" stroke="#3a3ae0" stroke-width="1.1"/>
<text transform="translate(305.98,1070.20) rotate(-90)" class="an">2854.28</text>
<line x1="576.38" y1="987.00" x2="576.38" y2="1022.60" stroke="#3a3ae0" stroke-width="1.1"/>
<text transform="translate(580.98,1070.20) rotate(-90)" class="an">1575.61</text>
<polyline points="579.88,987.00 579.88,998.50 587.80,1010.60 587.80,1022.60" fill="none" stroke="#3a3ae0" stroke-width="1.1"/>
<text transform="translate(592.40,1070.20) rotate(-90)" class="an">1559.31</text>
<line x1="610.00" y1="987.00" x2="610.00" y2="1022.60" stroke="#3a3ae0" stroke-width="1.1"/>
<text transform="translate(614.60,1070.20) rotate(-90)" class="an">1419.27</text>
<line x1="672.54" y1="987.00" x2="672.54" y2="1022.60" stroke="#3a3ae0" stroke-width="1.1"/>
<text transform="translate(677.14,1070.20) rotate(-90)" class="an">1128.48</text>
<line x1="689.83" y1="987.00" x2="689.83" y2="1022.60" stroke="#3a3ae0" stroke-width="1.1"/>
<text transform="translate(694.43,1070.20) rotate(-90)" class="an">1048.08</text>
<line x1="705.47" y1="987.00" x2="705.47" y2="1022.60" stroke="#3a3ae0" stroke-width="1.1"/>
<text transform="translate(710.07,1070.20) rotate(-90)" class="an">975.40</text>
<line x1="726.53" y1="987.00" x2="726.53" y2="1022.60" stroke="#3a3ae0" stroke-width="1.1"/>
<text transform="translate(731.13,1070.20) rotate(-90)" class="an">877.44</text>
<line x1="747.32" y1="987.00" x2="747.32" y2="1022.60" stroke="#3a3ae0" stroke-width="1.1"/>
<text transform="translate(751.92,1070.20) rotate(-90)" class="an">780.79</text>
<polyline points="750.31,987.00 750.31,998.50 758.80,1010.60 758.80,1022.60" fill="none" stroke="#3a3ae0" stroke-width="1.1"/>
<text transform="translate(763.40,1070.20) rotate(-90)" class="an">766.88</text>
<polyline points="765.75,987.00 765.75,998.50 770.50,1010.60 770.50,1022.60" fill="none" stroke="#3a3ae0" stroke-width="1.1"/>
<text transform="translate(775.10,1070.20) rotate(-90)" class="an">695.08</text>
<line x1="781.44" y1="987.00" x2="781.44" y2="1022.60" stroke="#3a3ae0" stroke-width="1.1"/>
<text transform="translate(786.04,1070.20) rotate(-90)" class="an">622.16</text>
</svg></body></html>
